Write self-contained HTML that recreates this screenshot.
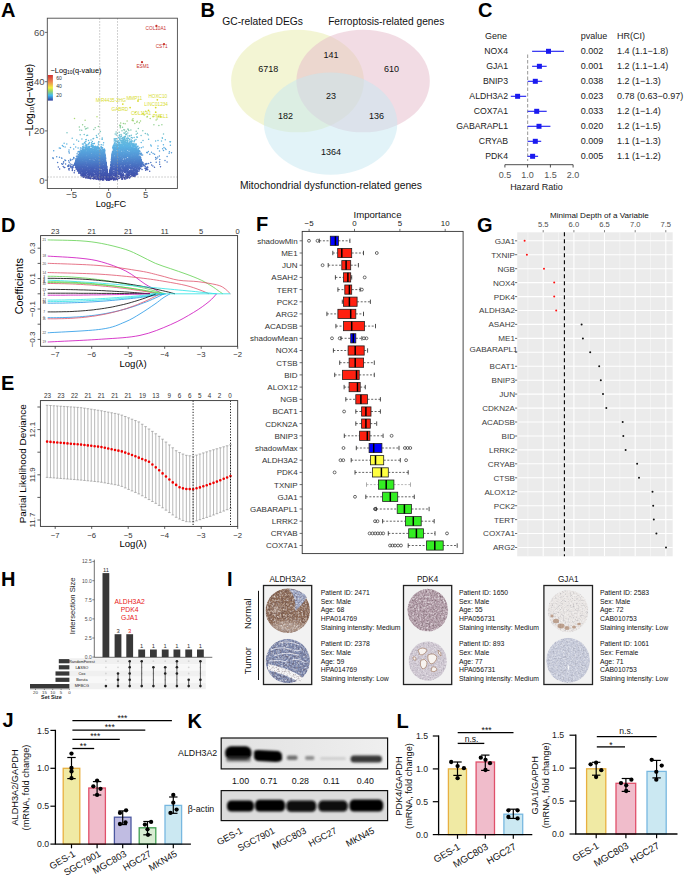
<!DOCTYPE html>
<html><head><meta charset="utf-8"><style>
html,body{margin:0;padding:0;background:#fff;}
body{width:685px;height:876px;overflow:hidden;}
svg{display:block;font-family:"Liberation Sans",sans-serif;}
</style></head><body>
<svg width="685" height="876" viewBox="0 0 685 876">
<rect width="685" height="876" fill="#fff"/>
<text x="1.0" y="17.0" font-size="20" text-anchor="start" fill="#000" font-weight="bold">A</text>
<path d="M108.2 180.2h0M108.3 180.2h0M106.6 180.2h0M109.3 180.1h0M108.3 180.1h0M108.9 180.1h0M109.3 180.0h0M108.9 180.0h0M108.1 180.0h0M113.9 180.0h0M108.8 179.9h0M108.4 179.9h0M108.0 179.9h0M109.3 179.9h0M109.0 179.9h0M102.6 179.9h0M108.3 179.9h0M103.7 179.8h0M108.2 179.8h0" stroke="#3c46a2" stroke-width="1.5" stroke-linecap="round" fill="none"/>
<path d="M100.2 179.8h0M108.9 179.8h0M109.9 179.8h0M113.5 179.7h0M103.7 179.7h0M117.5 179.7h0M102.5 179.7h0M100.8 179.7h0M108.8 179.7h0" stroke="#3c47a2" stroke-width="1.5" stroke-linecap="round" fill="none"/>
<path d="M106.6 179.7h0M115.4 179.7h0M108.3 179.7h0M99.1 179.7h0M108.8 179.7h0M108.0 179.7h0M107.8 179.7h0M108.8 179.6h0M108.9 179.6h0M108.4 179.6h0M106.0 179.6h0M107.9 179.6h0M107.4 179.6h0M103.2 179.6h0M105.9 179.5h0M108.8 179.5h0M109.8 179.5h0M108.8 179.5h0M110.2 179.5h0M117.1 179.5h0M110.2 179.5h0M109.0 179.5h0M108.1 179.5h0M111.7 179.5h0M98.4 179.5h0M114.1 179.4h0M108.9 179.4h0M108.4 179.4h0M108.8 179.4h0M108.3 179.4h0M107.0 179.4h0M108.3 179.4h0M108.8 179.4h0" stroke="#3c47a3" stroke-width="1.5" stroke-linecap="round" fill="none"/>
<path d="M108.8 179.4h0M107.4 179.3h0M108.0 179.3h0M110.6 179.3h0M109.2 179.3h0M107.5 179.3h0M108.2 179.3h0M96.3 179.3h0M122.2 179.3h0M109.6 179.3h0M101.1 179.2h0M111.0 179.2h0M108.4 179.2h0M108.8 179.2h0M107.9 179.2h0M103.4 179.2h0M106.3 179.2h0" stroke="#3c48a3" stroke-width="1.5" stroke-linecap="round" fill="none"/>
<path d="M108.9 179.2h0M108.4 179.2h0M109.7 179.2h0M109.2 179.2h0M107.2 179.2h0M109.1 179.1h0M108.3 179.1h0M116.3 179.1h0M108.3 179.1h0M111.3 179.1h0M108.8 179.1h0M100.6 179.0h0M108.4 179.0h0M108.3 179.0h0M108.0 179.0h0M97.5 179.0h0M108.8 179.0h0" stroke="#3c48a4" stroke-width="1.5" stroke-linecap="round" fill="none"/>
<path d="M124.5 179.0h0M93.6 179.0h0M125.7 178.9h0M122.5 178.9h0M101.4 178.9h0M114.9 178.9h0M108.1 178.9h0M107.7 178.9h0M121.7 178.9h0M108.0 178.9h0M108.4 178.9h0M101.2 178.9h0M109.7 178.8h0M116.0 178.8h0M108.9 178.8h0M111.0 178.8h0M108.8 178.8h0M106.9 178.8h0M95.8 178.8h0M99.6 178.8h0M122.3 178.7h0M108.4 178.7h0M107.6 178.7h0M107.1 178.7h0M108.2 178.7h0M112.5 178.7h0" stroke="#3d49a4" stroke-width="1.5" stroke-linecap="round" fill="none"/>
<path d="M90.9 178.7h0M109.4 178.6h0M109.0 178.6h0M113.6 178.6h0M108.4 178.6h0M102.5 178.6h0M108.4 178.6h0M89.9 178.6h0M94.4 178.6h0M118.2 178.6h0M110.8 178.6h0M111.4 178.6h0M107.9 178.6h0M114.2 178.6h0" stroke="#3d49a5" stroke-width="1.5" stroke-linecap="round" fill="none"/>
<path d="M108.9 178.5h0M113.1 178.5h0M92.7 178.5h0M108.3 178.5h0M94.9 178.5h0M108.8 178.5h0M108.2 178.5h0M109.1 178.5h0M98.1 178.5h0M110.7 178.4h0M105.1 178.4h0M108.3 178.4h0M107.8 178.4h0M90.5 178.4h0M109.2 178.4h0M109.0 178.4h0M98.1 178.4h0M110.4 178.4h0M109.7 178.4h0M108.2 178.3h0M108.3 178.3h0M111.5 178.3h0M114.4 178.3h0M90.2 178.3h0M108.3 178.3h0M108.1 178.3h0M109.1 178.3h0M100.4 178.3h0M108.1 178.3h0M98.6 178.3h0M111.7 178.3h0M108.3 178.3h0M108.9 178.2h0M110.0 178.2h0M108.9 178.2h0M109.1 178.2h0M94.1 178.2h0M119.3 178.2h0M122.2 178.2h0M102.8 178.2h0M124.8 178.2h0M99.8 178.2h0M108.3 178.2h0M107.1 178.2h0" stroke="#3d4aa5" stroke-width="1.5" stroke-linecap="round" fill="none"/>
<path d="M100.7 178.1h0M127.7 178.1h0M108.0 178.1h0M129.6 178.1h0M105.2 178.1h0M97.6 178.1h0M116.5 178.1h0M104.7 178.1h0M108.0 178.0h0M106.1 178.0h0M112.1 178.0h0M108.1 178.0h0M103.2 178.0h0M98.9 178.0h0M88.7 178.0h0M114.9 178.0h0M109.6 178.0h0M109.1 178.0h0M98.2 178.0h0M107.5 178.0h0M117.0 178.0h0M105.3 178.0h0M126.8 178.0h0M107.2 177.9h0M87.6 177.9h0M98.9 177.9h0M87.8 177.9h0M107.9 177.9h0M85.9 177.9h0M97.0 177.9h0M100.0 177.9h0M117.0 177.9h0M104.1 177.9h0M111.3 177.8h0M114.9 177.8h0M95.8 177.8h0M109.8 177.8h0M89.3 177.8h0M90.3 177.8h0M109.4 177.8h0M99.7 177.8h0M126.9 177.8h0M107.3 177.8h0M107.4 177.8h0M113.6 177.8h0M108.1 177.8h0M108.0 177.8h0M107.7 177.8h0M105.2 177.8h0" stroke="#3d4ba6" stroke-width="1.5" stroke-linecap="round" fill="none"/>
<path d="M124.1 177.7h0M110.3 177.7h0M126.4 177.7h0M91.0 177.7h0M113.0 177.7h0M93.4 177.7h0M107.0 177.7h0M88.6 177.7h0M109.0 177.7h0M104.9 177.7h0" stroke="#3e4ca6" stroke-width="1.5" stroke-linecap="round" fill="none"/>
<path d="M123.3 177.6h0M106.9 177.6h0M109.4 177.6h0M100.4 177.6h0M100.4 177.6h0M109.2 177.6h0M86.0 177.6h0M129.6 177.5h0M105.9 177.5h0M112.9 177.5h0M85.8 177.5h0M127.3 177.5h0M87.0 177.5h0M111.1 177.5h0M106.5 177.5h0M121.0 177.5h0M98.8 177.5h0M110.1 177.5h0M102.2 177.5h0M126.2 177.4h0M120.8 177.4h0M107.9 177.4h0M120.1 177.4h0M103.6 177.4h0M101.2 177.4h0M94.7 177.4h0M124.4 177.4h0M110.5 177.4h0M100.7 177.4h0M107.0 177.4h0M89.9 177.4h0M111.0 177.4h0M100.0 177.3h0M109.0 177.3h0M108.1 177.3h0" stroke="#3e4ca7" stroke-width="1.5" stroke-linecap="round" fill="none"/>
<path d="M110.4 177.3h0M107.3 177.3h0M108.1 177.3h0M103.2 177.3h0M127.5 177.3h0M86.9 177.3h0M108.1 177.2h0M128.2 177.2h0M111.5 177.2h0M121.9 177.2h0M107.8 177.2h0M83.4 177.2h0M117.7 177.2h0M109.3 177.2h0M93.9 177.2h0M110.4 177.2h0M107.0 177.2h0M109.2 177.1h0M121.7 177.1h0M125.8 177.1h0" stroke="#3e4da7" stroke-width="1.5" stroke-linecap="round" fill="none"/>
<path d="M106.0 177.1h0M103.3 177.1h0M116.2 177.1h0M122.0 177.1h0M128.5 177.1h0M83.3 177.1h0M101.7 177.1h0M98.0 177.0h0M108.0 177.0h0M86.5 177.0h0M128.5 177.0h0M130.1 177.0h0M116.5 177.0h0M109.6 177.0h0M107.6 177.0h0M97.2 177.0h0M110.1 177.0h0M109.6 177.0h0M101.3 177.0h0M109.8 177.0h0M109.0 176.9h0M120.7 176.9h0M100.1 176.9h0M95.8 176.9h0" stroke="#3e4da8" stroke-width="1.5" stroke-linecap="round" fill="none"/>
<path d="M109.7 176.9h0M108.0 176.9h0M128.6 176.9h0M101.7 176.9h0M98.6 176.9h0M111.0 176.9h0M86.8 176.9h0M93.6 176.8h0M117.8 176.8h0M122.9 176.8h0M125.4 176.8h0M103.5 176.8h0M95.8 176.8h0M89.8 176.8h0M107.2 176.8h0M93.9 176.7h0M95.3 176.7h0M93.2 176.7h0M115.0 176.7h0M118.1 176.7h0M110.3 176.7h0M84.4 176.7h0M107.5 176.7h0M107.8 176.7h0M84.0 176.7h0M122.5 176.7h0M93.5 176.7h0M93.3 176.6h0M109.3 176.6h0M86.6 176.6h0M97.3 176.6h0M126.5 176.6h0M109.3 176.6h0M108.0 176.6h0M118.7 176.6h0" stroke="#3e4ea8" stroke-width="1.5" stroke-linecap="round" fill="none"/>
<path d="M111.9 176.6h0M134.1 176.6h0M97.8 176.6h0M104.9 176.6h0M84.6 176.6h0M88.5 176.6h0M107.2 176.6h0M111.0 176.6h0M96.2 176.6h0M109.1 176.6h0M84.5 176.5h0M91.7 176.5h0M96.1 176.5h0M106.7 176.5h0" stroke="#3e4ea9" stroke-width="1.5" stroke-linecap="round" fill="none"/>
<path d="M110.3 176.5h0M108.1 176.5h0M102.8 176.5h0M90.0 176.5h0M103.0 176.5h0M109.1 176.5h0M115.6 176.5h0M87.3 176.4h0M86.9 176.4h0M112.1 176.4h0M87.2 176.4h0M95.4 176.4h0M111.9 176.4h0M102.6 176.4h0M96.7 176.4h0M109.3 176.4h0M128.1 176.4h0M107.8 176.4h0M106.2 176.4h0M84.4 176.4h0M105.7 176.4h0M109.3 176.3h0M109.5 176.3h0M99.5 176.3h0M127.5 176.3h0M97.3 176.3h0M92.9 176.3h0M116.7 176.3h0M109.6 176.3h0M97.9 176.2h0M100.4 176.2h0M105.4 176.2h0M118.0 176.2h0M101.6 176.2h0M106.2 176.2h0M96.8 176.2h0M123.2 176.2h0M109.9 176.2h0M105.6 176.2h0M112.8 176.2h0M109.4 176.2h0M120.3 176.2h0M110.7 176.2h0M100.2 176.2h0M109.1 176.2h0M107.8 176.2h0M88.3 176.2h0M130.8 176.2h0M111.7 176.2h0M112.5 176.1h0M126.1 176.1h0M120.4 176.1h0M133.8 176.1h0M120.5 176.1h0M110.0 176.1h0M106.7 176.1h0" stroke="#3f4fa9" stroke-width="1.5" stroke-linecap="round" fill="none"/>
<path d="M101.3 176.1h0M92.4 176.1h0M110.2 176.1h0M121.6 176.0h0M95.8 176.0h0M109.1 176.0h0M135.3 176.0h0M125.6 176.0h0M109.2 176.0h0M108.0 176.0h0M108.0 176.0h0M121.9 176.0h0M135.0 176.0h0M115.3 176.0h0M101.0 176.0h0M121.3 176.0h0M134.1 176.0h0M81.8 176.0h0M133.5 175.9h0M100.8 175.9h0M125.2 175.9h0M106.9 175.9h0M131.6 175.9h0M82.6 175.9h0M110.3 175.9h0M101.1 175.9h0M84.8 175.9h0M86.9 175.8h0M82.9 175.8h0M134.4 175.8h0M89.7 175.8h0M102.9 175.8h0M97.7 175.8h0M106.8 175.8h0M107.9 175.8h0M132.5 175.8h0M83.6 175.8h0M91.6 175.8h0M117.6 175.7h0M109.7 175.7h0M94.9 175.7h0M85.6 175.7h0M107.1 175.7h0M85.7 175.7h0" stroke="#3f50aa" stroke-width="1.5" stroke-linecap="round" fill="none"/>
<path d="M129.1 175.6h0M103.1 175.6h0M91.2 175.6h0M105.9 175.6h0M81.0 175.6h0M123.8 175.6h0" stroke="#3f51aa" stroke-width="1.5" stroke-linecap="round" fill="none"/>
<path d="M83.2 175.6h0M104.0 175.6h0M122.3 175.6h0M83.2 175.6h0M101.6 175.5h0M122.0 175.5h0M106.8 175.5h0M107.7 175.5h0M109.7 175.5h0M107.8 175.5h0M115.4 175.5h0M105.3 175.5h0M129.4 175.5h0M107.6 175.5h0M114.6 175.5h0M115.4 175.5h0M116.6 175.5h0M99.0 175.5h0M106.9 175.4h0M83.0 175.4h0M132.3 175.4h0M82.8 175.4h0M104.0 175.4h0M113.7 175.4h0M100.8 175.4h0M109.3 175.4h0M104.0 175.4h0M110.4 175.4h0M109.3 175.4h0M98.5 175.4h0M127.5 175.4h0M134.7 175.3h0M83.5 175.3h0M106.9 175.3h0M128.0 175.3h0M91.7 175.3h0M89.1 175.3h0M121.4 175.3h0M107.9 175.3h0M110.3 175.3h0M108.0 175.3h0M93.3 175.3h0M83.5 175.3h0" stroke="#3f51ab" stroke-width="1.5" stroke-linecap="round" fill="none"/>
<path d="M132.8 175.2h0M111.7 175.2h0M122.4 175.2h0M111.7 175.2h0M93.9 175.2h0M109.4 175.2h0M116.2 175.2h0M120.8 175.2h0M102.9 175.1h0M107.5 175.1h0M82.6 175.1h0M123.2 175.1h0M128.6 175.1h0M107.2 175.1h0M115.8 175.1h0M123.4 175.1h0M101.9 175.1h0M127.4 175.1h0M105.1 175.1h0M93.0 175.1h0M96.7 175.1h0M90.0 175.1h0" stroke="#4052ab" stroke-width="1.5" stroke-linecap="round" fill="none"/>
<path d="M102.8 175.1h0M133.9 175.1h0M121.3 175.0h0M99.0 175.0h0M134.7 175.0h0M111.7 175.0h0M110.5 175.0h0M106.3 175.0h0M101.3 175.0h0M84.8 175.0h0M107.0 174.9h0M97.1 174.9h0M123.2 174.9h0M105.7 174.9h0M135.0 174.9h0M101.5 174.9h0M82.2 174.9h0M88.1 174.9h0M123.9 174.9h0M109.7 174.9h0M85.0 174.9h0" stroke="#4052ac" stroke-width="1.5" stroke-linecap="round" fill="none"/>
<path d="M93.0 174.9h0M92.8 174.8h0M131.7 174.8h0M103.3 174.8h0M88.8 174.8h0M136.7 174.8h0M107.8 174.8h0M98.6 174.8h0M110.2 174.8h0M111.4 174.8h0M120.8 174.8h0M98.0 174.8h0M104.8 174.8h0M110.4 174.8h0M81.4 174.8h0M115.8 174.8h0M85.2 174.8h0M98.6 174.8h0M100.6 174.8h0M97.8 174.8h0M133.4 174.7h0M109.9 174.7h0M83.8 174.7h0M131.8 174.7h0M133.7 174.7h0M91.6 174.7h0M126.1 174.7h0M117.1 174.7h0M92.4 174.7h0M110.6 174.7h0M127.8 174.7h0M109.4 174.7h0M134.8 174.7h0M85.5 174.7h0M126.8 174.7h0M110.6 174.7h0M123.0 174.7h0M119.5 174.7h0M116.3 174.7h0M99.2 174.6h0M128.4 174.6h0M84.8 174.6h0M93.3 174.6h0M107.8 174.6h0M115.6 174.6h0M127.1 174.6h0M107.3 174.6h0M127.0 174.6h0M81.7 174.6h0M122.8 174.6h0M95.7 174.6h0M113.9 174.6h0M92.7 174.6h0" stroke="#4053ac" stroke-width="1.5" stroke-linecap="round" fill="none"/>
<path d="M109.8 174.6h0M89.7 174.6h0M91.9 174.5h0M83.3 174.5h0M82.9 174.5h0M109.5 174.5h0M101.5 174.5h0M83.6 174.5h0M93.7 174.5h0M107.2 174.5h0M88.8 174.5h0M130.5 174.5h0M112.9 174.5h0" stroke="#4053ad" stroke-width="1.5" stroke-linecap="round" fill="none"/>
<path d="M116.6 174.4h0M85.1 174.4h0M88.9 174.4h0M103.8 174.4h0M111.1 174.4h0M84.1 174.4h0M109.9 174.4h0M101.5 174.4h0M87.4 174.4h0M99.4 174.4h0M128.2 174.4h0M127.1 174.4h0M94.5 174.4h0M90.2 174.4h0M129.2 174.3h0M85.5 174.3h0M83.0 174.3h0M126.4 174.3h0M137.1 174.3h0M122.2 174.3h0M127.3 174.3h0M94.6 174.3h0M128.9 174.3h0M96.7 174.3h0M81.2 174.3h0M132.4 174.3h0M85.3 174.3h0M120.2 174.3h0M91.6 174.2h0M109.6 174.2h0M100.5 174.2h0M89.3 174.2h0M135.8 174.2h0M109.4 174.2h0M118.5 174.2h0M133.9 174.2h0M101.9 174.2h0M98.4 174.2h0M88.5 174.2h0M107.7 174.2h0M89.4 174.2h0M83.0 174.2h0M96.6 174.1h0M131.0 174.1h0M111.8 174.1h0M96.4 174.1h0M91.2 174.1h0M104.7 174.1h0M137.7 174.1h0M128.4 174.1h0M107.7 174.1h0M127.2 174.1h0M91.8 174.1h0M114.5 174.1h0M91.7 174.1h0M100.8 174.1h0M123.4 174.1h0M109.7 174.1h0" stroke="#4054ad" stroke-width="1.5" stroke-linecap="round" fill="none"/>
<path d="M82.9 174.0h0M121.8 174.0h0M105.1 174.0h0M81.2 174.0h0M105.7 174.0h0M123.2 174.0h0M133.7 174.0h0M107.2 174.0h0M98.4 174.0h0M96.1 174.0h0M104.6 174.0h0M103.5 174.0h0M121.2 174.0h0M118.1 174.0h0M115.8 174.0h0M89.8 173.9h0M97.8 173.9h0M134.8 173.9h0M109.6 173.9h0M111.3 173.9h0M107.3 173.9h0M109.9 173.9h0M126.9 173.9h0M113.9 173.9h0M112.5 173.9h0M86.2 173.9h0M121.4 173.9h0M81.8 173.9h0M104.8 173.9h0M110.5 173.9h0M88.6 173.8h0M91.6 173.8h0M116.9 173.8h0M128.8 173.8h0M107.4 173.8h0M92.5 173.8h0M107.8 173.8h0M128.9 173.8h0M110.4 173.8h0M106.3 173.8h0M114.9 173.8h0M90.0 173.8h0M96.7 173.8h0M106.0 173.7h0M91.5 173.7h0M121.5 173.7h0M134.9 173.7h0M129.5 173.7h0M105.2 173.7h0M83.7 173.7h0M119.4 173.7h0M100.0 173.7h0M92.9 173.7h0M101.7 173.7h0M99.3 173.7h0M88.4 173.7h0M135.7 173.6h0M107.4 173.6h0M89.3 173.6h0M115.9 173.6h0M133.7 173.6h0" stroke="#4155ae" stroke-width="1.5" stroke-linecap="round" fill="none"/>
<path d="M100.4 173.6h0M92.2 173.6h0M131.3 173.6h0M111.2 173.6h0M107.7 173.6h0M109.5 173.6h0M98.1 173.6h0M111.8 173.6h0M110.2 173.6h0M131.7 173.6h0M134.2 173.6h0M83.1 173.5h0" stroke="#4156ae" stroke-width="1.5" stroke-linecap="round" fill="none"/>
<path d="M92.8 173.5h0M121.2 173.5h0M104.8 173.5h0M92.4 173.5h0M105.5 173.5h0M100.8 173.5h0M118.9 173.5h0M104.6 173.5h0M98.5 173.5h0M119.7 173.5h0M89.6 173.5h0M100.8 173.5h0M107.7 173.5h0M84.1 173.5h0M119.7 173.4h0M119.6 173.4h0M92.4 173.4h0M107.3 173.4h0M131.3 173.4h0M90.6 173.4h0M85.3 173.4h0M113.5 173.4h0M111.4 173.4h0M132.4 173.4h0M82.4 173.4h0M80.5 173.4h0M88.3 173.3h0M112.0 173.3h0M92.0 173.3h0M106.6 173.3h0M120.2 173.3h0M103.1 173.3h0M95.5 173.3h0M101.2 173.3h0M132.9 173.3h0M82.9 173.3h0M133.1 173.2h0M102.9 173.2h0M110.2 173.2h0M136.6 173.2h0M109.6 173.2h0" stroke="#4156af" stroke-width="1.5" stroke-linecap="round" fill="none"/>
<path d="M82.7 173.2h0M110.9 173.2h0M112.0 173.2h0M107.6 173.2h0M107.1 173.2h0M106.9 173.2h0M86.4 173.2h0M110.9 173.2h0M79.1 173.2h0M136.8 173.2h0M107.6 173.2h0M102.6 173.2h0M119.9 173.1h0M110.7 173.1h0M125.9 173.1h0M107.1 173.1h0M96.0 173.1h0M112.6 173.1h0M91.4 173.1h0M104.5 173.1h0M89.8 173.1h0M93.7 173.1h0M104.8 173.1h0M131.5 173.1h0M91.6 173.1h0M109.9 173.0h0M83.7 173.0h0M107.5 173.0h0M85.8 173.0h0M132.8 173.0h0M117.8 173.0h0M127.3 173.0h0M116.2 173.0h0M111.8 173.0h0" stroke="#4157af" stroke-width="1.5" stroke-linecap="round" fill="none"/>
<path d="M85.2 173.0h0M114.4 173.0h0M107.5 173.0h0M106.0 173.0h0M115.5 173.0h0M116.8 173.0h0M110.4 173.0h0M100.5 173.0h0M113.2 172.9h0M110.3 172.9h0M110.1 172.9h0M96.4 172.9h0M107.2 172.9h0M92.8 172.9h0M132.6 172.9h0M104.7 172.9h0M107.0 172.9h0M103.0 172.9h0M78.6 172.9h0M110.1 172.9h0M85.7 172.8h0M86.5 172.8h0M89.8 172.8h0M115.3 172.8h0" stroke="#4157b0" stroke-width="1.5" stroke-linecap="round" fill="none"/>
<path d="M133.3 172.8h0M87.8 172.8h0M87.4 172.8h0M79.9 172.8h0M136.5 172.8h0M80.6 172.8h0M104.1 172.8h0M121.0 172.8h0M135.2 172.7h0M129.3 172.7h0M130.4 172.7h0M94.7 172.7h0M80.1 172.7h0M105.3 172.7h0M97.5 172.7h0M80.6 172.7h0M128.6 172.7h0M74.2 172.7h0M128.0 172.7h0M102.2 172.6h0M111.1 172.6h0M95.2 172.6h0M83.3 172.6h0M111.3 172.6h0M87.6 172.6h0M88.1 172.6h0M92.5 172.6h0M100.5 172.6h0M116.7 172.6h0M102.5 172.5h0M95.5 172.5h0M127.9 172.5h0M119.1 172.5h0M120.9 172.5h0" stroke="#4258b0" stroke-width="1.5" stroke-linecap="round" fill="none"/>
<path d="M97.5 172.5h0M129.5 172.5h0M83.9 172.5h0M90.4 172.5h0M124.5 172.5h0M87.4 172.4h0" stroke="#4258b1" stroke-width="1.5" stroke-linecap="round" fill="none"/>
<path d="M106.5 172.4h0M87.2 172.4h0M122.4 172.4h0M110.1 172.4h0M127.8 172.4h0M128.1 172.4h0M105.8 172.4h0M98.0 172.4h0M131.4 172.3h0M109.8 172.3h0M111.9 172.3h0M111.5 172.3h0M109.8 172.3h0M105.2 172.3h0M88.6 172.3h0M81.9 172.3h0M94.8 172.3h0M125.6 172.3h0M84.4 172.3h0M125.5 172.3h0M86.1 172.3h0M95.8 172.3h0M92.3 172.3h0M125.1 172.2h0M133.7 172.2h0M131.7 172.2h0M131.8 172.2h0M133.4 172.2h0M88.3 172.2h0M116.2 172.2h0M131.1 172.2h0M134.6 172.2h0M88.5 172.2h0M131.7 172.2h0M112.5 172.2h0M119.6 172.2h0M128.2 172.2h0M99.8 172.2h0M132.9 172.2h0M106.9 172.2h0M133.9 172.1h0M114.9 172.1h0M86.0 172.1h0M111.0 172.1h0M118.1 172.1h0M137.1 172.1h0M136.1 172.1h0M101.8 172.1h0M107.2 172.1h0M105.4 172.1h0M112.2 172.1h0M100.0 172.1h0M87.7 172.1h0M98.7 172.0h0M117.4 172.0h0M122.8 172.0h0M103.0 172.0h0M124.8 172.0h0M80.2 172.0h0M128.5 172.0h0M106.6 172.0h0M90.5 172.0h0M131.3 172.0h0M125.8 172.0h0M110.2 172.0h0M111.4 172.0h0M84.6 172.0h0" stroke="#4259b1" stroke-width="1.5" stroke-linecap="round" fill="none"/>
<path d="M117.6 172.0h0M99.8 172.0h0M83.0 172.0h0M133.6 172.0h0M88.5 172.0h0M133.5 172.0h0M133.8 172.0h0M91.8 172.0h0M115.3 172.0h0M126.6 171.9h0M83.6 171.9h0M92.4 171.9h0M133.9 171.9h0M89.5 171.9h0M82.1 171.9h0M82.5 171.9h0M78.6 171.9h0M82.3 171.9h0M99.1 171.9h0M124.5 171.9h0M105.8 171.9h0M99.3 171.9h0M110.5 171.9h0M80.2 171.8h0M114.2 171.8h0M109.9 171.8h0M111.8 171.8h0M107.3 171.8h0M134.0 171.8h0M82.3 171.8h0M79.0 171.8h0M119.4 171.8h0M119.9 171.8h0M137.5 171.8h0M93.2 171.8h0M126.4 171.8h0M95.0 171.8h0M90.8 171.7h0M82.8 171.7h0M81.4 171.7h0M110.7 171.7h0M107.0 171.7h0M130.8 171.7h0M93.9 171.7h0M107.4 171.7h0M118.8 171.7h0M136.4 171.7h0M103.5 171.7h0M110.0 171.7h0M119.9 171.6h0M103.3 171.6h0M124.9 171.6h0M128.9 171.6h0M106.8 171.6h0M107.2 171.6h0M113.9 171.6h0M98.0 171.6h0M128.3 171.6h0M94.0 171.6h0M99.1 171.6h0M111.0 171.6h0" stroke="#425ab2" stroke-width="1.5" stroke-linecap="round" fill="none"/>
<path d="M111.9 171.6h0M121.0 171.6h0M100.5 171.6h0M130.3 171.6h0M85.7 171.5h0M92.6 171.5h0M106.1 171.5h0M110.3 171.5h0M85.3 171.5h0M111.2 171.5h0M95.9 171.5h0M107.4 171.5h0M127.8 171.5h0M99.6 171.5h0M82.9 171.5h0M124.0 171.5h0M113.7 171.5h0M81.9 171.5h0M96.3 171.5h0M79.6 171.5h0M130.9 171.5h0M82.0 171.5h0M118.4 171.5h0" stroke="#435bb2" stroke-width="1.5" stroke-linecap="round" fill="none"/>
<path d="M127.2 171.5h0M95.6 171.4h0M95.1 171.4h0M136.6 171.4h0M110.0 171.4h0M98.8 171.4h0M111.4 171.4h0M110.0 171.4h0M103.2 171.4h0M79.1 171.4h0M87.4 171.4h0M128.9 171.4h0M88.6 171.4h0M98.1 171.3h0M100.4 171.3h0M105.3 171.3h0M91.2 171.3h0M132.5 171.3h0M89.5 171.3h0M137.0 171.3h0M137.5 171.3h0M93.8 171.3h0M93.8 171.3h0M88.9 171.3h0M84.3 171.3h0M98.8 171.3h0M99.5 171.3h0M100.6 171.3h0M85.1 171.3h0M109.9 171.3h0M138.9 171.3h0M109.8 171.3h0M149.7 171.2h0M110.4 171.2h0M83.6 171.2h0M106.7 171.2h0M99.3 171.2h0M97.2 171.2h0M110.0 171.2h0M100.9 171.2h0M135.7 171.2h0" stroke="#435bb3" stroke-width="1.5" stroke-linecap="round" fill="none"/>
<path d="M110.6 171.2h0M132.3 171.2h0M116.9 171.1h0M124.7 171.1h0M125.7 171.1h0M77.4 171.1h0M94.9 171.1h0M83.7 171.1h0M82.3 171.1h0M125.4 171.1h0M110.0 171.1h0M89.5 171.1h0M91.2 171.1h0M110.1 171.1h0M99.0 171.1h0M125.8 171.1h0M94.6 171.1h0M107.4 171.1h0M107.3 171.1h0M135.2 171.1h0M128.0 171.1h0M95.7 171.1h0M122.6 171.0h0M129.6 171.0h0M89.5 171.0h0M105.0 171.0h0M117.7 171.0h0M94.3 171.0h0M83.4 171.0h0M131.5 171.0h0M110.5 171.0h0M133.2 171.0h0M115.7 171.0h0" stroke="#435cb3" stroke-width="1.5" stroke-linecap="round" fill="none"/>
<path d="M91.3 171.0h0M102.4 171.0h0M119.0 171.0h0M92.7 170.9h0M93.4 170.9h0M110.4 170.9h0M129.7 170.9h0M103.7 170.9h0M122.5 170.9h0M123.6 170.9h0M125.1 170.9h0M112.0 170.9h0M100.9 170.9h0M131.9 170.9h0M121.6 170.9h0M99.4 170.9h0M130.5 170.9h0M122.1 170.9h0M116.5 170.9h0M107.0 170.9h0M96.8 170.8h0M120.7 170.8h0M99.1 170.8h0M92.7 170.8h0M124.0 170.8h0M90.2 170.8h0M101.2 170.8h0M137.6 170.8h0M133.1 170.8h0M84.9 170.8h0M106.6 170.8h0M129.6 170.8h0M90.7 170.8h0M103.6 170.8h0M91.7 170.8h0M94.5 170.8h0" stroke="#435cb4" stroke-width="1.5" stroke-linecap="round" fill="none"/>
<path d="M100.7 170.8h0M80.3 170.8h0M119.4 170.7h0M103.3 170.7h0M93.5 170.7h0M98.5 170.7h0M133.1 170.7h0M116.5 170.7h0M84.2 170.7h0M110.5 170.7h0M125.8 170.7h0M87.1 170.7h0M111.4 170.7h0M83.9 170.7h0M124.7 170.7h0M121.0 170.7h0M74.6 170.7h0M134.6 170.7h0M98.6 170.7h0M136.4 170.7h0M79.9 170.7h0M118.2 170.7h0M86.3 170.7h0M110.5 170.7h0M110.2 170.7h0M105.0 170.6h0M105.1 170.6h0M89.4 170.6h0M81.9 170.6h0M118.7 170.6h0M83.7 170.6h0M134.7 170.6h0M121.1 170.6h0M119.1 170.6h0M85.2 170.6h0M103.5 170.6h0M78.8 170.6h0M98.6 170.6h0M115.4 170.6h0M120.3 170.6h0M116.7 170.6h0M92.9 170.5h0M85.2 170.5h0M92.2 170.5h0M134.0 170.5h0M111.3 170.5h0M87.1 170.5h0M121.2 170.5h0M89.1 170.5h0M81.8 170.5h0M111.5 170.5h0M133.4 170.5h0M77.7 170.5h0M111.8 170.5h0M134.7 170.5h0M83.5 170.5h0" stroke="#435db4" stroke-width="1.5" stroke-linecap="round" fill="none"/>
<path d="M131.3 170.4h0M110.0 170.4h0M119.7 170.4h0M106.7 170.4h0M87.9 170.4h0M82.7 170.4h0M127.4 170.4h0M118.0 170.4h0M90.7 170.4h0M91.3 170.4h0M131.0 170.4h0M104.7 170.4h0M92.7 170.4h0M120.3 170.4h0M103.2 170.4h0M72.3 170.4h0M93.4 170.4h0M125.4 170.4h0M104.4 170.4h0M89.5 170.4h0M88.9 170.3h0" stroke="#435db5" stroke-width="1.5" stroke-linecap="round" fill="none"/>
<path d="M145.7 170.3h0M130.7 170.3h0M124.7 170.3h0M103.8 170.3h0M80.9 170.3h0M135.9 170.3h0M110.1 170.3h0M82.3 170.3h0M103.7 170.3h0M126.9 170.3h0M97.3 170.3h0M120.0 170.3h0M126.5 170.3h0M137.2 170.3h0M93.3 170.3h0M87.9 170.3h0M100.3 170.3h0M96.9 170.3h0M104.0 170.2h0M116.5 170.2h0M86.4 170.2h0M95.5 170.2h0M91.0 170.2h0M125.1 170.2h0M117.0 170.2h0M116.4 170.2h0M133.9 170.2h0M111.7 170.2h0M91.0 170.2h0M118.3 170.2h0M84.5 170.2h0M122.3 170.2h0M92.0 170.2h0M81.3 170.1h0M93.1 170.1h0M106.9 170.1h0M93.1 170.1h0M110.5 170.1h0M106.0 170.1h0M93.5 170.1h0M123.6 170.1h0M80.7 170.1h0M106.4 170.1h0M85.9 170.1h0M81.9 170.1h0M96.1 170.1h0M113.0 170.1h0M103.2 170.1h0M134.5 170.1h0M139.0 170.1h0M91.6 170.1h0M120.6 170.1h0M98.7 170.0h0M97.1 170.0h0M122.0 170.0h0M92.5 170.0h0M100.2 170.0h0M124.7 170.0h0M119.7 170.0h0M85.3 170.0h0M84.2 170.0h0M94.9 170.0h0M102.3 170.0h0M96.1 170.0h0M105.3 170.0h0M135.3 170.0h0M85.1 169.9h0M114.4 169.9h0M69.1 169.9h0" stroke="#445eb5" stroke-width="1.5" stroke-linecap="round" fill="none"/>
<path d="M83.5 169.9h0M94.1 169.9h0M118.8 169.9h0M95.9 169.9h0M110.4 169.9h0M83.2 169.9h0M96.3 169.9h0M112.0 169.9h0M96.3 169.9h0M117.4 169.9h0M86.4 169.9h0M127.3 169.9h0M106.7 169.9h0M90.7 169.8h0M91.3 169.8h0M85.8 169.8h0M78.4 169.8h0M91.6 169.8h0M128.4 169.8h0M110.9 169.8h0M111.2 169.8h0M114.4 169.8h0M110.8 169.8h0M107.2 169.8h0M115.6 169.8h0M86.5 169.8h0M116.1 169.7h0M103.8 169.7h0M116.6 169.7h0M123.4 169.7h0M139.5 169.7h0M133.7 169.7h0M78.1 169.7h0M133.8 169.7h0M91.0 169.7h0M102.7 169.7h0M147.6 169.7h0M77.5 169.7h0M117.0 169.6h0M125.5 169.6h0M110.3 169.6h0M135.6 169.6h0M85.1 169.6h0M92.1 169.6h0M91.8 169.6h0M127.6 169.6h0M81.9 169.6h0M118.7 169.6h0M110.3 169.6h0M114.2 169.6h0M107.0 169.6h0M96.3 169.6h0M112.7 169.6h0M98.3 169.5h0M102.6 169.5h0M86.6 169.5h0" stroke="#445fb6" stroke-width="1.5" stroke-linecap="round" fill="none"/>
<path d="M90.6 169.5h0M124.3 169.5h0M111.6 169.5h0M117.7 169.5h0M106.6 169.5h0M115.5 169.5h0M119.0 169.5h0M85.9 169.5h0M105.1 169.5h0M93.2 169.5h0M83.8 169.5h0M126.8 169.5h0M111.1 169.5h0M146.4 169.5h0M91.4 169.5h0M127.7 169.5h0M110.4 169.4h0M119.1 169.4h0M134.1 169.4h0" stroke="#4460b6" stroke-width="1.5" stroke-linecap="round" fill="none"/>
<path d="M90.4 169.4h0M117.5 169.4h0M120.4 169.4h0M123.4 169.4h0M142.0 169.4h0M125.2 169.4h0M77.8 169.4h0M85.2 169.4h0M117.0 169.4h0M112.1 169.4h0M116.1 169.3h0M110.6 169.3h0M127.4 169.3h0M120.2 169.3h0M86.7 169.3h0M93.6 169.3h0M87.4 169.3h0M88.6 169.3h0M135.3 169.3h0M72.4 169.3h0M121.8 169.3h0M126.6 169.3h0M102.8 169.3h0M97.2 169.3h0M84.8 169.3h0M80.5 169.3h0M114.7 169.3h0M114.2 169.3h0M107.1 169.2h0M115.3 169.2h0M134.4 169.2h0M90.8 169.2h0M103.1 169.2h0M97.5 169.2h0M106.5 169.2h0M118.5 169.2h0M78.8 169.2h0M79.6 169.2h0M96.7 169.2h0M116.6 169.2h0M135.6 169.2h0M113.9 169.2h0M147.6 169.2h0M146.2 169.2h0M104.6 169.2h0M76.3 169.2h0M91.1 169.2h0M112.2 169.1h0M120.3 169.1h0M87.7 169.1h0M89.5 169.1h0M147.5 169.1h0M136.6 169.1h0M110.8 169.1h0" stroke="#4460b7" stroke-width="1.5" stroke-linecap="round" fill="none"/>
<path d="M59.6 169.1h0M138.1 169.1h0M98.1 169.1h0M137.3 169.1h0M91.5 169.1h0M103.7 169.1h0M68.6 169.1h0M93.0 169.1h0M99.2 169.1h0M138.5 169.1h0M139.2 169.1h0M136.7 169.1h0M126.2 169.1h0M111.8 169.1h0M124.2 169.0h0M114.1 169.0h0M82.8 169.0h0M90.4 169.0h0M110.6 169.0h0M88.4 169.0h0M132.9 169.0h0M88.1 169.0h0M133.3 169.0h0M102.7 169.0h0M98.8 169.0h0M126.3 169.0h0M86.5 169.0h0M124.5 169.0h0M119.1 169.0h0M85.5 169.0h0M81.5 169.0h0M133.3 168.9h0M85.7 168.9h0M82.8 168.9h0M113.3 168.9h0M110.3 168.9h0M98.2 168.9h0M132.0 168.9h0M125.9 168.9h0" stroke="#4561b7" stroke-width="1.5" stroke-linecap="round" fill="none"/>
<path d="M110.3 168.9h0M114.2 168.9h0M131.7 168.9h0M123.4 168.9h0M118.3 168.9h0M130.4 168.9h0M92.8 168.9h0M116.4 168.8h0M136.5 168.8h0M113.6 168.8h0M96.3 168.8h0M115.8 168.8h0M127.9 168.8h0M119.0 168.8h0M101.8 168.8h0M130.1 168.8h0M102.2 168.8h0M101.8 168.8h0M119.6 168.8h0M146.4 168.8h0M81.5 168.8h0M95.7 168.8h0M83.8 168.8h0M136.5 168.8h0M93.4 168.7h0M86.7 168.7h0M100.2 168.7h0M131.0 168.7h0M101.2 168.7h0M80.0 168.7h0" stroke="#4561b8" stroke-width="1.5" stroke-linecap="round" fill="none"/>
<path d="M87.1 168.7h0M111.7 168.7h0M122.8 168.6h0M134.0 168.6h0M96.3 168.6h0M106.4 168.6h0M125.2 168.6h0M94.1 168.6h0M86.6 168.6h0M91.4 168.6h0M124.4 168.6h0M127.0 168.6h0M112.1 168.6h0M118.9 168.6h0M101.6 168.6h0M125.3 168.6h0M105.1 168.6h0M116.5 168.6h0M139.5 168.6h0M112.6 168.6h0M120.8 168.6h0M138.6 168.6h0M94.2 168.5h0M89.4 168.5h0M83.8 168.5h0M113.4 168.5h0M133.6 168.5h0M96.6 168.5h0M136.9 168.5h0M124.3 168.5h0M115.6 168.5h0M77.2 168.5h0M102.6 168.5h0M136.2 168.5h0M116.3 168.5h0M96.4 168.5h0M79.8 168.4h0M140.0 168.4h0M112.0 168.4h0M106.7 168.4h0M113.5 168.4h0M106.1 168.4h0M106.7 168.4h0M81.3 168.4h0" stroke="#4562b8" stroke-width="1.5" stroke-linecap="round" fill="none"/>
<path d="M100.1 168.4h0M125.7 168.4h0M78.8 168.4h0M99.7 168.4h0M105.5 168.4h0M118.7 168.4h0M69.2 168.4h0M88.8 168.4h0M92.6 168.4h0M83.4 168.4h0M117.4 168.4h0M92.6 168.4h0M127.0 168.3h0M110.8 168.3h0M80.9 168.3h0M85.9 168.3h0M76.5 168.3h0M118.4 168.3h0M119.8 168.3h0M136.7 168.3h0M95.7 168.3h0M97.3 168.3h0M102.0 168.3h0" stroke="#4562b9" stroke-width="1.5" stroke-linecap="round" fill="none"/>
<path d="M90.0 168.3h0M100.7 168.3h0M72.1 168.3h0M130.8 168.3h0M100.0 168.3h0M119.6 168.3h0M123.3 168.2h0M87.6 168.2h0M88.0 168.2h0M100.8 168.2h0M99.3 168.2h0M93.8 168.2h0M95.1 168.2h0M128.1 168.2h0M89.4 168.2h0M104.3 168.2h0M92.0 168.2h0M132.1 168.2h0M84.2 168.2h0M104.4 168.2h0M134.1 168.2h0M110.8 168.2h0M105.7 168.2h0M140.7 168.2h0M144.9 168.2h0M126.7 168.2h0M145.9 168.2h0M94.3 168.1h0M126.4 168.1h0M110.9 168.1h0M89.4 168.1h0M124.8 168.1h0M87.9 168.1h0M138.7 168.1h0M120.6 168.1h0M95.9 168.1h0M105.9 168.1h0M139.3 168.0h0M100.3 168.0h0M98.8 168.0h0M101.4 168.0h0M129.4 168.0h0M126.3 168.0h0M111.7 168.0h0M113.7 168.0h0M114.5 168.0h0M86.1 168.0h0M140.7 168.0h0M125.9 168.0h0M78.0 168.0h0M122.3 168.0h0M90.1 167.9h0M83.9 167.9h0M133.0 167.9h0M123.6 167.9h0M110.8 167.9h0M105.1 167.9h0M98.8 167.9h0" stroke="#4563b9" stroke-width="1.5" stroke-linecap="round" fill="none"/>
<path d="M114.7 167.9h0M117.5 167.9h0M85.4 167.9h0M81.7 167.9h0M106.3 167.9h0M113.2 167.9h0M85.2 167.9h0M111.3 167.9h0M89.9 167.9h0M121.0 167.8h0M81.4 167.8h0M92.0 167.8h0M119.2 167.8h0M98.2 167.8h0M82.6 167.8h0M80.5 167.8h0M123.9 167.8h0M111.0 167.8h0M78.1 167.8h0M102.2 167.8h0M80.1 167.8h0M77.3 167.8h0M130.6 167.8h0M130.2 167.8h0M87.4 167.8h0M102.6 167.8h0M78.3 167.8h0M125.2 167.8h0M106.7 167.8h0M115.3 167.8h0M100.0 167.8h0M134.6 167.7h0M100.3 167.7h0M85.8 167.7h0M86.0 167.7h0M106.5 167.7h0M78.7 167.7h0M79.5 167.7h0M115.2 167.7h0M90.6 167.7h0M117.7 167.7h0M146.7 167.7h0M122.5 167.7h0M84.9 167.7h0M77.1 167.7h0M85.7 167.7h0M72.7 167.7h0" stroke="#4664ba" stroke-width="1.5" stroke-linecap="round" fill="none"/>
<path d="M91.3 167.6h0M106.1 167.6h0M85.0 167.6h0M93.6 167.6h0M92.7 167.6h0M90.5 167.6h0M137.7 167.6h0M64.1 167.6h0M111.4 167.6h0M120.1 167.6h0M128.5 167.6h0M101.8 167.6h0M112.3 167.5h0M111.9 167.5h0M94.5 167.5h0M106.8 167.5h0M129.4 167.5h0M106.5 167.5h0M105.2 167.5h0M117.0 167.5h0M120.0 167.5h0M118.2 167.5h0M83.6 167.5h0M90.2 167.5h0M89.0 167.5h0M100.1 167.5h0M76.5 167.5h0M84.9 167.5h0M131.8 167.5h0M127.7 167.5h0M116.2 167.5h0M103.2 167.5h0M70.9 167.5h0M127.2 167.5h0M80.5 167.5h0M75.4 167.5h0M124.7 167.5h0M125.5 167.4h0M111.1 167.4h0" stroke="#4665ba" stroke-width="1.5" stroke-linecap="round" fill="none"/>
<path d="M102.5 167.4h0M139.3 167.4h0M78.7 167.4h0M82.3 167.4h0M128.0 167.4h0M111.5 167.4h0M99.0 167.4h0" stroke="#4665bb" stroke-width="1.5" stroke-linecap="round" fill="none"/>
<path d="M64.8 167.4h0M132.1 167.4h0M96.9 167.4h0M126.2 167.4h0M100.4 167.4h0M135.2 167.4h0M78.1 167.4h0M84.2 167.4h0M110.5 167.4h0M127.0 167.4h0M110.4 167.3h0M133.0 167.3h0M139.4 167.3h0M102.9 167.3h0M111.5 167.3h0M88.2 167.3h0M102.3 167.3h0M85.3 167.3h0M127.4 167.3h0M84.2 167.3h0M83.3 167.3h0M97.2 167.3h0M136.4 167.3h0M103.7 167.2h0M122.6 167.2h0M154.5 167.2h0M86.9 167.2h0M105.9 167.2h0M89.3 167.2h0M78.8 167.2h0M91.3 167.2h0M94.6 167.2h0M147.8 167.2h0M105.3 167.2h0M115.4 167.2h0M98.4 167.1h0" stroke="#4666bb" stroke-width="1.5" stroke-linecap="round" fill="none"/>
<path d="M92.3 167.1h0M104.9 167.1h0M103.7 167.1h0M128.4 167.1h0M101.1 167.1h0M97.1 167.1h0M105.8 167.1h0M77.8 167.1h0M94.1 167.1h0M89.6 167.1h0M123.5 167.1h0M73.3 167.1h0M84.8 167.1h0M118.4 167.1h0M89.2 167.1h0M82.1 167.1h0M101.9 167.1h0M82.4 167.1h0M100.9 167.1h0M104.4 167.1h0M126.1 167.1h0M79.5 167.0h0M104.0 167.0h0M83.9 167.0h0M128.0 167.0h0M99.8 167.0h0" stroke="#4667bb" stroke-width="1.5" stroke-linecap="round" fill="none"/>
<path d="M147.4 167.0h0M132.6 167.0h0M119.6 167.0h0M135.9 167.0h0M118.8 167.0h0M81.2 167.0h0M77.0 167.0h0M100.6 167.0h0M82.9 167.0h0M103.0 167.0h0M102.8 167.0h0M95.6 167.0h0M135.1 167.0h0M118.0 167.0h0M119.5 167.0h0M131.8 166.9h0M94.0 166.9h0M116.6 166.9h0M104.0 166.9h0M88.7 166.9h0M84.0 166.9h0" stroke="#4767bc" stroke-width="1.5" stroke-linecap="round" fill="none"/>
<path d="M127.0 166.9h0M121.1 166.9h0M79.7 166.9h0M138.7 166.9h0M96.5 166.9h0M99.8 166.9h0M58.3 166.9h0M100.2 166.9h0M71.9 166.9h0M119.9 166.9h0M100.6 166.9h0M101.1 166.8h0M88.4 166.8h0M121.4 166.8h0M129.6 166.8h0M102.4 166.8h0M93.8 166.8h0M99.4 166.8h0M104.2 166.8h0M118.7 166.8h0M94.9 166.8h0M86.1 166.8h0M98.8 166.8h0M82.7 166.8h0M106.7 166.8h0M137.4 166.8h0M131.3 166.8h0M100.2 166.8h0M79.1 166.8h0M83.3 166.8h0M83.4 166.8h0M104.4 166.8h0M123.2 166.8h0M82.7 166.7h0M85.5 166.7h0M81.7 166.7h0M96.5 166.7h0M93.3 166.7h0M91.1 166.7h0M98.6 166.7h0M94.6 166.7h0M101.0 166.7h0M94.5 166.7h0M100.9 166.7h0M145.5 166.7h0M121.2 166.7h0" stroke="#4768bc" stroke-width="1.5" stroke-linecap="round" fill="none"/>
<path d="M160.5 166.7h0M121.4 166.6h0M86.7 166.6h0M84.3 166.6h0M133.1 166.6h0M79.1 166.6h0M126.6 166.6h0M78.7 166.6h0M106.8 166.6h0M116.1 166.6h0M121.6 166.6h0M106.0 166.6h0M121.4 166.6h0M112.4 166.6h0M83.8 166.6h0M77.2 166.6h0M92.8 166.6h0M135.0 166.6h0M94.6 166.6h0" stroke="#4769bc" stroke-width="1.5" stroke-linecap="round" fill="none"/>
<path d="M124.0 166.6h0M134.9 166.6h0M86.2 166.6h0M105.2 166.5h0M68.0 166.5h0M141.1 166.5h0M111.6 166.5h0M92.5 166.5h0M122.6 166.5h0M136.1 166.5h0M81.4 166.5h0M95.6 166.5h0M97.8 166.5h0M113.4 166.5h0M114.7 166.5h0M89.7 166.5h0M129.5 166.5h0M100.0 166.5h0M99.0 166.5h0M122.4 166.5h0M89.3 166.5h0M84.7 166.5h0M80.7 166.5h0M63.2 166.5h0M116.8 166.4h0M117.6 166.4h0M101.8 166.4h0M92.1 166.4h0M135.2 166.4h0M125.6 166.4h0" stroke="#4769bd" stroke-width="1.5" stroke-linecap="round" fill="none"/>
<path d="M92.1 166.4h0M94.3 166.4h0M77.7 166.4h0M76.0 166.4h0M123.0 166.4h0M141.6 166.4h0M88.7 166.4h0M116.9 166.3h0M68.4 166.3h0M104.4 166.3h0M125.3 166.3h0M70.6 166.3h0M70.8 166.3h0M106.4 166.3h0M127.4 166.3h0M112.4 166.3h0M129.4 166.3h0M128.0 166.3h0M132.6 166.3h0M123.0 166.3h0M140.5 166.2h0M95.6 166.2h0M81.3 166.2h0M137.6 166.2h0M93.6 166.2h0M89.7 166.2h0M133.7 166.2h0M77.1 166.2h0M104.7 166.2h0M90.1 166.2h0M99.0 166.2h0M79.0 166.2h0M101.5 166.2h0M134.4 166.2h0M72.3 166.2h0M121.7 166.2h0M81.5 166.2h0M133.7 166.2h0M90.5 166.2h0M132.0 166.2h0M83.4 166.2h0M128.0 166.2h0M98.4 166.2h0" stroke="#476abd" stroke-width="1.5" stroke-linecap="round" fill="none"/>
<path d="M103.0 166.2h0M114.3 166.2h0M134.1 166.1h0M88.9 166.1h0M76.8 166.1h0M115.8 166.1h0M126.9 166.1h0M86.2 166.1h0" stroke="#476bbd" stroke-width="1.5" stroke-linecap="round" fill="none"/>
<path d="M70.2 166.1h0M93.8 166.1h0M125.3 166.1h0M144.8 166.1h0M138.3 166.1h0M122.1 166.1h0M141.2 166.1h0M77.5 166.1h0M92.6 166.1h0M136.9 166.1h0M92.5 166.1h0M136.8 166.1h0M112.1 166.1h0M126.6 166.0h0M122.8 166.0h0M139.6 166.0h0M75.6 166.0h0M142.3 166.0h0M100.7 166.0h0M114.5 166.0h0M111.5 166.0h0M133.8 166.0h0M134.6 166.0h0M94.7 166.0h0M116.4 166.0h0M86.9 166.0h0M112.0 166.0h0M141.1 166.0h0M96.0 166.0h0M130.5 166.0h0M104.1 166.0h0M152.9 166.0h0M106.2 166.0h0M101.9 166.0h0M100.3 166.0h0M119.4 165.9h0M135.0 165.9h0M121.0 165.9h0M103.5 165.9h0M111.4 165.9h0M114.4 165.9h0" stroke="#486bbe" stroke-width="1.5" stroke-linecap="round" fill="none"/>
<path d="M123.6 165.9h0M138.1 165.9h0M78.6 165.9h0M98.2 165.9h0M98.3 165.9h0M105.7 165.9h0M86.8 165.9h0M131.0 165.9h0M117.0 165.9h0M91.0 165.9h0M128.3 165.9h0M88.6 165.9h0M93.5 165.9h0M76.9 165.8h0M91.6 165.8h0M110.8 165.8h0M128.4 165.8h0M131.3 165.8h0M77.7 165.8h0M88.9 165.8h0M81.7 165.8h0M79.7 165.8h0M117.7 165.8h0M76.2 165.8h0M101.9 165.8h0M106.1 165.8h0M68.8 165.8h0M97.1 165.8h0M135.5 165.8h0M86.5 165.8h0M112.3 165.8h0M140.7 165.8h0M84.0 165.7h0M86.0 165.7h0M139.0 165.7h0M126.2 165.7h0M92.2 165.7h0M96.2 165.7h0M106.5 165.7h0M123.4 165.7h0M103.8 165.7h0M117.5 165.7h0M102.1 165.7h0M134.6 165.7h0M143.4 165.7h0M89.8 165.7h0M68.0 165.7h0" stroke="#486cbe" stroke-width="1.5" stroke-linecap="round" fill="none"/>
<path d="M103.2 165.7h0M95.8 165.7h0M134.8 165.7h0M112.7 165.7h0" stroke="#486cbf" stroke-width="1.5" stroke-linecap="round" fill="none"/>
<path d="M84.2 165.7h0M92.0 165.7h0M99.9 165.7h0M138.7 165.7h0M127.5 165.6h0M78.5 165.6h0M103.2 165.6h0M95.4 165.6h0M92.5 165.6h0M105.2 165.6h0M125.9 165.6h0M118.8 165.6h0M112.3 165.6h0M98.4 165.6h0M96.4 165.6h0M136.8 165.6h0M113.0 165.6h0M104.6 165.6h0M136.3 165.6h0M127.8 165.6h0M138.3 165.6h0M119.3 165.6h0M90.1 165.6h0M131.4 165.5h0M98.4 165.5h0M106.1 165.5h0M91.2 165.5h0M122.9 165.5h0M82.1 165.5h0M100.0 165.5h0M73.5 165.5h0M97.8 165.5h0M105.9 165.5h0M110.8 165.5h0M136.3 165.5h0M95.0 165.5h0M111.1 165.5h0M140.6 165.4h0M77.4 165.4h0M95.4 165.4h0M136.8 165.4h0" stroke="#486dbf" stroke-width="1.5" stroke-linecap="round" fill="none"/>
<path d="M92.7 165.4h0M87.7 165.4h0M89.7 165.4h0M115.9 165.4h0M127.3 165.4h0M127.4 165.4h0M81.3 165.4h0M84.8 165.3h0M118.9 165.3h0M125.6 165.3h0M110.6 165.3h0M80.5 165.3h0M93.9 165.3h0M111.1 165.3h0M99.8 165.3h0M136.0 165.3h0M119.4 165.3h0M132.9 165.3h0M119.3 165.3h0M100.8 165.3h0M132.0 165.3h0M88.8 165.3h0M110.8 165.2h0" stroke="#486ebf" stroke-width="1.5" stroke-linecap="round" fill="none"/>
<path d="M75.2 165.2h0M105.2 165.2h0M89.0 165.2h0M78.6 165.2h0M119.5 165.2h0M98.3 165.2h0M75.3 165.2h0M144.7 165.2h0M129.2 165.2h0M122.5 165.2h0M106.1 165.2h0M97.1 165.2h0" stroke="#496ec0" stroke-width="1.5" stroke-linecap="round" fill="none"/>
<path d="M133.5 165.2h0M100.3 165.2h0M138.7 165.2h0M130.3 165.2h0M132.5 165.2h0M125.1 165.2h0M94.2 165.1h0M97.1 165.1h0M89.9 165.1h0M86.5 165.1h0M85.5 165.1h0M111.1 165.1h0M105.0 165.1h0M136.0 165.1h0M118.1 165.1h0M83.2 165.1h0M88.9 165.1h0M81.3 165.1h0M101.4 165.1h0M82.8 165.1h0M127.6 165.1h0M93.1 165.1h0M130.8 165.1h0M92.8 165.1h0M95.2 165.0h0M111.2 165.0h0M97.1 165.0h0M68.7 165.0h0M115.8 165.0h0M120.3 165.0h0M93.4 165.0h0M102.1 165.0h0M78.8 165.0h0M103.5 165.0h0M93.8 165.0h0M82.4 165.0h0M92.1 165.0h0M90.5 165.0h0M81.6 165.0h0M141.2 165.0h0M100.3 165.0h0M91.3 165.0h0M119.8 165.0h0M136.2 165.0h0M135.1 165.0h0M78.3 165.0h0M75.5 164.9h0M131.3 164.9h0M132.4 164.9h0M115.4 164.9h0M141.4 164.9h0M112.1 164.9h0" stroke="#496fc0" stroke-width="1.5" stroke-linecap="round" fill="none"/>
<path d="M151.6 164.9h0M86.9 164.9h0M82.3 164.9h0M78.5 164.9h0M88.6 164.9h0M74.7 164.9h0M83.7 164.9h0M91.2 164.9h0M95.6 164.9h0M135.0 164.9h0M99.2 164.9h0M127.1 164.9h0M79.5 164.9h0M98.4 164.9h0M90.0 164.9h0M81.4 164.8h0M92.3 164.8h0M89.5 164.8h0M102.6 164.8h0M78.4 164.8h0M116.3 164.8h0M88.2 164.8h0M77.7 164.8h0" stroke="#4970c0" stroke-width="1.5" stroke-linecap="round" fill="none"/>
<path d="M88.6 164.8h0M90.3 164.8h0M119.0 164.8h0M122.6 164.8h0M76.8 164.8h0M125.6 164.7h0M125.9 164.7h0M128.1 164.7h0M111.0 164.7h0M143.2 164.7h0M143.3 164.7h0M105.1 164.7h0M136.3 164.7h0M104.8 164.7h0M76.0 164.7h0M114.9 164.7h0M136.6 164.7h0M138.8 164.7h0" stroke="#4970c1" stroke-width="1.5" stroke-linecap="round" fill="none"/>
<path d="M133.8 164.7h0M120.7 164.7h0M138.7 164.7h0M81.1 164.7h0M128.8 164.7h0M140.5 164.6h0M124.4 164.6h0M97.5 164.6h0M113.1 164.6h0M81.9 164.6h0M88.8 164.6h0M129.1 164.6h0M74.2 164.6h0M117.7 164.6h0M95.5 164.6h0M78.3 164.6h0M87.7 164.6h0M131.3 164.6h0M94.7 164.5h0M76.6 164.5h0M132.4 164.5h0M104.6 164.5h0M88.4 164.5h0M122.1 164.5h0M74.6 164.5h0M80.2 164.5h0M137.6 164.5h0M87.7 164.5h0M123.6 164.5h0M87.2 164.5h0M121.8 164.5h0M141.8 164.5h0M122.5 164.5h0M120.8 164.4h0M121.3 164.4h0M118.9 164.4h0M115.8 164.4h0" stroke="#4971c1" stroke-width="1.5" stroke-linecap="round" fill="none"/>
<path d="M78.5 164.4h0M81.5 164.4h0M74.9 164.4h0M78.8 164.4h0M105.4 164.4h0M115.5 164.4h0M71.9 164.4h0M138.0 164.4h0M111.0 164.4h0M112.2 164.4h0M87.4 164.4h0M134.8 164.4h0M75.8 164.4h0M77.6 164.4h0M95.3 164.4h0M86.1 164.4h0" stroke="#4972c1" stroke-width="1.5" stroke-linecap="round" fill="none"/>
<path d="M112.2 164.4h0M141.8 164.4h0M104.6 164.4h0M75.4 164.3h0M88.1 164.3h0M139.4 164.3h0M112.9 164.3h0M100.2 164.3h0M121.4 164.3h0M76.8 164.3h0M76.0 164.3h0M145.7 164.3h0M85.5 164.3h0M76.0 164.3h0M106.3 164.3h0M100.4 164.3h0M97.5 164.3h0M84.7 164.3h0M141.9 164.3h0M100.9 164.3h0M89.9 164.3h0M79.1 164.3h0M92.8 164.3h0M123.3 164.3h0M124.0 164.2h0M159.7 164.2h0M114.2 164.2h0M83.3 164.2h0M118.7 164.2h0M112.7 164.2h0M93.2 164.2h0M120.5 164.2h0M86.6 164.2h0M116.6 164.2h0M141.0 164.2h0M101.9 164.2h0" stroke="#4a72c2" stroke-width="1.5" stroke-linecap="round" fill="none"/>
<path d="M62.6 164.2h0M96.2 164.2h0M92.1 164.2h0M76.8 164.2h0M141.8 164.2h0M125.7 164.2h0M121.4 164.2h0M96.7 164.2h0M145.1 164.1h0M90.4 164.1h0M124.9 164.1h0M102.5 164.1h0M75.8 164.1h0M84.5 164.1h0M65.6 164.1h0M131.7 164.1h0M76.0 164.1h0M101.0 164.1h0M135.0 164.1h0M82.5 164.1h0M116.5 164.1h0M133.7 164.1h0M99.0 164.1h0M111.2 164.1h0M78.7 164.1h0M98.7 164.1h0M101.3 164.1h0M120.2 164.0h0M88.9 164.0h0M98.7 164.0h0M106.3 164.0h0M76.4 164.0h0M93.4 164.0h0M121.3 164.0h0M114.3 164.0h0M84.9 164.0h0M94.0 164.0h0M139.5 164.0h0M127.9 164.0h0M128.5 164.0h0M128.5 164.0h0M137.4 164.0h0M86.0 164.0h0M111.8 164.0h0M96.3 164.0h0M76.6 164.0h0M85.0 164.0h0M123.1 164.0h0M96.7 164.0h0M82.5 164.0h0M127.4 163.9h0" stroke="#4a73c2" stroke-width="1.5" stroke-linecap="round" fill="none"/>
<path d="M99.1 163.9h0M134.5 163.9h0M90.5 163.9h0M119.5 163.9h0M99.1 163.9h0M77.1 163.9h0" stroke="#4a74c2" stroke-width="1.5" stroke-linecap="round" fill="none"/>
<path d="M141.8 163.9h0M93.8 163.9h0M120.9 163.9h0M113.3 163.9h0M70.2 163.9h0M131.8 163.9h0M135.8 163.9h0M146.5 163.9h0M102.8 163.9h0M75.4 163.9h0M87.9 163.9h0M112.3 163.9h0M100.3 163.9h0M121.6 163.9h0M123.5 163.9h0M129.8 163.9h0M102.2 163.9h0M83.9 163.8h0M141.5 163.8h0M78.2 163.8h0M76.0 163.8h0M80.0 163.8h0M84.4 163.8h0M104.7 163.8h0M75.4 163.8h0M83.8 163.8h0M87.3 163.8h0M93.3 163.8h0M133.6 163.8h0M61.7 163.8h0M141.8 163.8h0M116.8 163.8h0M141.6 163.8h0M94.0 163.8h0M116.5 163.8h0M77.8 163.8h0M99.5 163.8h0M91.2 163.8h0M139.8 163.8h0M126.8 163.8h0M84.2 163.8h0M79.9 163.8h0M138.4 163.8h0M96.4 163.8h0M93.2 163.7h0M141.5 163.7h0M103.0 163.7h0M147.0 163.7h0M78.5 163.7h0M105.4 163.7h0M106.2 163.7h0M135.8 163.7h0M143.0 163.7h0M82.6 163.7h0" stroke="#4a74c3" stroke-width="1.5" stroke-linecap="round" fill="none"/>
<path d="M93.4 163.7h0M134.9 163.7h0M138.5 163.7h0M95.4 163.7h0M136.1 163.7h0M99.9 163.7h0M106.2 163.7h0M99.8 163.7h0M126.4 163.7h0M78.1 163.7h0M119.2 163.7h0M100.4 163.7h0M140.3 163.7h0M83.0 163.6h0M126.8 163.6h0M75.1 163.6h0M93.3 163.6h0M77.4 163.6h0M99.2 163.6h0M141.4 163.6h0M111.6 163.6h0M106.1 163.6h0M132.5 163.6h0M113.3 163.6h0M117.9 163.6h0M101.4 163.6h0M119.7 163.6h0M97.1 163.6h0M146.2 163.6h0M125.2 163.6h0M74.9 163.5h0M79.4 163.5h0M123.4 163.5h0M140.0 163.5h0M76.0 163.5h0M120.2 163.5h0M87.3 163.5h0M92.7 163.5h0M88.8 163.5h0M104.8 163.5h0M94.2 163.5h0M89.3 163.5h0M80.1 163.5h0M85.6 163.5h0" stroke="#4a75c3" stroke-width="1.5" stroke-linecap="round" fill="none"/>
<path d="M128.4 163.5h0M99.1 163.5h0M99.2 163.5h0M133.6 163.5h0M133.8 163.5h0M83.8 163.5h0M74.9 163.5h0M87.7 163.5h0M84.9 163.5h0" stroke="#4b75c4" stroke-width="1.5" stroke-linecap="round" fill="none"/>
<path d="M105.3 163.5h0M148.6 163.4h0M111.8 163.4h0M130.8 163.4h0M104.7 163.4h0M75.1 163.4h0M131.1 163.4h0M78.5 163.4h0M120.0 163.4h0M101.3 163.4h0M80.4 163.4h0M118.2 163.4h0M121.6 163.4h0M99.5 163.4h0M139.7 163.4h0M139.7 163.4h0M98.2 163.4h0M91.8 163.4h0M123.2 163.4h0M97.0 163.4h0M106.0 163.4h0M101.9 163.4h0M132.9 163.3h0M89.4 163.3h0M137.4 163.3h0M74.8 163.3h0M92.9 163.3h0M97.3 163.3h0M142.1 163.3h0M103.5 163.3h0M77.7 163.3h0M103.0 163.3h0M99.6 163.3h0M95.7 163.3h0M129.4 163.3h0M126.6 163.3h0M113.7 163.3h0M130.4 163.3h0M118.1 163.3h0M80.8 163.3h0M125.2 163.3h0M88.1 163.3h0M115.6 163.3h0M111.3 163.3h0M126.9 163.2h0M80.9 163.2h0M82.0 163.2h0M99.4 163.2h0M75.5 163.2h0M140.6 163.2h0M97.2 163.2h0M78.9 163.2h0" stroke="#4b76c4" stroke-width="1.5" stroke-linecap="round" fill="none"/>
<path d="M112.0 163.2h0M139.6 163.2h0M115.2 163.2h0M91.5 163.2h0M87.5 163.2h0M83.1 163.2h0M138.6 163.2h0M97.1 163.1h0M103.0 163.1h0M87.5 163.1h0M106.1 163.1h0M95.7 163.1h0M120.1 163.1h0M76.7 163.1h0M124.9 163.1h0M123.6 163.1h0M95.2 163.1h0M127.3 163.1h0M90.7 163.1h0M99.7 163.1h0M111.4 163.1h0M118.0 163.1h0M126.0 163.1h0M104.4 163.0h0" stroke="#4b77c4" stroke-width="1.5" stroke-linecap="round" fill="none"/>
<path d="M111.6 163.0h0M80.2 163.0h0M85.7 163.0h0M81.8 163.0h0M119.7 163.0h0M84.8 163.0h0M128.3 163.0h0M125.0 163.0h0M82.8 163.0h0M141.4 163.0h0M141.8 163.0h0M92.3 163.0h0M114.5 163.0h0M134.2 163.0h0M75.5 163.0h0M112.5 163.0h0M138.9 163.0h0M122.8 163.0h0M63.5 163.0h0" stroke="#4b77c5" stroke-width="1.5" stroke-linecap="round" fill="none"/>
<path d="M126.5 163.0h0M76.4 162.9h0M122.2 162.9h0M78.0 162.9h0M84.5 162.9h0M95.5 162.9h0M78.5 162.9h0M122.7 162.9h0M90.3 162.9h0M112.5 162.9h0M84.0 162.9h0M80.2 162.9h0M79.9 162.9h0M91.5 162.9h0M96.0 162.9h0M134.6 162.9h0M79.4 162.9h0M98.5 162.9h0M139.4 162.8h0M82.2 162.8h0M140.6 162.8h0M142.5 162.8h0M78.8 162.8h0M92.1 162.8h0M113.7 162.8h0M131.3 162.8h0M137.1 162.8h0M93.0 162.8h0M117.0 162.8h0M132.4 162.8h0M79.2 162.8h0M87.7 162.8h0M136.6 162.7h0M138.2 162.7h0M77.3 162.7h0M104.9 162.7h0M139.0 162.7h0M105.8 162.7h0M103.0 162.7h0M132.2 162.7h0M84.2 162.7h0" stroke="#4b78c5" stroke-width="1.5" stroke-linecap="round" fill="none"/>
<path d="M131.2 162.7h0M89.7 162.7h0M139.5 162.7h0M91.8 162.7h0M103.1 162.7h0M89.1 162.7h0M96.7 162.7h0M90.3 162.7h0M93.7 162.7h0M81.7 162.7h0M80.0 162.7h0M135.1 162.7h0M122.4 162.7h0M136.2 162.7h0M91.1 162.7h0M124.9 162.7h0M96.1 162.7h0M90.5 162.6h0M95.0 162.6h0M117.6 162.6h0M90.8 162.6h0M76.4 162.6h0M150.8 162.6h0M98.5 162.6h0M141.2 162.6h0" stroke="#4b79c5" stroke-width="1.5" stroke-linecap="round" fill="none"/>
<path d="M106.2 162.6h0M76.8 162.6h0M137.7 162.6h0M99.2 162.6h0M96.4 162.6h0M100.5 162.6h0M128.1 162.6h0M90.8 162.6h0M90.2 162.6h0M98.5 162.6h0M92.1 162.5h0M140.4 162.5h0M85.6 162.5h0M142.9 162.5h0M57.6 162.5h0M120.1 162.5h0M100.0 162.5h0M129.5 162.5h0M90.8 162.5h0M85.2 162.5h0M138.1 162.5h0M85.6 162.5h0M137.0 162.5h0M130.6 162.5h0M140.8 162.5h0M116.2 162.5h0M115.6 162.5h0M84.3 162.5h0M132.7 162.5h0M92.5 162.5h0M82.6 162.5h0M77.2 162.5h0M88.4 162.5h0M105.8 162.5h0M112.0 162.5h0" stroke="#4c79c6" stroke-width="1.5" stroke-linecap="round" fill="none"/>
<path d="M142.2 162.5h0M75.6 162.5h0M117.0 162.4h0M136.5 162.4h0M83.8 162.4h0M96.9 162.4h0M101.8 162.4h0M81.6 162.4h0M124.2 162.4h0M124.2 162.4h0M97.8 162.4h0M82.5 162.4h0M102.6 162.4h0M94.7 162.4h0M118.0 162.4h0M105.7 162.4h0M140.6 162.4h0M132.9 162.4h0M76.2 162.4h0M82.7 162.4h0M78.4 162.4h0M103.3 162.4h0M129.5 162.4h0M140.6 162.4h0M115.8 162.3h0M132.2 162.3h0M126.6 162.3h0M127.9 162.3h0M106.3 162.3h0M125.4 162.3h0M126.1 162.3h0M82.4 162.3h0M130.9 162.3h0M135.3 162.3h0M140.8 162.3h0M91.4 162.3h0M131.1 162.3h0M129.8 162.3h0M119.0 162.3h0M156.2 162.3h0M81.9 162.3h0M123.1 162.3h0M69.2 162.3h0M79.8 162.3h0M83.4 162.3h0M111.3 162.3h0M138.8 162.3h0M84.2 162.2h0M140.9 162.2h0M121.6 162.2h0M86.3 162.2h0M87.7 162.2h0M106.3 162.2h0M132.9 162.2h0M86.4 162.2h0M91.8 162.2h0" stroke="#4c7ac6" stroke-width="1.5" stroke-linecap="round" fill="none"/>
<path d="M136.6 162.2h0M79.2 162.2h0M94.6 162.2h0M111.3 162.2h0M76.1 162.2h0M115.3 162.2h0M116.7 162.2h0" stroke="#4c7bc6" stroke-width="1.5" stroke-linecap="round" fill="none"/>
<path d="M131.5 162.2h0M96.4 162.1h0M119.0 162.1h0M137.8 162.1h0M94.7 162.1h0M120.7 162.1h0M93.0 162.1h0M126.3 162.1h0M93.7 162.1h0M136.2 162.1h0M98.5 162.1h0M76.6 162.1h0M167.1 162.1h0M119.5 162.1h0M114.6 162.1h0M104.4 162.1h0M129.2 162.1h0M141.4 162.1h0M126.9 162.1h0M132.9 162.1h0M112.3 162.1h0M102.7 162.1h0M137.8 162.1h0M103.3 162.1h0M75.9 162.1h0M82.7 162.1h0M86.1 162.1h0M112.1 162.1h0M79.9 162.0h0M139.3 162.0h0M126.2 162.0h0M137.5 162.0h0M121.3 162.0h0M116.3 162.0h0M98.8 162.0h0M97.4 162.0h0M76.5 162.0h0M105.3 162.0h0M116.3 162.0h0M129.2 162.0h0M76.5 162.0h0M126.2 162.0h0M89.9 162.0h0M134.1 162.0h0M78.1 162.0h0M139.8 162.0h0M87.4 162.0h0M101.7 162.0h0M82.9 162.0h0M105.1 162.0h0M104.0 162.0h0" stroke="#4c7bc7" stroke-width="1.5" stroke-linecap="round" fill="none"/>
<path d="M114.9 162.0h0M102.1 162.0h0M140.4 162.0h0M82.9 162.0h0M119.7 161.9h0M113.3 161.9h0M138.0 161.9h0M135.3 161.9h0M96.7 161.9h0M79.7 161.9h0M126.9 161.9h0M92.9 161.9h0M91.7 161.9h0M77.6 161.9h0M93.8 161.9h0M77.7 161.9h0M88.6 161.9h0M97.1 161.9h0M98.4 161.9h0M134.9 161.9h0M104.2 161.9h0M119.7 161.9h0M159.6 161.9h0M112.7 161.9h0M97.8 161.9h0M83.3 161.9h0M89.0 161.9h0M121.4 161.8h0M136.5 161.8h0M97.9 161.8h0M77.0 161.8h0M94.9 161.8h0M112.7 161.8h0M118.5 161.8h0M104.6 161.8h0M96.8 161.8h0M133.1 161.8h0M91.4 161.8h0M139.1 161.8h0M93.9 161.8h0M125.0 161.8h0M80.4 161.8h0M83.9 161.8h0M63.6 161.8h0M90.1 161.8h0M130.0 161.8h0M97.4 161.8h0M111.2 161.8h0M130.5 161.8h0M123.7 161.8h0M117.9 161.8h0M140.2 161.7h0M123.6 161.7h0M124.4 161.7h0M104.0 161.7h0M82.0 161.7h0M113.8 161.7h0M115.7 161.7h0M77.2 161.7h0" stroke="#4c7cc7" stroke-width="1.5" stroke-linecap="round" fill="none"/>
<path d="M81.6 161.7h0M95.5 161.7h0M117.8 161.7h0M77.4 161.7h0M130.2 161.7h0M84.5 161.7h0M100.4 161.7h0M96.5 161.7h0M88.8 161.7h0M104.9 161.7h0M80.7 161.7h0M87.7 161.7h0M105.3 161.7h0M77.1 161.7h0M99.9 161.6h0M126.0 161.6h0M115.9 161.6h0M135.4 161.6h0M88.5 161.6h0M115.9 161.6h0M141.8 161.6h0M76.4 161.6h0M113.1 161.6h0M139.1 161.6h0M94.4 161.6h0M90.0 161.6h0M131.5 161.6h0M138.6 161.6h0M95.0 161.6h0M91.2 161.6h0M99.0 161.6h0M79.5 161.6h0M77.2 161.6h0M103.4 161.6h0M120.5 161.5h0M138.6 161.5h0M128.8 161.5h0M88.7 161.5h0M93.1 161.5h0M91.3 161.5h0M139.8 161.5h0M99.2 161.5h0M115.9 161.5h0M131.0 161.5h0M90.3 161.5h0M77.5 161.5h0M85.0 161.5h0M87.7 161.5h0M101.5 161.5h0M82.9 161.5h0M141.8 161.5h0" stroke="#4d7dc8" stroke-width="1.5" stroke-linecap="round" fill="none"/>
<path d="M140.2 161.5h0M99.3 161.5h0M133.2 161.5h0M115.0 161.5h0M111.4 161.4h0M113.2 161.4h0M95.6 161.4h0M135.0 161.4h0M113.4 161.4h0M100.0 161.4h0M75.5 161.4h0M78.4 161.4h0M88.4 161.4h0M91.7 161.4h0M98.8 161.4h0M77.9 161.4h0M131.7 161.4h0M131.3 161.4h0M115.7 161.4h0M79.3 161.4h0M139.8 161.4h0M126.4 161.3h0M102.5 161.3h0M89.3 161.3h0M101.5 161.3h0M112.0 161.3h0M84.9 161.3h0M78.7 161.3h0M80.0 161.3h0M99.8 161.3h0M77.0 161.3h0" stroke="#4d7ec8" stroke-width="1.5" stroke-linecap="round" fill="none"/>
<path d="M124.4 161.3h0M81.6 161.3h0M101.9 161.3h0M100.9 161.3h0M119.9 161.3h0M126.1 161.3h0M138.7 161.3h0M118.2 161.3h0M140.3 161.3h0M78.4 161.2h0M92.3 161.2h0M128.1 161.2h0M81.6 161.2h0M134.8 161.2h0" stroke="#4d7ec9" stroke-width="1.5" stroke-linecap="round" fill="none"/>
<path d="M131.7 161.2h0M137.7 161.2h0M83.5 161.2h0M139.9 161.2h0M83.0 161.2h0M99.5 161.2h0M125.9 161.2h0M92.4 161.2h0M79.8 161.2h0M84.2 161.2h0M126.2 161.2h0M131.8 161.2h0M121.8 161.2h0M113.2 161.2h0M84.2 161.1h0M89.2 161.1h0M99.9 161.1h0M104.9 161.1h0M114.2 161.1h0M88.4 161.1h0M87.3 161.1h0M133.1 161.1h0M136.5 161.1h0M75.6 161.1h0M119.4 161.1h0M84.8 161.1h0M83.4 161.1h0M139.5 161.1h0M77.9 161.1h0M79.0 161.1h0M133.1 161.1h0M114.8 161.1h0M90.8 161.1h0M115.1 161.0h0M82.2 161.0h0M112.6 161.0h0M90.5 161.0h0M124.7 161.0h0M119.6 161.0h0M124.2 161.0h0M137.5 161.0h0M140.9 161.0h0M137.3 161.0h0M131.5 161.0h0M79.8 161.0h0" stroke="#4d7fc9" stroke-width="1.5" stroke-linecap="round" fill="none"/>
<path d="M103.9 161.0h0M137.2 161.0h0M124.7 161.0h0M126.6 161.0h0M129.9 161.0h0M75.6 160.9h0M87.2 160.9h0M105.6 160.9h0M125.3 160.9h0M87.2 160.9h0M128.4 160.9h0M112.8 160.9h0M105.0 160.9h0M122.3 160.9h0M76.1 160.9h0M116.4 160.9h0M113.5 160.9h0M76.5 160.9h0M79.4 160.9h0M99.5 160.9h0M91.5 160.9h0M83.4 160.9h0" stroke="#4d80c9" stroke-width="1.5" stroke-linecap="round" fill="none"/>
<path d="M89.5 160.8h0M91.2 160.8h0M138.7 160.8h0M129.3 160.8h0M89.2 160.8h0M87.0 160.8h0M95.4 160.8h0M101.6 160.8h0M133.3 160.8h0M97.1 160.8h0M114.0 160.8h0M105.4 160.8h0M138.9 160.8h0M90.6 160.8h0M121.3 160.8h0M127.1 160.8h0M112.7 160.8h0M76.4 160.8h0M140.7 160.8h0M135.9 160.8h0" stroke="#4e80ca" stroke-width="1.5" stroke-linecap="round" fill="none"/>
<path d="M88.4 160.7h0M75.9 160.7h0M117.6 160.7h0M132.5 160.7h0M84.7 160.7h0M117.8 160.7h0M81.2 160.7h0M133.2 160.7h0M112.6 160.7h0M68.7 160.7h0M96.0 160.7h0M127.1 160.7h0M86.0 160.7h0M115.2 160.7h0M114.8 160.7h0M90.6 160.7h0M115.4 160.7h0M140.6 160.7h0M87.2 160.7h0M135.2 160.7h0M141.1 160.7h0M135.3 160.7h0M100.7 160.7h0M96.4 160.6h0M113.2 160.6h0M137.9 160.6h0M120.0 160.6h0M140.6 160.6h0M127.3 160.6h0M79.0 160.6h0M70.7 160.6h0M125.4 160.6h0M129.0 160.6h0M123.3 160.6h0M87.4 160.6h0M125.1 160.6h0M79.6 160.6h0M118.8 160.6h0M99.3 160.5h0M77.6 160.5h0M130.5 160.5h0M90.4 160.5h0M90.5 160.5h0M112.3 160.5h0M139.9 160.5h0M165.0 160.5h0M119.4 160.5h0M87.3 160.5h0M104.9 160.5h0M77.1 160.5h0M87.6 160.5h0M96.4 160.5h0" stroke="#4e81ca" stroke-width="1.5" stroke-linecap="round" fill="none"/>
<path d="M65.6 160.5h0M93.0 160.5h0M139.8 160.5h0M96.8 160.5h0M81.6 160.5h0M81.9 160.5h0M140.2 160.4h0M91.9 160.4h0M139.9 160.4h0M97.8 160.4h0M136.5 160.4h0" stroke="#4e82ca" stroke-width="1.5" stroke-linecap="round" fill="none"/>
<path d="M131.8 160.4h0M141.3 160.4h0M85.9 160.4h0M136.6 160.4h0M111.8 160.4h0M92.5 160.4h0M80.3 160.4h0M122.2 160.4h0M103.3 160.4h0M89.9 160.4h0M116.9 160.3h0M115.8 160.3h0M123.9 160.3h0M95.7 160.3h0M135.3 160.3h0M118.0 160.3h0M80.1 160.3h0M78.3 160.3h0M120.0 160.3h0M89.3 160.3h0M103.1 160.3h0M88.1 160.3h0M99.3 160.3h0M99.2 160.3h0M140.1 160.3h0M140.4 160.3h0M78.8 160.3h0M112.9 160.3h0" stroke="#4e82cb" stroke-width="1.5" stroke-linecap="round" fill="none"/>
<path d="M85.9 160.2h0M87.7 160.2h0M116.1 160.2h0M86.9 160.2h0M100.2 160.2h0M125.7 160.2h0M90.3 160.2h0M126.4 160.2h0M118.6 160.2h0M132.7 160.2h0M103.9 160.2h0M126.9 160.2h0M140.3 160.1h0M100.0 160.1h0M84.8 160.1h0M133.4 160.1h0M136.3 160.1h0M120.4 160.1h0M122.4 160.1h0M81.4 160.1h0M128.4 160.1h0M80.5 160.1h0M105.7 160.1h0M134.5 160.1h0M83.2 160.1h0M104.3 160.1h0M99.5 160.1h0M122.0 160.1h0M120.2 160.1h0M120.6 160.0h0M118.8 160.0h0M111.8 160.0h0M138.0 160.0h0M132.5 160.0h0M117.5 160.0h0M114.5 160.0h0M94.1 160.0h0" stroke="#4e83cb" stroke-width="1.5" stroke-linecap="round" fill="none"/>
<path d="M137.6 160.0h0M79.1 160.0h0M140.5 160.0h0M77.2 160.0h0M101.2 160.0h0M133.4 160.0h0" stroke="#4e84cb" stroke-width="1.5" stroke-linecap="round" fill="none"/>
<path d="M101.9 160.0h0M122.1 159.9h0M64.8 159.9h0M135.6 159.9h0M95.9 159.9h0M98.8 159.9h0M139.8 159.9h0M86.7 159.9h0M83.8 159.9h0M116.0 159.9h0M132.3 159.9h0M133.3 159.9h0M99.5 159.9h0M82.9 159.9h0M80.7 159.9h0M141.3 159.9h0M137.4 159.9h0M80.4 159.9h0M112.3 159.9h0M135.0 159.8h0M102.3 159.8h0M127.5 159.8h0M88.3 159.8h0M141.0 159.8h0M118.8 159.8h0M135.7 159.8h0M83.6 159.8h0M105.0 159.8h0M141.2 159.8h0M125.1 159.8h0M95.3 159.8h0M102.6 159.8h0M129.4 159.8h0M136.8 159.8h0M113.0 159.8h0M94.6 159.8h0" stroke="#4f84cc" stroke-width="1.5" stroke-linecap="round" fill="none"/>
<path d="M121.0 159.8h0M76.3 159.8h0M137.0 159.7h0M93.2 159.7h0M78.1 159.7h0M99.7 159.7h0M111.3 159.7h0M132.0 159.7h0M118.0 159.7h0M87.8 159.7h0M114.9 159.7h0M102.8 159.7h0M104.7 159.7h0M115.0 159.7h0M88.3 159.7h0M121.2 159.7h0M97.3 159.7h0M101.5 159.7h0M130.2 159.7h0M104.7 159.7h0M113.9 159.7h0M134.5 159.6h0M113.0 159.6h0M137.5 159.6h0M137.4 159.6h0M102.9 159.6h0M140.3 159.6h0M102.0 159.6h0M86.4 159.6h0M94.7 159.6h0M79.8 159.6h0M131.4 159.6h0M84.3 159.6h0M141.1 159.6h0M77.3 159.6h0M113.1 159.6h0M95.1 159.5h0M79.1 159.5h0M136.9 159.5h0M82.0 159.5h0M83.7 159.5h0M81.4 159.5h0" stroke="#4f85cc" stroke-width="1.5" stroke-linecap="round" fill="none"/>
<path d="M81.4 159.5h0M84.3 159.5h0M86.9 159.5h0M101.7 159.5h0M139.0 159.5h0" stroke="#4f85cd" stroke-width="1.5" stroke-linecap="round" fill="none"/>
<path d="M159.8 159.5h0M121.1 159.5h0M101.0 159.5h0M104.9 159.5h0M112.3 159.5h0M103.0 159.5h0M80.7 159.5h0M117.9 159.5h0M81.5 159.5h0M103.8 159.5h0M99.9 159.5h0M117.7 159.5h0M81.1 159.5h0M127.2 159.4h0M136.0 159.4h0M132.7 159.4h0M112.5 159.4h0M83.7 159.4h0M113.4 159.4h0M136.5 159.4h0M133.0 159.4h0M100.3 159.4h0M99.6 159.4h0M72.2 159.4h0M78.2 159.4h0M124.3 159.4h0M118.1 159.4h0M80.6 159.4h0M138.0 159.4h0M88.7 159.4h0M96.0 159.4h0M126.6 159.4h0M138.6 159.4h0M82.9 159.4h0M103.8 159.3h0M79.8 159.3h0M86.1 159.3h0M101.2 159.3h0M81.8 159.3h0M85.4 159.3h0M115.1 159.3h0M118.4 159.3h0M155.8 159.3h0M112.9 159.3h0M130.1 159.3h0M99.3 159.3h0" stroke="#4f86cd" stroke-width="1.5" stroke-linecap="round" fill="none"/>
<path d="M92.1 159.3h0M99.3 159.3h0M91.7 159.2h0M92.2 159.2h0M70.4 159.2h0M88.2 159.2h0M139.2 159.2h0M84.4 159.2h0M81.0 159.2h0M84.0 159.2h0M82.2 159.2h0M134.6 159.2h0M121.2 159.2h0M136.1 159.2h0M103.8 159.2h0M128.4 159.2h0M116.5 159.2h0M97.4 159.2h0M83.1 159.2h0M79.6 159.2h0M87.5 159.1h0M87.1 159.1h0M115.9 159.1h0M140.1 159.1h0M77.6 159.1h0M114.9 159.1h0M130.2 159.1h0M126.2 159.1h0M75.6 159.1h0M117.1 159.1h0" stroke="#4f87cd" stroke-width="1.5" stroke-linecap="round" fill="none"/>
<path d="M127.7 159.1h0M83.3 159.1h0M86.5 159.1h0M129.2 159.1h0M90.7 159.1h0M97.5 159.1h0M78.4 159.1h0M140.0 159.1h0M84.3 159.0h0M80.8 159.0h0M139.2 159.0h0M83.1 159.0h0M131.9 159.0h0" stroke="#5087ce" stroke-width="1.5" stroke-linecap="round" fill="none"/>
<path d="M130.3 159.0h0M136.6 159.0h0M91.4 159.0h0M135.5 159.0h0M130.5 159.0h0M140.4 159.0h0M116.9 159.0h0M132.6 159.0h0M84.2 159.0h0M88.7 159.0h0M78.9 158.9h0M91.2 158.9h0M78.2 158.9h0M86.9 158.9h0M97.9 158.9h0M82.5 158.9h0M99.8 158.9h0M114.3 158.9h0M97.5 158.9h0M112.1 158.9h0M120.1 158.9h0M85.0 158.9h0M120.1 158.9h0M80.3 158.8h0M88.7 158.8h0M101.7 158.8h0M138.3 158.8h0M81.5 158.8h0M118.4 158.8h0M138.1 158.8h0M133.2 158.8h0M92.3 158.8h0M129.9 158.8h0M120.8 158.8h0M73.8 158.8h0M102.2 158.8h0M133.8 158.8h0M128.2 158.8h0M120.3 158.8h0" stroke="#5088ce" stroke-width="1.5" stroke-linecap="round" fill="none"/>
<path d="M119.2 158.8h0M99.1 158.8h0M120.8 158.8h0M112.2 158.8h0M94.5 158.8h0M137.2 158.7h0M96.9 158.7h0M102.1 158.7h0M101.7 158.7h0M96.1 158.7h0M100.2 158.7h0M113.6 158.7h0M131.9 158.7h0M119.8 158.7h0M117.6 158.7h0M98.6 158.7h0M111.9 158.7h0M132.4 158.7h0M121.0 158.7h0M128.0 158.7h0M104.5 158.7h0M77.1 158.7h0M101.2 158.7h0M93.3 158.7h0M124.6 158.7h0M96.9 158.7h0M137.4 158.7h0" stroke="#5089ce" stroke-width="1.5" stroke-linecap="round" fill="none"/>
<path d="M119.3 158.6h0M136.0 158.6h0M105.7 158.6h0M100.0 158.6h0M82.5 158.6h0M101.9 158.6h0M116.7 158.6h0M129.8 158.6h0M117.2 158.6h0M137.2 158.6h0M135.4 158.6h0M133.2 158.6h0M88.7 158.6h0M83.6 158.6h0M97.8 158.6h0M89.6 158.6h0M78.1 158.6h0M113.7 158.5h0M105.4 158.5h0M136.6 158.5h0M117.6 158.5h0" stroke="#5089cf" stroke-width="1.5" stroke-linecap="round" fill="none"/>
<path d="M80.1 158.5h0M76.9 158.5h0M116.7 158.5h0M100.2 158.5h0M115.7 158.5h0M119.2 158.5h0M91.0 158.5h0M53.2 158.5h0M97.3 158.5h0M122.5 158.5h0M117.8 158.5h0M93.2 158.4h0M83.5 158.4h0M112.9 158.4h0M132.4 158.4h0M79.3 158.4h0M103.2 158.4h0M89.9 158.4h0M120.1 158.4h0M99.2 158.4h0M82.8 158.4h0M87.4 158.4h0M99.7 158.4h0M93.2 158.4h0M127.1 158.4h0M118.0 158.4h0M101.7 158.4h0M100.8 158.4h0M140.1 158.4h0M122.9 158.4h0M85.2 158.4h0M133.9 158.4h0M140.4 158.4h0M140.0 158.3h0M139.0 158.3h0M132.7 158.3h0M99.8 158.3h0M97.6 158.3h0M98.3 158.3h0M87.1 158.3h0M117.3 158.3h0M133.3 158.3h0M156.9 158.3h0M134.9 158.3h0" stroke="#508acf" stroke-width="1.5" stroke-linecap="round" fill="none"/>
<path d="M111.9 158.3h0M78.5 158.3h0M104.2 158.3h0M78.4 158.3h0M138.7 158.2h0M130.4 158.2h0M113.2 158.2h0M114.7 158.2h0M78.0 158.2h0M93.7 158.2h0M96.8 158.2h0M132.8 158.2h0" stroke="#508bcf" stroke-width="1.5" stroke-linecap="round" fill="none"/>
<path d="M111.5 158.2h0M94.6 158.2h0M116.7 158.2h0M96.3 158.2h0M118.6 158.2h0M134.8 158.2h0M105.0 158.2h0M82.6 158.2h0M61.9 158.2h0M90.1 158.1h0M116.9 158.1h0M85.4 158.1h0M112.3 158.1h0M99.3 158.1h0M104.8 158.1h0M131.8 158.1h0M104.5 158.1h0M96.5 158.1h0M61.6 158.1h0M90.4 158.1h0M130.7 158.1h0M112.8 158.1h0M131.4 158.1h0M80.8 158.1h0M84.6 158.1h0M95.0 158.1h0M133.6 158.1h0M120.1 158.1h0M112.1 158.1h0M114.1 158.1h0M91.2 158.1h0M99.6 158.0h0M138.8 158.0h0M130.0 158.0h0M92.4 158.0h0M82.2 158.0h0M112.1 158.0h0M114.0 158.0h0M92.8 158.0h0M120.8 158.0h0" stroke="#518bd0" stroke-width="1.5" stroke-linecap="round" fill="none"/>
<path d="M97.4 158.0h0M138.6 158.0h0M104.8 158.0h0M139.3 158.0h0M133.7 158.0h0M91.1 158.0h0M94.5 158.0h0M119.6 158.0h0M91.1 158.0h0M117.1 158.0h0M92.9 158.0h0M118.8 158.0h0M135.0 158.0h0M104.3 158.0h0M115.4 157.9h0M91.6 157.9h0M115.4 157.9h0M112.1 157.9h0M84.2 157.9h0M126.5 157.9h0M87.6 157.9h0M104.1 157.9h0M86.1 157.9h0M101.6 157.9h0M91.8 157.9h0M140.8 157.9h0M114.1 157.9h0M86.3 157.9h0M93.2 157.9h0M122.7 157.9h0M97.2 157.8h0M87.4 157.8h0M97.2 157.8h0M93.3 157.8h0M52.9 157.8h0M104.2 157.8h0M112.6 157.8h0M112.6 157.8h0M90.4 157.8h0M125.0 157.8h0M111.6 157.8h0M80.5 157.8h0M135.8 157.8h0" stroke="#518cd0" stroke-width="1.5" stroke-linecap="round" fill="none"/>
<path d="M98.4 157.8h0" stroke="#518dd0" stroke-width="1.5" stroke-linecap="round" fill="none"/>
<path d="M93.7 157.8h0M138.2 157.8h0M121.7 157.8h0M121.0 157.7h0M82.6 157.7h0M135.9 157.7h0M113.3 157.7h0M73.8 157.7h0M78.6 157.7h0M135.8 157.7h0M90.1 157.7h0M86.1 157.7h0M117.3 157.7h0M112.7 157.7h0M98.4 157.7h0M137.5 157.6h0M113.6 157.6h0M104.4 157.6h0M116.7 157.6h0M89.9 157.6h0M82.1 157.6h0M102.0 157.6h0M81.8 157.6h0M84.2 157.6h0M125.5 157.6h0M92.7 157.6h0M82.1 157.6h0M102.4 157.6h0M126.2 157.6h0M125.6 157.5h0M90.9 157.5h0" stroke="#518dd1" stroke-width="1.5" stroke-linecap="round" fill="none"/>
<path d="M83.4 157.5h0M128.9 157.5h0M90.4 157.5h0M135.9 157.5h0M96.4 157.5h0M87.3 157.5h0M94.3 157.5h0M99.1 157.5h0M126.5 157.5h0M96.3 157.5h0M98.9 157.5h0M131.2 157.5h0M101.0 157.5h0M136.1 157.5h0M77.1 157.5h0M135.9 157.5h0M116.1 157.5h0M130.2 157.5h0M86.5 157.5h0M92.6 157.5h0M117.4 157.5h0M119.6 157.5h0M125.3 157.5h0M113.9 157.4h0M140.5 157.4h0M85.6 157.4h0M73.7 157.4h0M123.1 157.4h0M155.6 157.4h0M91.2 157.4h0M84.3 157.4h0M82.5 157.4h0M117.2 157.4h0M82.7 157.4h0M84.6 157.4h0M133.6 157.4h0M113.5 157.4h0M124.2 157.4h0M137.3 157.4h0M84.6 157.4h0M132.3 157.4h0M136.9 157.4h0M132.8 157.4h0M101.1 157.3h0" stroke="#518ed1" stroke-width="1.5" stroke-linecap="round" fill="none"/>
<path d="M120.6 157.3h0M80.5 157.3h0M88.7 157.3h0M95.3 157.3h0M121.1 157.3h0M139.4 157.3h0M112.7 157.3h0M79.5 157.3h0" stroke="#528ed2" stroke-width="1.5" stroke-linecap="round" fill="none"/>
<path d="M139.4 157.3h0M91.4 157.3h0M120.9 157.3h0M138.3 157.3h0M99.5 157.3h0M79.4 157.3h0M83.4 157.2h0M135.5 157.2h0M134.1 157.2h0M59.5 157.2h0M98.5 157.2h0M94.3 157.2h0M112.7 157.2h0M100.2 157.2h0M91.9 157.2h0M103.9 157.2h0M132.2 157.2h0M99.2 157.2h0M96.3 157.2h0M83.5 157.2h0M134.8 157.2h0M117.1 157.2h0M101.0 157.2h0M134.7 157.2h0M124.5 157.2h0M102.7 157.2h0M79.9 157.2h0M105.6 157.2h0M121.2 157.2h0M82.7 157.2h0M87.5 157.2h0M137.7 157.2h0M103.6 157.2h0M138.1 157.2h0M93.2 157.2h0M95.2 157.1h0M112.2 157.1h0M115.5 157.1h0M136.7 157.1h0M131.1 157.1h0M102.7 157.1h0M123.5 157.1h0M78.9 157.1h0M140.4 157.1h0M129.7 157.1h0M119.2 157.1h0" stroke="#528fd2" stroke-width="1.5" stroke-linecap="round" fill="none"/>
<path d="M138.9 157.0h0M117.9 157.0h0M103.2 157.0h0M103.9 157.0h0M135.5 157.0h0M103.3 157.0h0M81.1 157.0h0M114.1 157.0h0M121.6 157.0h0M129.6 157.0h0M157.8 157.0h0M94.9 157.0h0M97.4 157.0h0M90.2 157.0h0M100.5 157.0h0M85.1 157.0h0M133.3 157.0h0M128.7 157.0h0M131.2 156.9h0M87.7 156.9h0M112.9 156.9h0M135.9 156.9h0M92.0 156.9h0M88.5 156.9h0M120.4 156.9h0M125.3 156.9h0M96.2 156.9h0M104.8 156.9h0M87.8 156.9h0M103.0 156.9h0M116.0 156.9h0" stroke="#5290d2" stroke-width="1.5" stroke-linecap="round" fill="none"/>
<path d="M138.1 156.9h0M87.6 156.9h0M79.1 156.9h0M96.1 156.9h0M79.3 156.9h0M99.1 156.8h0M101.8 156.8h0M79.8 156.8h0M91.4 156.8h0M87.7 156.8h0M92.3 156.8h0M97.5 156.8h0M115.9 156.8h0M137.8 156.8h0M85.4 156.8h0" stroke="#5290d3" stroke-width="1.5" stroke-linecap="round" fill="none"/>
<path d="M56.7 156.8h0M90.1 156.8h0M126.6 156.8h0M80.7 156.8h0M83.7 156.8h0M126.7 156.8h0M111.9 156.8h0M130.9 156.8h0M124.2 156.7h0M139.2 156.7h0M86.8 156.7h0M90.7 156.7h0M88.7 156.7h0M96.3 156.7h0M83.2 156.7h0M95.7 156.7h0M113.9 156.7h0M139.3 156.7h0M116.2 156.7h0M135.4 156.7h0M91.8 156.7h0M132.7 156.7h0M128.7 156.7h0M82.6 156.6h0M111.8 156.6h0M83.6 156.6h0M95.9 156.6h0M137.4 156.6h0M78.6 156.6h0M136.6 156.6h0M125.3 156.6h0M133.5 156.6h0M104.2 156.6h0M84.2 156.6h0M82.8 156.6h0M103.9 156.6h0M89.7 156.6h0M130.1 156.6h0M132.9 156.6h0M134.9 156.6h0M123.1 156.6h0M116.7 156.6h0" stroke="#5291d3" stroke-width="1.5" stroke-linecap="round" fill="none"/>
<path d="M102.0 156.6h0M86.8 156.6h0M104.9 156.5h0M77.9 156.5h0M135.5 156.5h0M125.3 156.5h0M91.6 156.5h0M90.6 156.5h0M116.9 156.5h0M79.3 156.5h0M127.3 156.5h0M167.1 156.5h0M104.9 156.5h0M97.4 156.5h0M117.8 156.5h0M136.3 156.5h0" stroke="#5292d3" stroke-width="1.5" stroke-linecap="round" fill="none"/>
<path d="M115.0 156.4h0M95.4 156.4h0M119.2 156.4h0M78.5 156.4h0M133.5 156.4h0M93.7 156.4h0M124.4 156.4h0M133.1 156.4h0M118.6 156.4h0M90.6 156.4h0M104.2 156.4h0M99.7 156.4h0M80.2 156.4h0M130.3 156.4h0M124.8 156.3h0M127.0 156.3h0M139.9 156.3h0M84.8 156.3h0M93.6 156.3h0M80.5 156.3h0M119.0 156.3h0" stroke="#5392d4" stroke-width="1.5" stroke-linecap="round" fill="none"/>
<path d="M101.3 156.3h0M104.4 156.3h0M95.2 156.3h0M89.2 156.3h0M83.8 156.3h0M81.9 156.3h0M76.4 156.3h0M123.0 156.3h0M101.7 156.3h0M88.9 156.3h0M91.3 156.3h0M137.9 156.3h0M122.0 156.2h0M113.6 156.2h0M119.2 156.2h0M102.4 156.2h0M125.2 156.2h0M96.8 156.2h0M100.6 156.2h0M133.4 156.2h0M90.7 156.2h0M127.0 156.2h0M102.5 156.2h0M129.1 156.2h0M117.0 156.2h0M94.7 156.2h0M97.0 156.1h0M102.1 156.1h0M77.5 156.1h0M134.5 156.1h0M123.5 156.1h0M102.4 156.1h0M133.6 156.1h0M93.7 156.1h0M105.2 156.1h0M117.9 156.1h0M84.9 156.1h0M136.3 156.1h0M91.4 156.1h0M128.2 156.1h0M159.4 156.1h0" stroke="#5393d4" stroke-width="1.5" stroke-linecap="round" fill="none"/>
<path d="M90.8 156.0h0M121.4 156.0h0M94.1 156.0h0M99.1 156.0h0M79.4 156.0h0M138.0 156.0h0M81.0 156.0h0M133.4 156.0h0" stroke="#5394d4" stroke-width="1.5" stroke-linecap="round" fill="none"/>
<path d="M95.1 156.0h0M130.5 156.0h0M80.5 156.0h0M120.9 156.0h0M84.5 156.0h0M137.7 156.0h0M80.8 156.0h0M102.7 156.0h0M134.5 156.0h0M87.0 155.9h0M118.7 155.9h0M101.4 155.9h0M131.8 155.9h0M81.1 155.9h0M121.9 155.9h0M94.8 155.9h0M113.4 155.9h0M118.2 155.9h0M99.6 155.9h0M84.4 155.9h0M81.2 155.9h0M131.5 155.9h0M95.9 155.8h0M123.2 155.8h0M88.0 155.8h0M128.7 155.8h0" stroke="#5394d5" stroke-width="1.5" stroke-linecap="round" fill="none"/>
<path d="M129.3 155.8h0M126.2 155.8h0M98.2 155.8h0M92.7 155.8h0M95.9 155.8h0M79.1 155.8h0M103.0 155.8h0M113.2 155.8h0M127.8 155.8h0M134.1 155.7h0M84.9 155.7h0M124.7 155.7h0M98.3 155.7h0M116.4 155.7h0M128.8 155.7h0M80.3 155.7h0M126.8 155.7h0M111.8 155.7h0M88.7 155.7h0M84.7 155.7h0M79.9 155.7h0M85.4 155.7h0M100.6 155.7h0M93.1 155.7h0M98.8 155.6h0M125.4 155.6h0M137.0 155.6h0M90.6 155.6h0M101.3 155.6h0M126.3 155.6h0M103.4 155.6h0M94.8 155.6h0M126.9 155.6h0M118.7 155.6h0M90.1 155.6h0M83.4 155.6h0M80.4 155.6h0M81.2 155.6h0" stroke="#5395d5" stroke-width="1.5" stroke-linecap="round" fill="none"/>
<path d="M82.6 155.6h0M90.1 155.6h0M79.4 155.5h0M105.3 155.5h0M122.8 155.5h0M113.9 155.5h0M81.8 155.5h0M103.4 155.5h0M136.2 155.5h0M88.8 155.5h0M98.2 155.5h0M127.0 155.5h0M100.9 155.5h0M105.2 155.5h0M118.1 155.5h0M125.4 155.5h0M119.1 155.5h0M79.2 155.4h0M135.3 155.4h0M82.0 155.4h0M87.8 155.4h0M91.1 155.4h0M113.5 155.4h0M94.5 155.4h0M99.2 155.4h0M89.4 155.4h0M80.2 155.4h0M130.4 155.4h0M103.7 155.4h0M128.1 155.4h0M115.5 155.4h0M103.9 155.4h0M137.3 155.4h0M85.7 155.4h0M119.1 155.4h0M96.7 155.4h0M83.3 155.4h0M101.3 155.4h0M100.7 155.4h0M93.8 155.4h0M132.6 155.4h0M113.7 155.4h0M135.8 155.4h0M92.7 155.4h0M126.4 155.4h0M102.7 155.4h0M123.5 155.3h0M137.7 155.3h0M132.7 155.3h0M88.0 155.3h0M98.2 155.3h0M136.5 155.3h0M120.3 155.3h0M89.4 155.3h0M125.0 155.3h0M129.3 155.3h0M120.1 155.3h0M82.1 155.3h0M85.6 155.3h0M81.7 155.3h0M112.3 155.3h0M137.0 155.3h0M137.8 155.3h0M81.4 155.3h0M80.8 155.3h0M116.0 155.3h0" stroke="#5496d6" stroke-width="1.5" stroke-linecap="round" fill="none"/>
<path d="M82.9 155.2h0M122.1 155.2h0M130.3 155.2h0M83.7 155.2h0M103.5 155.2h0M99.7 155.2h0M124.2 155.2h0M136.7 155.2h0M90.7 155.2h0M130.6 155.2h0M127.5 155.2h0M123.2 155.2h0M94.9 155.2h0M132.7 155.2h0M82.3 155.2h0M85.0 155.1h0M96.4 155.1h0M99.2 155.1h0M86.5 155.1h0M131.9 155.1h0M132.3 155.1h0M130.5 155.1h0M91.2 155.1h0M132.0 155.1h0M132.2 155.1h0M131.7 155.1h0M125.3 155.1h0M93.6 155.1h0M141.3 155.1h0M97.6 155.1h0M120.9 155.1h0M82.9 155.1h0M88.0 155.1h0M101.8 155.1h0M89.5 155.0h0M123.8 155.0h0M133.5 155.0h0M125.0 155.0h0M103.4 155.0h0M133.2 155.0h0M112.4 155.0h0M96.1 155.0h0M136.5 155.0h0M135.1 155.0h0M136.3 155.0h0M86.0 155.0h0M91.2 155.0h0M139.1 155.0h0M98.0 155.0h0M98.5 155.0h0M137.3 154.9h0M95.3 154.9h0M118.4 154.9h0M90.7 154.9h0M101.4 154.9h0M116.7 154.9h0M120.3 154.9h0M122.7 154.9h0M142.6 154.9h0M134.6 154.9h0" stroke="#5497d6" stroke-width="1.5" stroke-linecap="round" fill="none"/>
<path d="M88.2 154.9h0M84.6 154.9h0" stroke="#5498d6" stroke-width="1.5" stroke-linecap="round" fill="none"/>
<path d="M132.9 154.9h0M81.2 154.8h0M118.0 154.8h0M101.9 154.8h0M104.8 154.8h0M102.2 154.8h0M129.2 154.8h0M101.8 154.8h0M112.0 154.8h0M94.6 154.8h0M121.3 154.8h0M138.7 154.8h0M132.1 154.8h0M128.1 154.8h0M80.6 154.8h0M129.6 154.8h0M99.1 154.7h0M97.8 154.7h0M134.9 154.7h0M126.7 154.7h0M137.4 154.7h0M130.6 154.7h0M81.3 154.7h0M91.1 154.7h0M130.4 154.7h0M91.5 154.7h0M83.6 154.7h0M116.3 154.7h0M137.9 154.7h0M120.6 154.7h0M114.9 154.7h0M104.0 154.6h0M102.4 154.6h0M130.7 154.6h0M94.0 154.6h0M116.9 154.6h0M81.9 154.6h0M92.7 154.6h0M124.7 154.6h0M125.2 154.6h0M81.7 154.6h0M136.3 154.6h0M127.2 154.6h0M79.8 154.6h0" stroke="#5498d7" stroke-width="1.5" stroke-linecap="round" fill="none"/>
<path d="M114.2 154.6h0M117.3 154.6h0M122.5 154.6h0M90.0 154.6h0M89.4 154.6h0M140.9 154.6h0M124.8 154.6h0M137.7 154.6h0M93.6 154.6h0M86.6 154.5h0M122.4 154.5h0M120.4 154.5h0M134.3 154.5h0M93.4 154.5h0M96.6 154.5h0M80.5 154.5h0M87.5 154.5h0M114.3 154.5h0M84.7 154.5h0M132.1 154.5h0M119.6 154.5h0M126.0 154.5h0M93.4 154.5h0M86.1 154.5h0M92.5 154.5h0M130.3 154.5h0M121.2 154.5h0M90.3 154.5h0M90.3 154.4h0M84.7 154.4h0M81.7 154.4h0M99.5 154.4h0M96.3 154.4h0M96.9 154.4h0M128.9 154.4h0M126.6 154.4h0M81.4 154.4h0M134.5 154.4h0M130.9 154.4h0M84.3 154.4h0M123.1 154.4h0M101.6 154.4h0M87.7 154.4h0M89.3 154.4h0M78.4 154.4h0M103.9 154.3h0M136.7 154.3h0M93.6 154.3h0M92.1 154.3h0" stroke="#5499d7" stroke-width="1.5" stroke-linecap="round" fill="none"/>
<path d="M154.6 154.3h0M85.5 154.3h0M97.6 154.3h0M94.3 154.3h0M113.9 154.3h0M87.3 154.3h0M115.6 154.3h0M149.8 154.3h0M131.3 154.3h0M105.0 154.3h0" stroke="#5599d7" stroke-width="1.5" stroke-linecap="round" fill="none"/>
<path d="M117.2 154.3h0M118.2 154.2h0M90.1 154.2h0M86.3 154.2h0M83.7 154.2h0M121.8 154.2h0M97.9 154.2h0M125.9 154.2h0M102.7 154.2h0M81.8 154.2h0M129.6 154.2h0M113.3 154.2h0M113.8 154.2h0M121.1 154.2h0" stroke="#559ad7" stroke-width="1.5" stroke-linecap="round" fill="none"/>
<path d="M100.8 154.2h0M92.4 154.1h0M87.2 154.1h0M102.1 154.1h0M121.2 154.1h0M93.5 154.1h0M98.5 154.1h0M89.5 154.1h0M93.1 154.1h0M132.8 154.1h0M102.8 154.1h0M117.0 154.1h0M82.3 154.1h0M112.1 154.1h0M119.3 154.1h0M90.0 154.1h0M82.4 154.1h0M119.0 154.1h0M95.7 154.1h0M99.5 154.1h0M118.7 154.1h0M114.6 154.1h0M121.5 154.0h0M112.7 154.0h0M82.9 154.0h0M138.2 154.0h0M104.6 154.0h0M114.5 154.0h0M95.8 154.0h0M100.4 154.0h0M126.3 153.9h0M86.7 153.9h0" stroke="#559ad8" stroke-width="1.5" stroke-linecap="round" fill="none"/>
<path d="M114.1 153.9h0M112.0 153.9h0M96.1 153.9h0M129.2 153.9h0M95.4 153.9h0M102.9 153.9h0M116.9 153.9h0M103.4 153.8h0M127.8 153.8h0M90.1 153.8h0M128.8 153.8h0M89.9 153.8h0M83.6 153.8h0M123.3 153.8h0M95.8 153.8h0M85.3 153.8h0M95.7 153.8h0M133.2 153.8h0M80.2 153.8h0M98.0 153.8h0M89.9 153.8h0M139.1 153.8h0M131.8 153.8h0M102.4 153.8h0M126.3 153.8h0M129.1 153.8h0M95.3 153.8h0M126.1 153.8h0M101.8 153.8h0M88.6 153.8h0M118.6 153.7h0M135.5 153.7h0M138.7 153.7h0M140.8 153.7h0M133.0 153.7h0M98.9 153.7h0M138.8 153.7h0M115.7 153.7h0M121.8 153.7h0M80.3 153.7h0M85.5 153.7h0M93.4 153.7h0M77.1 153.7h0M103.2 153.6h0M116.3 153.6h0M94.5 153.6h0M133.2 153.6h0M98.9 153.6h0M119.3 153.6h0M85.3 153.6h0M120.1 153.6h0" stroke="#559bd8" stroke-width="1.5" stroke-linecap="round" fill="none"/>
<path d="M103.4 153.6h0M87.8 153.6h0M140.3 153.6h0M83.4 153.6h0M79.5 153.6h0M134.3 153.5h0M131.5 153.5h0M125.6 153.5h0M81.5 153.5h0M136.4 153.5h0M100.9 153.5h0M96.9 153.5h0M90.1 153.5h0M102.3 153.5h0M119.0 153.5h0M138.6 153.5h0M127.1 153.5h0M125.2 153.5h0M135.6 153.5h0M130.5 153.5h0" stroke="#559cd8" stroke-width="1.5" stroke-linecap="round" fill="none"/>
<path d="M116.6 153.5h0M134.0 153.4h0M136.9 153.4h0M137.2 153.4h0M82.3 153.4h0M87.5 153.4h0M120.1 153.4h0M86.0 153.4h0M88.2 153.4h0M83.4 153.4h0M125.3 153.4h0M80.1 153.4h0M117.1 153.4h0M114.3 153.4h0M153.1 153.4h0M85.1 153.3h0M101.4 153.3h0M117.7 153.3h0M140.1 153.3h0M94.4 153.3h0M113.9 153.3h0M134.5 153.3h0M124.8 153.3h0M126.0 153.3h0M122.6 153.3h0M126.9 153.3h0M79.8 153.3h0M124.4 153.3h0M90.5 153.3h0M83.6 153.3h0M127.4 153.3h0M135.0 153.3h0M115.5 153.3h0" stroke="#559cd9" stroke-width="1.5" stroke-linecap="round" fill="none"/>
<path d="M169.1 153.3h0M85.2 153.3h0M129.2 153.3h0M94.2 153.2h0M117.9 153.2h0M81.5 153.2h0M124.7 153.2h0M141.5 153.2h0M90.4 153.2h0M101.7 153.2h0M88.4 153.2h0M95.3 153.2h0M93.2 153.2h0M132.0 153.2h0M112.9 153.2h0M85.8 153.2h0M137.3 153.2h0M84.9 153.2h0M121.3 153.2h0M115.8 153.2h0M102.0 153.1h0M92.7 153.1h0M83.8 153.1h0M134.1 153.1h0M122.6 153.1h0M88.6 153.1h0" stroke="#559dd9" stroke-width="1.5" stroke-linecap="round" fill="none"/>
<path d="M69.3 153.1h0M97.2 153.1h0M120.4 153.1h0M117.3 153.1h0M95.3 153.1h0M122.8 153.1h0M132.0 153.1h0M103.5 153.1h0M104.8 153.1h0M92.1 153.1h0M82.1 153.0h0M95.7 153.0h0M114.8 153.0h0M98.6 153.0h0M79.4 153.0h0M115.7 153.0h0M102.9 153.0h0M94.1 153.0h0M94.6 153.0h0M104.6 153.0h0M90.4 153.0h0M84.6 153.0h0M89.5 153.0h0M79.4 153.0h0" stroke="#569dd9" stroke-width="1.5" stroke-linecap="round" fill="none"/>
<path d="M115.0 152.9h0M94.5 152.9h0M102.4 152.9h0M87.1 152.9h0M124.8 152.9h0M138.1 152.9h0M92.5 152.9h0M90.7 152.9h0M139.0 152.9h0M95.1 152.9h0M133.6 152.9h0M98.8 152.9h0M96.1 152.9h0M96.6 152.9h0M101.3 152.9h0M136.9 152.9h0M112.4 152.8h0M97.7 152.8h0M137.7 152.8h0M86.7 152.8h0M134.6 152.8h0M104.0 152.8h0M92.6 152.8h0M91.1 152.8h0M99.6 152.8h0M130.0 152.8h0M100.3 152.8h0M83.8 152.8h0M122.3 152.8h0M103.6 152.8h0M81.4 152.8h0M90.1 152.8h0M138.1 152.8h0M113.7 152.8h0" stroke="#569ed9" stroke-width="1.5" stroke-linecap="round" fill="none"/>
<path d="M136.6 152.7h0M138.1 152.7h0M171.5 152.7h0M94.8 152.7h0M87.8 152.7h0M82.5 152.7h0M130.6 152.7h0M81.4 152.7h0M134.8 152.7h0M135.9 152.7h0M87.5 152.7h0M89.4 152.7h0M147.4 152.7h0M89.9 152.7h0M113.6 152.7h0M80.7 152.7h0M136.6 152.7h0M131.1 152.7h0M116.8 152.7h0M90.4 152.7h0M92.2 152.7h0M118.7 152.7h0M93.4 152.7h0M84.7 152.6h0M116.6 152.6h0M130.4 152.6h0M90.1 152.6h0" stroke="#569eda" stroke-width="1.5" stroke-linecap="round" fill="none"/>
<path d="M138.1 152.6h0M133.7 152.6h0M119.6 152.6h0M130.5 152.6h0M124.4 152.6h0M128.2 152.6h0M82.5 152.6h0M146.7 152.6h0M123.5 152.5h0M87.8 152.5h0M116.9 152.5h0M96.2 152.5h0M99.1 152.5h0M89.9 152.5h0M83.1 152.5h0M131.8 152.5h0M99.0 152.5h0M117.0 152.5h0M91.2 152.5h0M133.9 152.5h0M82.3 152.5h0M97.7 152.5h0M92.7 152.5h0M136.3 152.4h0M87.6 152.4h0M132.9 152.4h0M120.5 152.4h0M86.4 152.4h0M81.5 152.4h0M138.1 152.4h0M102.1 152.4h0M121.6 152.4h0M83.6 152.4h0M86.7 152.4h0M124.8 152.4h0M91.9 152.4h0M82.7 152.4h0M117.2 152.4h0M128.7 152.3h0M119.0 152.3h0M129.7 152.3h0M97.4 152.3h0M88.6 152.3h0M98.5 152.3h0M97.0 152.3h0M103.7 152.3h0M121.4 152.3h0M151.5 152.3h0" stroke="#569fda" stroke-width="1.5" stroke-linecap="round" fill="none"/>
<path d="M100.5 152.3h0M118.5 152.3h0M81.3 152.3h0M136.2 152.3h0M135.0 152.3h0M113.3 152.3h0M112.7 152.3h0M82.5 152.2h0M93.6 152.2h0M89.0 152.2h0M115.7 152.2h0M81.3 152.2h0M93.2 152.2h0M95.8 152.2h0M103.4 152.2h0M114.8 152.2h0M88.2 152.2h0M120.5 152.2h0M85.3 152.2h0M103.5 152.2h0M102.6 152.1h0M137.3 152.1h0M136.9 152.1h0M116.9 152.1h0M125.6 152.1h0M125.9 152.1h0M81.8 152.1h0M114.5 152.1h0M99.4 152.1h0" stroke="#56a0da" stroke-width="1.5" stroke-linecap="round" fill="none"/>
<path d="M84.4 152.0h0M96.2 152.0h0M120.0 152.0h0M98.0 152.0h0M125.8 152.0h0M87.0 152.0h0M116.5 152.0h0M135.9 152.0h0M112.4 152.0h0M102.2 152.0h0M131.7 152.0h0M127.2 152.0h0M92.9 152.0h0M91.5 152.0h0M117.7 152.0h0M120.6 152.0h0M81.5 152.0h0" stroke="#56a0db" stroke-width="1.5" stroke-linecap="round" fill="none"/>
<path d="M127.5 152.0h0M133.4 151.9h0M83.4 151.9h0M122.7 151.9h0M138.1 151.9h0M77.9 151.9h0M132.9 151.9h0M83.3 151.9h0M125.9 151.9h0M91.2 151.9h0M104.5 151.9h0M134.7 151.9h0M118.4 151.9h0M94.9 151.9h0M89.4 151.9h0M126.1 151.9h0" stroke="#56a1db" stroke-width="1.5" stroke-linecap="round" fill="none"/>
<path d="M128.1 151.9h0M84.0 151.9h0M97.2 151.9h0M83.4 151.9h0M112.7 151.8h0M91.9 151.8h0M92.2 151.8h0M127.2 151.8h0M82.7 151.8h0M116.1 151.8h0M85.0 151.8h0M95.1 151.8h0M132.9 151.8h0M120.6 151.8h0M126.8 151.8h0M136.2 151.8h0M84.6 151.8h0M104.4 151.8h0M79.4 151.7h0M89.4 151.7h0M104.2 151.7h0M113.5 151.7h0M128.0 151.7h0M88.2 151.7h0M101.7 151.7h0M126.2 151.7h0M68.9 151.7h0M98.4 151.7h0M139.1 151.7h0M140.0 151.7h0M95.9 151.7h0M96.7 151.7h0M169.4 151.7h0M120.4 151.7h0M130.8 151.7h0M90.5 151.6h0M132.3 151.6h0M83.0 151.6h0" stroke="#57a1db" stroke-width="1.5" stroke-linecap="round" fill="none"/>
<path d="M130.8 151.6h0M93.9 151.6h0M97.6 151.6h0M88.2 151.6h0M100.1 151.6h0M118.4 151.5h0M136.3 151.5h0M99.1 151.5h0M138.8 151.5h0M116.6 151.5h0M90.1 151.5h0M79.8 151.5h0M86.9 151.5h0M113.5 151.5h0M95.6 151.5h0M97.5 151.5h0M104.2 151.5h0M100.0 151.5h0M81.6 151.5h0M137.4 151.5h0M148.3 151.5h0M116.3 151.5h0M83.4 151.5h0M89.4 151.5h0M86.9 151.4h0M88.7 151.4h0M93.3 151.4h0M116.6 151.4h0M135.1 151.4h0M103.4 151.4h0M93.2 151.4h0M104.4 151.4h0M119.0 151.4h0M95.1 151.4h0M85.1 151.4h0M124.2 151.4h0M100.1 151.4h0M83.4 151.4h0M126.4 151.4h0M78.7 151.4h0M95.7 151.4h0M124.0 151.4h0" stroke="#57a2db" stroke-width="1.5" stroke-linecap="round" fill="none"/>
<path d="M113.3 151.3h0M137.8 151.3h0M126.6 151.3h0M97.8 151.3h0M136.1 151.3h0M83.0 151.3h0M83.0 151.3h0" stroke="#57a2dc" stroke-width="1.5" stroke-linecap="round" fill="none"/>
<path d="M83.6 151.3h0M120.2 151.3h0M101.0 151.3h0M88.7 151.3h0M132.0 151.3h0M115.4 151.3h0M91.6 151.3h0M96.9 151.2h0M120.6 151.2h0M120.0 151.2h0M81.0 151.2h0M115.5 151.2h0M87.7 151.2h0M82.7 151.2h0M133.4 151.2h0M131.7 151.2h0M91.8 151.2h0M84.2 151.2h0M81.4 151.1h0M104.8 151.1h0M99.1 151.1h0M100.5 151.1h0M116.3 151.1h0M120.0 151.1h0M137.0 151.1h0M122.6 151.1h0M99.8 151.1h0M126.0 151.1h0M91.2 151.1h0M91.6 151.1h0M103.3 151.1h0M117.7 151.1h0M85.6 151.1h0M99.4 151.0h0M98.4 151.0h0M118.7 151.0h0M134.4 151.0h0M94.7 151.0h0M123.4 151.0h0M89.9 151.0h0M138.2 151.0h0M136.3 151.0h0" stroke="#57a3dc" stroke-width="1.5" stroke-linecap="round" fill="none"/>
<path d="M159.5 151.0h0M95.3 151.0h0M115.2 151.0h0M96.5 150.9h0M134.0 150.9h0M130.7 150.9h0M114.4 150.9h0M137.2 150.9h0M80.9 150.9h0M98.0 150.9h0M130.7 150.9h0M122.9 150.9h0M137.0 150.9h0M133.3 150.9h0M100.2 150.9h0M89.6 150.9h0M86.0 150.9h0M83.4 150.9h0M98.3 150.9h0M83.9 150.9h0M135.2 150.9h0M114.3 150.9h0M113.7 150.9h0M88.8 150.9h0M129.1 150.9h0M97.8 150.9h0M120.2 150.9h0M95.3 150.9h0M95.7 150.9h0M92.0 150.8h0M98.1 150.8h0M84.6 150.8h0M101.5 150.8h0M100.8 150.8h0M134.2 150.8h0M53.7 150.8h0M95.8 150.8h0M114.7 150.8h0M92.9 150.8h0M130.2 150.8h0M103.1 150.8h0M90.8 150.8h0M87.4 150.8h0M94.6 150.7h0M124.6 150.7h0M139.6 150.7h0M100.4 150.7h0M125.2 150.7h0M122.2 150.7h0M133.9 150.7h0M113.2 150.7h0M89.7 150.7h0" stroke="#57a4dc" stroke-width="1.5" stroke-linecap="round" fill="none"/>
<path d="M163.5 150.6h0M114.8 150.6h0M125.7 150.6h0M104.6 150.6h0M115.2 150.6h0M137.4 150.6h0M124.3 150.6h0M138.5 150.6h0M134.7 150.5h0M89.2 150.5h0M136.2 150.5h0M85.4 150.5h0M125.4 150.5h0M126.6 150.5h0M135.6 150.5h0M104.0 150.5h0M83.5 150.5h0M97.7 150.5h0M115.1 150.5h0M132.5 150.4h0M94.8 150.4h0M85.0 150.4h0M97.8 150.4h0M135.2 150.4h0M120.8 150.4h0M120.2 150.4h0M92.1 150.4h0M88.9 150.4h0M99.7 150.4h0M131.8 150.4h0M95.2 150.4h0M133.9 150.4h0M85.3 150.4h0M122.3 150.4h0M130.1 150.4h0M104.2 150.4h0M87.9 150.4h0M95.7 150.4h0M88.7 150.3h0M128.6 150.3h0M125.6 150.3h0" stroke="#58a5dd" stroke-width="1.5" stroke-linecap="round" fill="none"/>
<path d="M126.3 150.3h0M82.1 150.3h0M94.8 150.3h0M120.3 150.3h0M133.5 150.3h0M122.4 150.3h0M98.2 150.2h0M87.7 150.2h0M93.2 150.2h0M104.5 150.2h0M81.1 150.2h0M83.5 150.2h0M134.3 150.2h0M118.2 150.2h0M102.7 150.2h0M122.5 150.2h0M100.4 150.2h0M98.8 150.2h0M93.5 150.1h0M93.6 150.1h0M95.5 150.1h0M93.3 150.1h0M102.5 150.1h0M88.1 150.1h0M133.4 150.1h0M98.8 150.1h0M69.0 150.1h0M83.4 150.1h0M96.2 150.1h0M133.7 150.1h0M85.9 150.1h0M119.7 150.1h0M93.4 150.1h0M93.5 150.1h0M113.8 150.0h0M101.8 150.0h0M82.4 150.0h0M123.1 150.0h0M132.2 150.0h0M80.3 150.0h0M88.9 150.0h0M98.5 150.0h0M119.4 150.0h0" stroke="#58a6dd" stroke-width="1.5" stroke-linecap="round" fill="none"/>
<path d="M83.0 150.0h0M88.7 150.0h0M130.6 149.9h0" stroke="#58a7dd" stroke-width="1.5" stroke-linecap="round" fill="none"/>
<path d="M99.9 149.9h0M131.1 149.9h0M126.7 149.9h0M138.5 149.9h0M90.1 149.9h0M84.5 149.9h0M91.9 149.9h0M100.4 149.8h0M102.6 149.8h0M96.2 149.8h0M124.7 149.8h0M130.3 149.8h0M131.5 149.8h0M84.5 149.8h0M91.5 149.8h0M135.3 149.8h0M97.0 149.8h0M83.4 149.8h0M95.4 149.7h0M123.1 149.7h0M132.7 149.7h0M85.9 149.7h0M115.0 149.7h0M85.4 149.7h0M86.5 149.7h0M132.1 149.7h0" stroke="#58a7de" stroke-width="1.5" stroke-linecap="round" fill="none"/>
<path d="M86.4 149.6h0M130.4 149.6h0M95.3 149.6h0M92.4 149.6h0M88.0 149.6h0M117.7 149.6h0M117.0 149.6h0M128.0 149.6h0M82.6 149.6h0M94.2 149.6h0M122.0 149.6h0M134.0 149.6h0M89.2 149.5h0M89.0 149.5h0M87.9 149.5h0M86.6 149.5h0M124.5 149.5h0M96.1 149.5h0M127.1 149.5h0M104.6 149.5h0M132.8 149.5h0M133.4 149.5h0M127.9 149.5h0M113.5 149.5h0M85.6 149.5h0M130.1 149.5h0M93.9 149.4h0M127.4 149.4h0M100.0 149.4h0M115.9 149.4h0M122.6 149.4h0M134.1 149.4h0M136.2 149.4h0M103.5 149.4h0M129.0 149.4h0" stroke="#58a8de" stroke-width="1.5" stroke-linecap="round" fill="none"/>
<path d="M129.9 149.4h0M135.8 149.4h0M87.6 149.4h0M120.9 149.4h0M124.6 149.4h0M114.3 149.4h0M132.0 149.4h0M166.0 149.4h0M90.0 149.3h0" stroke="#59a8de" stroke-width="1.5" stroke-linecap="round" fill="none"/>
<path d="M127.2 149.3h0M126.9 149.3h0M136.5 149.3h0M92.3 149.3h0M137.9 149.3h0M121.1 149.3h0M95.3 149.3h0M134.7 149.3h0M90.3 149.3h0" stroke="#59a9de" stroke-width="1.5" stroke-linecap="round" fill="none"/>
<path d="M114.0 149.2h0M125.6 149.2h0M125.0 149.2h0M118.6 149.2h0M135.7 149.2h0M126.4 149.2h0M89.4 149.2h0M121.2 149.1h0M116.9 149.1h0M137.1 149.1h0M91.7 149.1h0M127.2 149.1h0M126.9 149.1h0M128.1 149.1h0M117.8 149.1h0M119.0 149.1h0M127.8 149.1h0M132.2 149.1h0M124.1 149.0h0M104.2 149.0h0M117.3 149.0h0M96.5 149.0h0M123.9 149.0h0M134.6 149.0h0M84.1 149.0h0M118.1 149.0h0M121.9 149.0h0M122.5 149.0h0M94.5 149.0h0M134.8 149.0h0" stroke="#59a9df" stroke-width="1.5" stroke-linecap="round" fill="none"/>
<path d="M122.8 149.0h0M124.1 149.0h0M133.6 149.0h0M126.4 149.0h0M120.8 149.0h0M123.4 149.0h0M73.7 149.0h0M98.0 148.9h0M132.8 148.9h0M136.3 148.9h0M114.1 148.9h0M88.1 148.9h0M113.3 148.9h0M87.1 148.9h0M95.7 148.9h0M114.2 148.9h0M113.3 148.9h0M116.1 148.9h0M118.4 148.8h0M124.0 148.8h0M123.4 148.8h0M134.2 148.8h0M113.7 148.8h0M115.6 148.8h0M87.5 148.8h0M162.6 148.8h0M101.1 148.8h0M135.0 148.8h0M95.7 148.8h0M116.1 148.8h0M93.9 148.8h0M119.8 148.8h0M119.6 148.8h0M131.4 148.8h0M125.0 148.8h0M116.5 148.7h0M85.6 148.7h0M131.2 148.7h0M138.6 148.7h0M120.6 148.7h0M115.1 148.7h0M129.7 148.7h0M97.4 148.7h0M86.9 148.7h0M89.2 148.7h0M91.5 148.7h0M118.0 148.7h0M138.4 148.7h0M133.1 148.7h0M91.3 148.7h0M82.1 148.7h0" stroke="#59aadf" stroke-width="1.5" stroke-linecap="round" fill="none"/>
<path d="M133.8 148.7h0M116.3 148.7h0M124.7 148.7h0M117.8 148.6h0M90.2 148.6h0M98.7 148.6h0M91.8 148.6h0M113.2 148.6h0M165.3 148.6h0M123.4 148.6h0M157.8 148.6h0M113.7 148.6h0M121.1 148.6h0M126.4 148.6h0M135.9 148.6h0M118.2 148.6h0M120.6 148.5h0M102.1 148.5h0M134.7 148.5h0" stroke="#59abdf" stroke-width="1.5" stroke-linecap="round" fill="none"/>
<path d="M127.4 148.5h0M123.3 148.5h0M131.2 148.5h0M87.2 148.5h0M113.4 148.5h0M94.4 148.5h0M96.7 148.5h0M123.4 148.5h0M131.9 148.4h0M135.7 148.4h0M132.4 148.4h0M128.4 148.4h0M118.7 148.4h0M126.9 148.4h0M133.8 148.4h0M90.8 148.4h0" stroke="#59abe0" stroke-width="1.5" stroke-linecap="round" fill="none"/>
<path d="M123.1 148.3h0M122.8 148.3h0M99.6 148.3h0M85.2 148.3h0M120.5 148.3h0M132.6 148.3h0M129.5 148.3h0M114.8 148.3h0M115.9 148.3h0M131.0 148.3h0M85.9 148.2h0M99.4 148.2h0M121.8 148.2h0M125.8 148.2h0" stroke="#59ace0" stroke-width="1.5" stroke-linecap="round" fill="none"/>
<path d="M60.4 148.2h0M83.1 148.2h0M124.0 148.1h0M128.7 148.1h0M80.9 148.1h0M120.9 148.1h0M88.3 148.1h0M95.3 148.1h0M127.7 148.1h0M126.8 148.1h0M134.3 148.1h0M114.6 148.1h0M125.1 148.1h0M82.5 148.0h0M127.3 148.0h0M80.5 148.0h0" stroke="#5aace0" stroke-width="1.5" stroke-linecap="round" fill="none"/>
<path d="M78.1 148.0h0M88.8 148.0h0M133.6 148.0h0M113.8 148.0h0M122.7 148.0h0M92.5 148.0h0M116.0 148.0h0M122.2 147.9h0M113.7 147.9h0M124.6 147.9h0M59.3 147.9h0M98.6 147.9h0M89.2 147.9h0M125.6 147.9h0M116.4 147.9h0M136.0 147.9h0M116.3 147.9h0M128.8 147.9h0M118.8 147.8h0M98.1 147.8h0M93.1 147.8h0" stroke="#5aade0" stroke-width="1.5" stroke-linecap="round" fill="none"/>
<path d="M136.9 147.8h0M118.8 147.8h0M136.6 147.8h0M122.4 147.8h0M122.3 147.7h0M88.9 147.7h0M135.9 147.7h0M132.9 147.7h0M85.8 147.7h0M83.7 147.7h0M139.2 147.7h0" stroke="#5aade1" stroke-width="1.5" stroke-linecap="round" fill="none"/>
<path d="M114.9 147.7h0M119.7 147.7h0M102.6 147.7h0M141.3 147.7h0M101.2 147.6h0M125.7 147.6h0M97.1 147.6h0M70.5 147.6h0M130.3 147.6h0M114.5 147.6h0M130.6 147.6h0M128.0 147.6h0M129.5 147.6h0M130.5 147.6h0M88.2 147.6h0M85.2 147.5h0M101.7 147.5h0M121.5 147.5h0M128.1 147.5h0M96.1 147.5h0M97.9 147.5h0M130.8 147.5h0M123.5 147.5h0M130.7 147.5h0M94.2 147.5h0M122.1 147.5h0M86.7 147.4h0M164.0 147.4h0M126.3 147.4h0M129.0 147.4h0M120.5 147.4h0M131.3 147.4h0M123.0 147.4h0M114.9 147.4h0M89.5 147.4h0M128.8 147.4h0M115.2 147.4h0M112.9 147.4h0" stroke="#5aaee1" stroke-width="1.5" stroke-linecap="round" fill="none"/>
<path d="M83.1 147.3h0M84.1 147.3h0M112.9 147.3h0M124.1 147.3h0M132.7 147.3h0M121.0 147.2h0M119.9 147.2h0M130.3 147.2h0M95.4 147.2h0M92.5 147.2h0M98.4 147.2h0M126.1 147.2h0M120.4 147.2h0M88.1 147.2h0M116.0 147.2h0M123.4 147.2h0M116.7 147.2h0M128.6 147.2h0M101.6 147.2h0M127.0 147.1h0M124.6 147.1h0M126.0 147.1h0M128.3 147.1h0" stroke="#5aafe1" stroke-width="1.5" stroke-linecap="round" fill="none"/>
<path d="M119.5 147.1h0M94.2 147.1h0M129.4 147.1h0M116.8 147.1h0M122.1 147.1h0M131.4 147.0h0M75.7 147.0h0" stroke="#5aafe2" stroke-width="1.5" stroke-linecap="round" fill="none"/>
<path d="M117.2 147.0h0M65.1 147.0h0M113.3 147.0h0M95.3 147.0h0M93.7 147.0h0M122.4 147.0h0M113.6 147.0h0" stroke="#5ab0e2" stroke-width="1.5" stroke-linecap="round" fill="none"/>
<path d="M96.1 146.9h0M118.1 146.9h0M143.1 146.9h0M135.5 146.9h0M85.9 146.9h0M116.6 146.9h0M132.3 146.8h0M123.2 146.8h0M137.0 146.8h0M91.8 146.8h0M126.4 146.8h0M129.8 146.8h0M117.0 146.8h0M101.0 146.8h0M132.3 146.7h0M134.4 146.7h0" stroke="#5bb0e2" stroke-width="1.5" stroke-linecap="round" fill="none"/>
<path d="M115.8 146.7h0M120.3 146.7h0M129.3 146.6h0M86.8 146.6h0M116.8 146.6h0M117.1 146.6h0M124.1 146.6h0M137.3 146.6h0M93.0 146.6h0M120.0 146.6h0M63.3 146.6h0M133.7 146.6h0M89.6 146.6h0M133.4 146.5h0M123.7 146.5h0M97.2 146.5h0M94.8 146.5h0M125.4 146.5h0M133.7 146.5h0M116.7 146.5h0M122.1 146.5h0M82.8 146.5h0M128.0 146.4h0" stroke="#5bb1e2" stroke-width="1.5" stroke-linecap="round" fill="none"/>
<path d="M121.5 146.4h0" stroke="#5bb1e3" stroke-width="1.5" stroke-linecap="round" fill="none"/>
<path d="M125.8 146.4h0M129.2 146.4h0M120.7 146.3h0M123.5 146.3h0M120.1 146.3h0M97.9 146.3h0M129.3 146.3h0M120.1 146.3h0M88.7 146.3h0M114.3 146.3h0M90.9 146.3h0M125.3 146.3h0M127.2 146.2h0M121.0 146.2h0M114.2 146.2h0M127.4 146.2h0M130.0 146.2h0M92.0 146.2h0M121.3 146.2h0M95.7 146.2h0M138.0 146.2h0M135.7 146.2h0M128.2 146.2h0M119.5 146.1h0M129.5 146.1h0M130.6 146.1h0M135.0 146.1h0M130.5 146.1h0" stroke="#5bb2e3" stroke-width="1.5" stroke-linecap="round" fill="none"/>
<path d="M87.2 146.0h0M126.4 146.0h0M129.2 146.0h0M128.3 146.0h0M126.8 146.0h0M93.3 146.0h0M121.2 145.9h0M118.9 145.9h0M124.9 145.9h0M158.0 145.9h0M133.9 145.9h0M126.0 145.9h0M85.8 145.9h0M151.3 145.9h0M83.9 145.9h0M116.9 145.9h0M113.1 145.9h0M119.0 145.8h0M130.4 145.8h0M121.6 145.8h0M118.6 145.8h0M114.8 145.8h0M120.2 145.8h0" stroke="#5bb3e3" stroke-width="1.5" stroke-linecap="round" fill="none"/>
<path d="M128.3 145.7h0M134.5 145.7h0M113.7 145.6h0M133.2 145.6h0M62.4 145.6h0M117.5 145.6h0M117.4 145.5h0M132.4 145.5h0M132.7 145.5h0M116.8 145.5h0M91.8 145.5h0M122.6 145.5h0M115.8 145.5h0M127.9 145.4h0M116.5 145.4h0M92.8 145.4h0M127.0 145.4h0M134.0 145.4h0M125.8 145.4h0M124.5 145.4h0M86.4 145.4h0M170.4 145.3h0M119.5 145.3h0M131.9 145.3h0M127.8 145.3h0M132.1 145.3h0M120.7 145.2h0M135.9 145.2h0M119.5 145.2h0M150.7 145.1h0M122.9 145.1h0M113.6 145.1h0M114.9 145.1h0" stroke="#5cb4e3" stroke-width="1.5" stroke-linecap="round" fill="none"/>
<path d="M129.3 145.1h0M127.7 145.1h0M130.7 145.1h0M85.6 145.0h0M124.9 145.0h0M128.7 145.0h0M91.3 145.0h0M129.5 145.0h0M122.6 145.0h0M121.9 145.0h0M133.6 145.0h0M114.4 145.0h0M120.2 145.0h0M117.8 144.9h0M119.6 144.9h0" stroke="#5db4e3" stroke-width="1.5" stroke-linecap="round" fill="none"/>
<path d="M103.1 144.9h0M118.8 144.9h0M124.0 144.9h0M136.3 144.8h0M101.3 144.8h0M125.0 144.8h0M133.5 144.8h0M119.2 144.8h0M126.4 144.8h0M119.4 144.8h0M129.3 144.8h0M115.8 144.7h0M128.7 144.7h0M125.0 144.7h0M132.3 144.7h0M129.5 144.7h0M163.4 144.7h0M119.8 144.7h0M129.6 144.7h0M126.5 144.7h0M119.8 144.7h0M98.5 144.7h0M135.8 144.6h0M86.8 144.6h0M123.0 144.6h0M126.2 144.6h0M124.9 144.6h0M128.5 144.6h0M124.2 144.5h0M134.0 144.5h0M128.7 144.5h0M123.9 144.5h0" stroke="#5db5e2" stroke-width="1.5" stroke-linecap="round" fill="none"/>
<path d="M134.1 144.5h0M131.2 144.4h0M121.3 144.4h0M120.6 144.4h0M128.1 144.4h0M123.3 144.4h0M120.1 144.4h0M131.0 144.4h0M120.4 144.3h0M125.9 144.3h0M91.5 144.3h0M73.8 144.2h0M88.2 144.2h0M118.0 144.2h0M117.0 144.2h0M133.5 144.1h0" stroke="#5eb5e2" stroke-width="1.5" stroke-linecap="round" fill="none"/>
<path d="M127.8 144.1h0M121.1 144.0h0M127.1 144.0h0M129.4 144.0h0M128.0 144.0h0M129.3 144.0h0M129.8 144.0h0M116.4 144.0h0M82.4 144.0h0M66.8 144.0h0M132.9 144.0h0M83.5 143.9h0M116.1 143.9h0M127.4 143.9h0M118.3 143.9h0M124.7 143.9h0" stroke="#5eb6e1" stroke-width="1.5" stroke-linecap="round" fill="none"/>
<path d="M128.8 143.8h0M136.0 143.8h0M128.1 143.8h0M119.3 143.8h0M122.8 143.8h0M114.4 143.7h0M124.2 143.7h0M92.4 143.7h0M125.0 143.7h0M93.4 143.7h0M89.0 143.7h0M123.9 143.6h0M88.8 143.6h0M130.8 143.6h0M132.2 143.5h0M127.5 143.5h0M123.2 143.5h0M85.1 143.4h0M94.3 143.4h0M127.3 143.4h0M129.1 143.4h0M94.4 143.4h0M128.0 143.3h0M127.0 143.3h0" stroke="#5fb6e1" stroke-width="1.5" stroke-linecap="round" fill="none"/>
<path d="M64.1 143.3h0" stroke="#60b7e1" stroke-width="1.5" stroke-linecap="round" fill="none"/>
<path d="M126.9 143.2h0M134.0 143.2h0M128.9 143.2h0M98.3 143.1h0M122.5 143.1h0M123.4 143.1h0M124.2 143.1h0M118.9 143.0h0M125.2 143.0h0M115.9 143.0h0M129.9 143.0h0M124.6 143.0h0M115.3 143.0h0M114.4 142.9h0M124.4 142.9h0M125.7 142.9h0M131.6 142.8h0M121.7 142.8h0M114.8 142.8h0M124.7 142.8h0M126.6 142.8h0M123.3 142.8h0M121.3 142.8h0M91.5 142.7h0M103.6 142.7h0M125.6 142.7h0M118.6 142.7h0M122.8 142.7h0M125.7 142.7h0" stroke="#60b7e0" stroke-width="1.5" stroke-linecap="round" fill="none"/>
<path d="M84.5 142.6h0M122.7 142.6h0M141.2 142.5h0M125.4 142.5h0M129.8 142.5h0M119.4 142.5h0M127.8 142.5h0M117.5 142.5h0" stroke="#61b7e0" stroke-width="1.5" stroke-linecap="round" fill="none"/>
<path d="M127.0 142.4h0M126.6 142.4h0M89.5 142.4h0M121.6 142.4h0M121.1 142.3h0M125.3 142.3h0M119.1 142.2h0M126.7 142.2h0M122.9 142.2h0M118.6 142.2h0M123.7 142.1h0M130.2 142.1h0M121.0 142.1h0M130.1 142.1h0M124.5 142.1h0" stroke="#61b8df" stroke-width="1.5" stroke-linecap="round" fill="none"/>
<path d="M170.2 142.0h0M124.4 141.9h0M170.5 141.8h0M117.7 141.8h0M85.5 141.8h0M169.9 141.8h0M123.1 141.8h0M125.2 141.8h0M124.3 141.7h0M98.7 141.7h0M85.9 141.6h0" stroke="#62b8df" stroke-width="1.5" stroke-linecap="round" fill="none"/>
<path d="M134.1 141.6h0M92.4 141.6h0M127.5 141.6h0M122.0 141.5h0M131.5 141.4h0" stroke="#62b9de" stroke-width="1.5" stroke-linecap="round" fill="none"/>
<path d="M116.5 141.3h0M115.7 141.3h0M116.5 141.3h0M131.1 141.3h0M124.5 141.3h0M78.6 141.3h0M124.7 141.3h0M130.4 141.3h0M130.4 141.2h0M123.4 141.2h0M116.4 141.1h0M155.6 141.1h0M114.2 141.1h0M161.5 141.1h0M122.6 141.0h0M129.1 141.0h0M123.0 140.9h0M125.3 140.9h0M121.1 140.9h0M121.7 140.9h0M117.6 140.9h0M132.5 140.9h0" stroke="#63b9de" stroke-width="1.5" stroke-linecap="round" fill="none"/>
<path d="M118.8 140.8h0M126.5 140.8h0M123.6 140.7h0M134.5 140.7h0M127.6 140.6h0M88.5 140.6h0M127.8 140.6h0M158.0 140.5h0M143.0 140.4h0M120.7 140.4h0M115.0 140.4h0M125.6 140.4h0M88.5 140.4h0M122.8 140.4h0M121.6 140.2h0" stroke="#64badd" stroke-width="1.5" stroke-linecap="round" fill="none"/>
<path d="M134.6 140.2h0M91.0 140.1h0M131.4 140.1h0" stroke="#65badd" stroke-width="1.5" stroke-linecap="round" fill="none"/>
<path d="M115.1 139.9h0M76.7 139.9h0M125.0 139.9h0M165.3 139.7h0M119.6 139.7h0M85.9 139.7h0M129.5 139.6h0M123.6 139.6h0" stroke="#65bbdc" stroke-width="1.5" stroke-linecap="round" fill="none"/>
<path d="M124.9 139.5h0M86.2 139.5h0M136.0 139.4h0M124.1 139.4h0M102.3 139.3h0M127.1 139.3h0M102.0 139.3h0M148.6 139.3h0M124.3 139.3h0" stroke="#66bbdc" stroke-width="1.5" stroke-linecap="round" fill="none"/>
<path d="M81.9 139.1h0M122.6 139.1h0M114.1 139.1h0" stroke="#66bcdb" stroke-width="1.5" stroke-linecap="round" fill="none"/>
<path d="M114.6 138.9h0M120.3 138.9h0M129.9 138.9h0M93.0 138.8h0M115.4 138.8h0M116.4 138.8h0M93.3 138.7h0M126.7 138.7h0M116.3 138.7h0M122.5 138.7h0M124.7 138.6h0M121.8 138.5h0M122.1 138.5h0M119.8 138.4h0M128.4 138.4h0M93.6 138.4h0" stroke="#67bcdb" stroke-width="1.5" stroke-linecap="round" fill="none"/>
<path d="M72.2 138.3h0" stroke="#68bddb" stroke-width="1.5" stroke-linecap="round" fill="none"/>
<path d="M124.6 138.3h0M123.9 138.3h0M162.4 138.2h0M128.0 138.1h0M124.9 138.1h0M132.4 138.1h0M102.2 138.0h0M127.1 137.9h0M124.7 137.8h0M122.7 137.8h0M162.3 137.8h0M118.3 137.7h0" stroke="#68bdda" stroke-width="1.5" stroke-linecap="round" fill="none"/>
<path d="M134.1 137.5h0" stroke="#69bdda" stroke-width="1.5" stroke-linecap="round" fill="none"/>
<path d="M131.4 137.5h0M97.2 137.4h0M118.9 137.4h0M96.6 137.3h0M123.6 137.2h0M137.4 137.2h0" stroke="#69bed9" stroke-width="1.5" stroke-linecap="round" fill="none"/>
<path d="M136.7 137.1h0M124.6 136.9h0M120.5 136.9h0" stroke="#6abed9" stroke-width="1.5" stroke-linecap="round" fill="none"/>
<path d="M121.2 136.6h0M125.4 136.6h0" stroke="#6abfd8" stroke-width="1.5" stroke-linecap="round" fill="none"/>
<path d="M124.9 136.4h0M119.4 136.1h0M129.8 136.1h0M121.6 136.1h0M127.9 136.0h0" stroke="#6bbfd8" stroke-width="1.5" stroke-linecap="round" fill="none"/>
<path d="M129.5 135.8h0" stroke="#6cc0d7" stroke-width="1.5" stroke-linecap="round" fill="none"/>
<path d="M86.8 135.5h0M96.4 135.5h0M141.1 135.5h0" stroke="#6dc0d5" stroke-width="1.5" stroke-linecap="round" fill="none"/>
<path d="M119.3 135.3h0" stroke="#6ec0d4" stroke-width="1.5" stroke-linecap="round" fill="none"/>
<path d="M131.3 135.2h0M87.6 135.2h0M148.2 135.1h0M119.8 135.1h0" stroke="#6ec1d3" stroke-width="1.5" stroke-linecap="round" fill="none"/>
<path d="M116.4 135.0h0" stroke="#6fc1d2" stroke-width="1.5" stroke-linecap="round" fill="none"/>
<path d="M125.8 134.8h0" stroke="#6fc1d0" stroke-width="1.5" stroke-linecap="round" fill="none"/>
<path d="M80.2 134.7h0" stroke="#70c1d0" stroke-width="1.5" stroke-linecap="round" fill="none"/>
<path d="M126.0 134.6h0" stroke="#70c2cf" stroke-width="1.5" stroke-linecap="round" fill="none"/>
<path d="M121.1 134.4h0M84.2 134.4h0M136.2 134.3h0" stroke="#71c2ce" stroke-width="1.5" stroke-linecap="round" fill="none"/>
<path d="M126.7 134.3h0" stroke="#71c2cd" stroke-width="1.5" stroke-linecap="round" fill="none"/>
<path d="M126.3 134.0h0M147.4 134.0h0M115.2 134.0h0" stroke="#72c2cc" stroke-width="1.5" stroke-linecap="round" fill="none"/>
<path d="M98.5 134.0h0" stroke="#72c3cb" stroke-width="1.5" stroke-linecap="round" fill="none"/>
<path d="M163.5 133.9h0" stroke="#73c3cb" stroke-width="1.5" stroke-linecap="round" fill="none"/>
<path d="M145.3 133.6h0" stroke="#74c3c9" stroke-width="1.5" stroke-linecap="round" fill="none"/>
<path d="M117.2 133.4h0" stroke="#74c3c8" stroke-width="1.5" stroke-linecap="round" fill="none"/>
<path d="M137.4 133.2h0M124.7 133.2h0" stroke="#75c4c6" stroke-width="1.5" stroke-linecap="round" fill="none"/>
<path d="M127.8 133.1h0M123.9 133.0h0" stroke="#76c4c5" stroke-width="1.5" stroke-linecap="round" fill="none"/>
<path d="M67.0 132.7h0" stroke="#77c5c3" stroke-width="1.5" stroke-linecap="round" fill="none"/>
<path d="M119.2 132.2h0" stroke="#79c5c0" stroke-width="1.5" stroke-linecap="round" fill="none"/>
<path d="M116.1 131.9h0M125.4 131.9h0" stroke="#7ac6be" stroke-width="1.5" stroke-linecap="round" fill="none"/>
<path d="M100.4 131.4h0M126.5 131.3h0" stroke="#7cc7ba" stroke-width="1.5" stroke-linecap="round" fill="none"/>
<path d="M136.2 131.2h0" stroke="#7dc7b9" stroke-width="1.5" stroke-linecap="round" fill="none"/>
<path d="M122.0 130.8h0M142.8 130.8h0" stroke="#7ec8b7" stroke-width="1.5" stroke-linecap="round" fill="none"/>
<path d="M128.8 130.4h0" stroke="#80c8b4" stroke-width="1.5" stroke-linecap="round" fill="none"/>
<path d="M81.7 130.2h0" stroke="#80c9b3" stroke-width="1.5" stroke-linecap="round" fill="none"/>
<path d="M130.9 130.1h0" stroke="#80c9b2" stroke-width="1.5" stroke-linecap="round" fill="none"/>
<path d="M79.8 130.0h0M124.6 130.0h0" stroke="#81c9b1" stroke-width="1.5" stroke-linecap="round" fill="none"/>
<path d="M123.8 129.7h0" stroke="#82c9b0" stroke-width="1.5" stroke-linecap="round" fill="none"/>
<path d="M93.8 129.6h0" stroke="#83caaf" stroke-width="1.5" stroke-linecap="round" fill="none"/>
<path d="M128.2 129.5h0" stroke="#83caae" stroke-width="1.5" stroke-linecap="round" fill="none"/>
<path d="M127.9 129.1h0M85.5 129.1h0" stroke="#84caac" stroke-width="1.5" stroke-linecap="round" fill="none"/>
<path d="M86.3 128.5h0" stroke="#87cca8" stroke-width="1.5" stroke-linecap="round" fill="none"/>
<path d="M138.3 128.5h0" stroke="#87cca7" stroke-width="1.5" stroke-linecap="round" fill="none"/>
<path d="M87.8 128.0h0" stroke="#88cca4" stroke-width="1.5" stroke-linecap="round" fill="none"/>
<path d="M95.2 127.7h0M120.3 127.7h0" stroke="#89cda3" stroke-width="1.5" stroke-linecap="round" fill="none"/>
<path d="M122.5 127.2h0" stroke="#8bcda0" stroke-width="1.5" stroke-linecap="round" fill="none"/>
<path d="M79.3 127.1h0" stroke="#8cce9e" stroke-width="1.5" stroke-linecap="round" fill="none"/>
<path d="M84.8 126.7h0" stroke="#8dce9c" stroke-width="1.5" stroke-linecap="round" fill="none"/>
<path d="M98.4 126.6h0" stroke="#8dcf9b" stroke-width="1.5" stroke-linecap="round" fill="none"/>
<path d="M120.3 126.5h0" stroke="#8ecf9b" stroke-width="1.5" stroke-linecap="round" fill="none"/>
<path d="M158.9 125.6h0" stroke="#91d096" stroke-width="1.5" stroke-linecap="round" fill="none"/>
<path d="M120.5 125.5h0" stroke="#91d095" stroke-width="1.5" stroke-linecap="round" fill="none"/>
<path d="M119.7 125.2h0" stroke="#93d093" stroke-width="1.5" stroke-linecap="round" fill="none"/>
<path d="M82.6 124.8h0M153.9 124.8h0" stroke="#94d192" stroke-width="1.5" stroke-linecap="round" fill="none"/>
<path d="M161.9 124.7h0" stroke="#95d191" stroke-width="1.5" stroke-linecap="round" fill="none"/>
<path d="M125.1 123.8h0" stroke="#98d28d" stroke-width="1.5" stroke-linecap="round" fill="none"/>
<path d="M134.8 123.6h0M123.4 123.6h0" stroke="#99d28c" stroke-width="1.5" stroke-linecap="round" fill="none"/>
<path d="M120.7 123.0h0" stroke="#9bd389" stroke-width="1.5" stroke-linecap="round" fill="none"/>
<path d="M139.4 122.8h0" stroke="#9cd388" stroke-width="1.5" stroke-linecap="round" fill="none"/>
<path d="M136.8 122.3h0" stroke="#9ed486" stroke-width="1.5" stroke-linecap="round" fill="none"/>
<path d="M137.2 121.2h0M127.1 121.1h0M140.5 121.1h0" stroke="#a2d580" stroke-width="1.5" stroke-linecap="round" fill="none"/>
<path d="M133.3 120.8h0" stroke="#a3d57e" stroke-width="1.5" stroke-linecap="round" fill="none"/>
<path d="M132.4 120.6h0" stroke="#a4d57d" stroke-width="1.5" stroke-linecap="round" fill="none"/>
<path d="M85.1 120.3h0" stroke="#a5d67c" stroke-width="1.5" stroke-linecap="round" fill="none"/>
<path d="M132.3 119.9h0M156.1 119.9h0" stroke="#a7d67a" stroke-width="1.5" stroke-linecap="round" fill="none"/>
<path d="M157.1 118.9h0" stroke="#abd775" stroke-width="1.5" stroke-linecap="round" fill="none"/>
<path d="M133.0 118.8h0" stroke="#abd774" stroke-width="1.5" stroke-linecap="round" fill="none"/>
<path d="M74.5 118.6h0M150.2 118.6h0" stroke="#acd874" stroke-width="1.5" stroke-linecap="round" fill="none"/>
<path d="M147.0 117.0h0" stroke="#b2d96c" stroke-width="1.5" stroke-linecap="round" fill="none"/>
<path d="M97.0 116.7h0M153.0 116.6h0" stroke="#b3da6a" stroke-width="1.5" stroke-linecap="round" fill="none"/>
<path d="M158.5 116.4h0M147.4 116.4h0" stroke="#b4da69" stroke-width="1.5" stroke-linecap="round" fill="none"/>
<path d="M144.2 114.9h0" stroke="#badc62" stroke-width="1.5" stroke-linecap="round" fill="none"/>
<path d="M135.3 112.5h0" stroke="#c3de56" stroke-width="1.5" stroke-linecap="round" fill="none"/>
<path d="M145.7 111.2h0" stroke="#c8e050" stroke-width="1.5" stroke-linecap="round" fill="none"/>
<line x1="99.7" y1="18.2" x2="99.7" y2="188.5" stroke="#9a9a9a" stroke-width="0.6" stroke-dasharray="1.5,1.5"/>
<line x1="117.5" y1="18.2" x2="117.5" y2="188.5" stroke="#9a9a9a" stroke-width="0.6" stroke-dasharray="1.5,1.5"/>
<line x1="47.3" y1="177.0" x2="177.4" y2="177.0" stroke="#9a9a9a" stroke-width="0.6" stroke-dasharray="1.5,1.5"/>
<circle cx="156.4" cy="25.9" r="1.1" fill="#c8302a" stroke="none" stroke-width="1"/>
<text x="155.9" y="29.8" font-size="4.7" text-anchor="middle" fill="#c8302a">COL10A1</text>
<circle cx="164.0" cy="44.1" r="1.1" fill="#c8302a" stroke="none" stroke-width="1"/>
<text x="161.7" y="47.8" font-size="4.7" text-anchor="middle" fill="#c8302a">CST1</text>
<circle cx="142.0" cy="62.2" r="1.1" fill="#c8302a" stroke="none" stroke-width="1"/>
<text x="142.8" y="68.0" font-size="4.7" text-anchor="middle" fill="#c8302a">ESM1</text>
<circle cx="138.0" cy="101.0" r="0.9" fill="#d8dc30" stroke="none" stroke-width="1"/>
<circle cx="122.8" cy="104.1" r="0.9" fill="#d8dc30" stroke="none" stroke-width="1"/>
<circle cx="157.3" cy="99.8" r="0.9" fill="#d8dc30" stroke="none" stroke-width="1"/>
<circle cx="155.7" cy="107.6" r="0.9" fill="#d8dc30" stroke="none" stroke-width="1"/>
<circle cx="130.1" cy="107.6" r="0.9" fill="#d8dc30" stroke="none" stroke-width="1"/>
<circle cx="155.7" cy="112.2" r="0.9" fill="#d8dc30" stroke="none" stroke-width="1"/>
<circle cx="148.5" cy="110.3" r="0.9" fill="#d8dc30" stroke="none" stroke-width="1"/>
<circle cx="143.0" cy="113.5" r="0.9" fill="#d8dc30" stroke="none" stroke-width="1"/>
<circle cx="160.5" cy="116.5" r="0.9" fill="#d8dc30" stroke="none" stroke-width="1"/>
<text x="110.8" y="101.8" font-size="4.7" text-anchor="middle" fill="#d8dc30">MIR4435-2HG</text>
<text x="134.3" y="99.5" font-size="4.7" text-anchor="middle" fill="#d8dc30">MMP11</text>
<text x="157.8" y="97.8" font-size="4.7" text-anchor="middle" fill="#d8dc30">HOXC10</text>
<text x="156.1" y="106.2" font-size="4.7" text-anchor="middle" fill="#d8dc30">LINC01234</text>
<text x="119.9" y="111.3" font-size="4.7" text-anchor="middle" fill="#d8dc30">GABRD</text>
<text x="141.0" y="115.0" font-size="4.7" text-anchor="middle" fill="#d8dc30">COL11A1</text>
<text x="160.5" y="118.0" font-size="4.7" text-anchor="middle" fill="#d8dc30">PMEL1</text>
<rect x="47.3" y="18.2" width="130.1" height="170.3" fill="none" stroke="#4a4a4a" stroke-width="0.9"/>
<line x1="44.8" y1="180.2" x2="47.3" y2="180.2" stroke="#4a4a4a" stroke-width="0.8"/>
<text x="44.6" y="183.6" font-size="9.5" text-anchor="end" fill="#4d4d4d">0</text>
<line x1="44.8" y1="130.9" x2="47.3" y2="130.9" stroke="#4a4a4a" stroke-width="0.8"/>
<text x="44.6" y="134.3" font-size="9.5" text-anchor="end" fill="#4d4d4d">20</text>
<line x1="44.8" y1="81.7" x2="47.3" y2="81.7" stroke="#4a4a4a" stroke-width="0.8"/>
<text x="44.6" y="85.1" font-size="9.5" text-anchor="end" fill="#4d4d4d">40</text>
<line x1="44.8" y1="32.4" x2="47.3" y2="32.4" stroke="#4a4a4a" stroke-width="0.8"/>
<text x="44.6" y="35.8" font-size="9.5" text-anchor="end" fill="#4d4d4d">60</text>
<line x1="71.5" y1="188.5" x2="71.5" y2="191.0" stroke="#4a4a4a" stroke-width="0.8"/>
<text x="71.5" y="198.0" font-size="9.5" text-anchor="middle" fill="#4d4d4d">−5</text>
<line x1="108.6" y1="188.5" x2="108.6" y2="191.0" stroke="#4a4a4a" stroke-width="0.8"/>
<text x="108.6" y="198.0" font-size="9.5" text-anchor="middle" fill="#4d4d4d">0</text>
<line x1="145.7" y1="188.5" x2="145.7" y2="191.0" stroke="#4a4a4a" stroke-width="0.8"/>
<text x="145.7" y="198.0" font-size="9.5" text-anchor="middle" fill="#4d4d4d">5</text>
<text x="111.0" y="207.3" font-size="9.2" text-anchor="middle" fill="#000">Log<tspan font-size="5.2" dy="1">2</tspan><tspan dy="-1">FC</tspan></text>
<text x="33.0" y="100.0" font-size="10.2" text-anchor="middle" fill="#000" transform="rotate(-90 33.0 100.0)">−Log<tspan font-size="6" dy="1">10</tspan><tspan dy="-1">(q−value)</tspan></text>
<defs><linearGradient id="lg" x1="0" y1="0" x2="0" y2="1"><stop offset="0" stop-color="#d03030"/><stop offset="0.25" stop-color="#ec8050"/><stop offset="0.5" stop-color="#f0f040"/><stop offset="0.62" stop-color="#a0d860"/><stop offset="0.8" stop-color="#40b8f0"/><stop offset="1" stop-color="#3040a0"/></linearGradient></defs>
<rect x="47.9" y="75.0" width="5.0" height="25.6" fill="url(#lg)" stroke="none" stroke-width="1"/>
<text x="50.6" y="73.3" font-size="7.3" text-anchor="start" fill="#000">−Log<tspan font-size="5" dy="1">10</tspan><tspan dy="-1">(q-value)</tspan></text>
<text x="56.3" y="79.6" font-size="5" text-anchor="start" fill="#333">60</text>
<text x="56.3" y="88.4" font-size="5" text-anchor="start" fill="#333">40</text>
<text x="56.3" y="97.0" font-size="5" text-anchor="start" fill="#333">20</text>
<text x="200.5" y="16.5" font-size="20" text-anchor="start" fill="#000" font-weight="bold">B</text>
<g opacity="1">
<ellipse cx="297.5" cy="81" rx="66.4" ry="51.3" fill="#e7eba9" fill-opacity="0.5"/>
<ellipse cx="363.1" cy="81" rx="66.7" ry="51.3" fill="#e5b9c9" fill-opacity="0.5"/>
<ellipse cx="330.6" cy="123.6" rx="66.7" ry="51.1" fill="#c5e7f1" fill-opacity="0.5"/>
</g>
<text x="268.3" y="72.2" font-size="9" text-anchor="middle" fill="#111">6718</text>
<text x="331.0" y="58.2" font-size="9" text-anchor="middle" fill="#111">141</text>
<text x="391.6" y="72.2" font-size="9" text-anchor="middle" fill="#111">610</text>
<text x="331.0" y="99.2" font-size="9" text-anchor="middle" fill="#111">23</text>
<text x="285.4" y="118.9" font-size="9" text-anchor="middle" fill="#111">182</text>
<text x="376.5" y="118.9" font-size="9" text-anchor="middle" fill="#111">136</text>
<text x="331.0" y="155.0" font-size="9" text-anchor="middle" fill="#111">1364</text>
<text x="262.6" y="25.2" font-size="10.3" text-anchor="middle" fill="#111">GC-related DEGs</text>
<text x="386.2" y="25.2" font-size="10.2" text-anchor="middle" fill="#111">Ferroptosis-related genes</text>
<text x="331.0" y="188.6" font-size="10.3" text-anchor="middle" fill="#111">Mitochondrial dysfunction-related genes</text>
<text x="478.0" y="16.5" font-size="20" text-anchor="start" fill="#000" font-weight="bold">C</text>
<text x="496.0" y="38.9" font-size="9" text-anchor="middle" fill="#222">Gene</text>
<text x="580.8" y="38.9" font-size="9" text-anchor="start" fill="#222">pvalue</text>
<text x="617.0" y="38.9" font-size="9" text-anchor="start" fill="#222">HR(CI)</text>
<line x1="527.6" y1="54.5" x2="527.6" y2="161.0" stroke="#a8a8a8" stroke-width="1.2" stroke-dasharray="3.5,2"/>
<text x="508.0" y="53.7" font-size="8.7" text-anchor="end" fill="#222">NOX4</text>
<text x="580.8" y="53.8" font-size="9" text-anchor="start" fill="#222">0.002</text>
<text x="617.0" y="53.8" font-size="9" text-anchor="start" fill="#222">1.4 (1.1−1.8)</text>
<line x1="532.1" y1="51.3" x2="564.0" y2="51.3" stroke="#1a1af0" stroke-width="1.1"/>
<rect x="546.0" y="48.8" width="5.0" height="5.0" fill="#1a1af0" stroke="none" stroke-width="1"/>
<text x="508.0" y="68.7" font-size="8.7" text-anchor="end" fill="#222">GJA1</text>
<text x="580.8" y="68.8" font-size="9" text-anchor="start" fill="#222">0.001</text>
<text x="617.0" y="68.8" font-size="9" text-anchor="start" fill="#222">1.2 (1.1−1.4)</text>
<line x1="532.1" y1="66.3" x2="546.7" y2="66.3" stroke="#1a1af0" stroke-width="1.1"/>
<rect x="536.9" y="63.8" width="5.0" height="5.0" fill="#1a1af0" stroke="none" stroke-width="1"/>
<text x="508.0" y="83.7" font-size="8.7" text-anchor="end" fill="#222">BNIP3</text>
<text x="580.8" y="83.8" font-size="9" text-anchor="start" fill="#222">0.038</text>
<text x="617.0" y="83.8" font-size="9" text-anchor="start" fill="#222">1.2 (1−1.3)</text>
<line x1="527.6" y1="81.3" x2="542.2" y2="81.3" stroke="#1a1af0" stroke-width="1.1"/>
<rect x="532.8" y="78.8" width="5.0" height="5.0" fill="#1a1af0" stroke="none" stroke-width="1"/>
<text x="508.0" y="98.7" font-size="8.7" text-anchor="end" fill="#222">ALDH3A2</text>
<text x="580.8" y="98.8" font-size="9" text-anchor="start" fill="#222">0.023</text>
<text x="617.0" y="98.8" font-size="9" text-anchor="start" fill="#222">0.78 (0.63−0.97)</text>
<line x1="510.8" y1="96.3" x2="526.2" y2="96.3" stroke="#1a1af0" stroke-width="1.1"/>
<rect x="515.1" y="93.8" width="5.0" height="5.0" fill="#1a1af0" stroke="none" stroke-width="1"/>
<text x="508.0" y="113.7" font-size="8.7" text-anchor="end" fill="#222">COX7A1</text>
<text x="580.8" y="113.8" font-size="9" text-anchor="start" fill="#222">0.033</text>
<text x="617.0" y="113.8" font-size="9" text-anchor="start" fill="#222">1.2 (1−1.4)</text>
<line x1="527.6" y1="111.3" x2="546.7" y2="111.3" stroke="#1a1af0" stroke-width="1.1"/>
<rect x="534.2" y="108.8" width="5.0" height="5.0" fill="#1a1af0" stroke="none" stroke-width="1"/>
<text x="508.0" y="128.7" font-size="8.7" text-anchor="end" fill="#222">GABARAPL1</text>
<text x="580.8" y="128.8" font-size="9" text-anchor="start" fill="#222">0.020</text>
<text x="617.0" y="128.8" font-size="9" text-anchor="start" fill="#222">1.2 (1−1.5)</text>
<line x1="527.6" y1="126.3" x2="550.4" y2="126.3" stroke="#1a1af0" stroke-width="1.1"/>
<rect x="536.5" y="123.8" width="5.0" height="5.0" fill="#1a1af0" stroke="none" stroke-width="1"/>
<text x="508.0" y="143.7" font-size="8.7" text-anchor="end" fill="#222">CRYAB</text>
<text x="580.8" y="143.8" font-size="9" text-anchor="start" fill="#222">0.009</text>
<text x="617.0" y="143.8" font-size="9" text-anchor="start" fill="#222">1.1 (1−1.3)</text>
<line x1="527.6" y1="141.3" x2="541.2" y2="141.3" stroke="#1a1af0" stroke-width="1.1"/>
<rect x="532.8" y="138.8" width="5.0" height="5.0" fill="#1a1af0" stroke="none" stroke-width="1"/>
<text x="508.0" y="158.7" font-size="8.7" text-anchor="end" fill="#222">PDK4</text>
<text x="580.8" y="158.8" font-size="9" text-anchor="start" fill="#222">0.005</text>
<text x="617.0" y="158.8" font-size="9" text-anchor="start" fill="#222">1.1 (1−1.2)</text>
<line x1="527.6" y1="156.3" x2="538.1" y2="156.3" stroke="#1a1af0" stroke-width="1.1"/>
<rect x="530.1" y="153.8" width="5.0" height="5.0" fill="#1a1af0" stroke="none" stroke-width="1"/>
<line x1="504.9" y1="164.7" x2="573.1" y2="164.7" stroke="#222" stroke-width="0.8"/>
<line x1="504.9" y1="164.7" x2="504.9" y2="167.5" stroke="#222" stroke-width="0.8"/>
<text x="504.9" y="178.4" font-size="9" text-anchor="middle" fill="#555">0.5</text>
<line x1="527.6" y1="164.7" x2="527.6" y2="167.5" stroke="#222" stroke-width="0.8"/>
<text x="527.6" y="178.4" font-size="9" text-anchor="middle" fill="#555">1.0</text>
<line x1="550.4" y1="164.7" x2="550.4" y2="167.5" stroke="#222" stroke-width="0.8"/>
<text x="550.4" y="178.4" font-size="9" text-anchor="middle" fill="#555">1.5</text>
<line x1="573.1" y1="164.7" x2="573.1" y2="167.5" stroke="#222" stroke-width="0.8"/>
<text x="573.1" y="178.4" font-size="9" text-anchor="middle" fill="#555">2.0</text>
<text x="536.4" y="189.8" font-size="9" text-anchor="middle" fill="#222">Hazard Ratio</text>
<text x="1.0" y="231.6" font-size="20" text-anchor="start" fill="#000" font-weight="bold">D</text>
<path d="M47.7 239.9C53.1 240.1 71.1 240.2 80.0 240.8C88.9 241.4 93.7 242.0 101.3 243.4C108.9 244.8 119.3 247.4 125.8 249.5C132.2 251.6 135.1 253.4 140.0 255.7C144.9 258.0 150.2 261.1 155.3 263.3C160.4 265.5 165.6 266.9 170.7 268.7C175.8 270.5 180.9 272.1 186.0 274.0C191.1 275.9 197.0 278.1 201.3 280.2C205.6 282.2 209.2 284.6 212.0 286.3C214.8 288.0 216.2 289.2 218.0 290.5C219.8 291.8 222.0 293.2 222.8 293.8" fill="none" stroke="#61D04F" stroke-width="0.8"/>
<text x="44.2" y="241.1" font-size="3.2" text-anchor="middle" fill="#444">21</text>
<path d="M47.7 256.1C53.1 256.5 71.1 257.2 80.0 258.2C88.9 259.1 93.7 259.7 101.3 261.8C108.9 263.9 118.5 267.3 125.8 271.0C133.1 274.7 140.1 280.9 145.0 284.0C149.9 287.1 152.2 287.8 155.0 289.4C157.8 291.0 160.8 293.1 162.0 293.8" fill="none" stroke="#CD0BBC" stroke-width="0.8"/>
<text x="44.2" y="257.3" font-size="3.2" text-anchor="middle" fill="#444">18</text>
<path d="M47.7 263.3C56.4 263.7 84.6 264.3 100.0 265.6C115.4 266.9 130.0 269.4 140.0 271.0C150.0 272.6 153.6 274.0 160.0 275.5C166.4 277.0 171.9 279.2 178.3 280.2C184.7 281.2 191.8 280.9 198.2 281.7C204.6 282.5 212.3 283.8 216.6 284.8C220.9 285.9 221.7 286.5 224.0 288.0C226.3 289.5 229.3 292.8 230.4 293.8" fill="none" stroke="#DF536B" stroke-width="0.8"/>
<text x="44.2" y="264.5" font-size="3.2" text-anchor="middle" fill="#444">20</text>
<path d="M47.7 272.5C56.4 272.8 84.6 273.3 100.0 274.2C115.4 275.1 129.2 276.7 140.0 277.9C150.8 279.1 157.3 280.2 165.0 281.5C172.7 282.8 180.2 284.1 186.0 285.5C191.8 286.9 196.2 288.6 200.0 290.0C203.8 291.4 207.5 293.2 209.0 293.8" fill="none" stroke="#DF536B" stroke-width="0.8"/>
<text x="44.2" y="273.7" font-size="3.2" text-anchor="middle" fill="#444">14</text>
<polyline points="47.7,276.3 50.6,276.3 53.6,276.3 56.5,276.4 59.4,276.5 62.4,276.6 65.3,276.7 68.2,276.8 71.2,277.0 74.1,277.2 77.0,277.4 80.0,277.6 82.9,277.9 85.8,278.1 88.8,278.4 91.7,278.8 94.6,279.1 97.6,279.5 100.5,279.8 103.4,280.2 106.3,280.7 109.3,281.1 112.2,281.6 115.1,282.1 118.1,282.6 121.0,283.1 123.9,283.7 126.9,284.3 129.8,284.9 132.7,285.5 135.7,286.1 138.6,286.8 141.5,287.5 144.5,288.2 147.4,288.9 150.3,289.7 153.3,290.5 156.2,291.3 159.1,292.1 162.1,292.9 165.0,293.8" fill="none" stroke="#61D04F" stroke-width="0.8" stroke-linejoin="round"/>
<text x="44.2" y="277.5" font-size="3.2" text-anchor="middle" fill="#444">3</text>
<polyline points="47.7,278.3 50.9,278.3 54.1,278.3 57.2,278.4 60.4,278.4 63.6,278.5 66.8,278.5 70.0,278.6 73.2,278.7 76.3,278.9 79.5,279.0 82.7,279.2 85.9,279.4 89.1,279.6 92.3,279.8 95.4,280.1 98.6,280.4 101.8,280.7 105.0,281.0 108.2,281.3 111.3,281.7 114.5,282.1 117.7,282.5 120.9,282.9 124.1,283.3 127.3,283.8 130.4,284.3 133.6,284.8 136.8,285.4 140.0,285.9 143.2,286.5 146.4,287.1 149.5,287.8 152.7,288.5 155.9,289.1 159.1,289.9 162.3,290.6 165.5,291.4 168.6,292.1 171.8,293.0 175.0,293.8" fill="none" stroke="#000000" stroke-width="0.8" stroke-linejoin="round"/>
<text x="44.2" y="279.5" font-size="3.2" text-anchor="middle" fill="#444">6</text>
<polyline points="47.7,280.2 51.9,280.3 56.1,280.5 60.4,280.7 64.6,280.9 68.8,281.1 73.0,281.4 77.3,281.6 81.5,281.9 85.7,282.2 89.9,282.4 94.1,282.7 98.4,283.0 102.6,283.4 106.8,283.7 111.0,284.0 115.3,284.3 119.5,284.7 123.7,285.0 127.9,285.4 132.1,285.7 136.4,286.1 140.6,286.5 144.8,286.8 149.0,287.2 153.3,287.6 157.5,288.0 161.7,288.4 165.9,288.8 170.2,289.2 174.4,289.6 178.6,290.0 182.8,290.4 187.0,290.8 191.3,291.2 195.5,291.6 199.7,292.1 203.9,292.5 208.2,292.9 212.4,293.4 216.6,293.8" fill="none" stroke="#28E2E5" stroke-width="0.8" stroke-linejoin="round"/>
<text x="44.2" y="281.4" font-size="3.2" text-anchor="middle" fill="#444">2</text>
<polyline points="47.7,281.7 50.5,281.7 53.3,281.7 56.1,281.8 58.9,281.8 61.7,281.9 64.5,282.0 67.4,282.1 70.2,282.2 73.0,282.3 75.8,282.5 78.6,282.6 81.4,282.8 84.2,283.0 87.0,283.2 89.8,283.4 92.6,283.6 95.4,283.9 98.2,284.2 101.0,284.4 103.8,284.7 106.7,285.0 109.5,285.4 112.3,285.7 115.1,286.1 117.9,286.4 120.7,286.8 123.5,287.2 126.3,287.6 129.1,288.1 131.9,288.5 134.7,289.0 137.5,289.4 140.3,289.9 143.2,290.4 146.0,291.0 148.8,291.5 151.6,292.1 154.4,292.6 157.2,293.2 160.0,293.8" fill="none" stroke="#61D04F" stroke-width="0.8" stroke-linejoin="round"/>
<text x="44.2" y="282.9" font-size="3.2" text-anchor="middle" fill="#444">8</text>
<polyline points="47.7,283.5 50.5,283.5 53.2,283.5 56.0,283.6 58.7,283.6 61.5,283.7 64.2,283.7 67.0,283.8 69.8,283.9 72.5,284.0 75.3,284.1 78.0,284.3 80.8,284.4 83.5,284.6 86.3,284.8 89.1,284.9 91.8,285.1 94.6,285.4 97.3,285.6 100.1,285.8 102.8,286.1 105.6,286.3 108.4,286.6 111.1,286.9 113.9,287.2 116.6,287.5 119.4,287.9 122.2,288.2 124.9,288.5 127.7,288.9 130.4,289.3 133.2,289.7 135.9,290.1 138.7,290.5 141.5,290.9 144.2,291.4 147.0,291.8 149.7,292.3 152.5,292.8 155.2,293.3 158.0,293.8" fill="none" stroke="#DF536B" stroke-width="0.8" stroke-linejoin="round"/>
<text x="44.2" y="284.7" font-size="3.2" text-anchor="middle" fill="#444">12</text>
<polyline points="47.7,282.5 50.6,282.5 53.5,282.5 56.4,282.6 59.3,282.6 62.2,282.7 65.1,282.8 68.1,282.8 71.0,283.0 73.9,283.1 76.8,283.2 79.7,283.4 82.6,283.5 85.5,283.7 88.4,283.9 91.3,284.1 94.2,284.3 97.1,284.5 100.0,284.8 102.9,285.0 105.8,285.3 108.8,285.6 111.7,285.9 114.6,286.2 117.5,286.6 120.4,286.9 123.3,287.3 126.2,287.6 129.1,288.0 132.0,288.4 134.9,288.9 137.8,289.3 140.7,289.7 143.6,290.2 146.6,290.7 149.5,291.2 152.4,291.7 155.3,292.2 158.2,292.7 161.1,293.2 164.0,293.8" fill="none" stroke="#61D04F" stroke-width="0.8" stroke-linejoin="round"/>
<text x="44.2" y="283.7" font-size="3.2" text-anchor="middle" fill="#444">9</text>
<polyline points="47.7,289.4 50.3,289.4 52.8,289.4 55.4,289.4 57.9,289.4 60.5,289.5 63.0,289.5 65.6,289.5 68.2,289.6 70.7,289.6 73.3,289.7 75.8,289.7 78.4,289.8 80.9,289.9 83.5,289.9 86.1,290.0 88.6,290.1 91.2,290.2 93.7,290.3 96.3,290.4 98.8,290.5 101.4,290.6 104.0,290.7 106.5,290.9 109.1,291.0 111.6,291.1 114.2,291.3 116.8,291.4 119.3,291.6 121.9,291.7 124.4,291.9 127.0,292.0 129.5,292.2 132.1,292.4 134.7,292.6 137.2,292.8 139.8,293.0 142.3,293.2 144.9,293.4 147.4,293.6 150.0,293.8" fill="none" stroke="#000000" stroke-width="0.8" stroke-linejoin="round"/>
<text x="44.2" y="290.6" font-size="3.2" text-anchor="middle" fill="#444">13</text>
<polyline points="47.7,293.2 50.3,293.2 52.8,293.2 55.4,293.2 57.9,293.2 60.5,293.2 63.0,293.2 65.6,293.2 68.2,293.2 70.7,293.2 73.3,293.2 75.8,293.2 78.4,293.3 80.9,293.3 83.5,293.3 86.1,293.3 88.6,293.3 91.2,293.3 93.7,293.3 96.3,293.3 98.8,293.4 101.4,293.4 104.0,293.4 106.5,293.4 109.1,293.4 111.6,293.4 114.2,293.5 116.8,293.5 119.3,293.5 121.9,293.5 124.4,293.5 127.0,293.6 129.5,293.6 132.1,293.6 134.7,293.6 137.2,293.7 139.8,293.7 142.3,293.7 144.9,293.7 147.4,293.8 150.0,293.8" fill="none" stroke="#000000" stroke-width="0.8" stroke-linejoin="round"/>
<text x="44.2" y="294.4" font-size="3.2" text-anchor="middle" fill="#444">1</text>
<polyline points="47.7,295.2 50.3,295.2 52.8,295.2 55.4,295.2 57.9,295.2 60.5,295.2 63.0,295.2 65.6,295.2 68.2,295.1 70.7,295.1 73.3,295.1 75.8,295.1 78.4,295.1 80.9,295.1 83.5,295.0 86.1,295.0 88.6,295.0 91.2,294.9 93.7,294.9 96.3,294.9 98.8,294.9 101.4,294.8 104.0,294.8 106.5,294.7 109.1,294.7 111.6,294.7 114.2,294.6 116.8,294.6 119.3,294.5 121.9,294.5 124.4,294.4 127.0,294.4 129.5,294.3 132.1,294.2 134.7,294.2 137.2,294.1 139.8,294.1 142.3,294.0 144.9,293.9 147.4,293.9 150.0,293.8" fill="none" stroke="#CD0BBC" stroke-width="0.8" stroke-linejoin="round"/>
<text x="44.2" y="296.4" font-size="3.2" text-anchor="middle" fill="#444">4</text>
<polyline points="47.7,300.1 50.5,300.1 53.2,300.1 56.0,300.1 58.7,300.0 61.5,300.0 64.2,300.0 67.0,299.9 69.8,299.8 72.5,299.8 75.3,299.7 78.0,299.6 80.8,299.5 83.5,299.4 86.3,299.3 89.1,299.2 91.8,299.1 94.6,299.0 97.3,298.8 100.1,298.7 102.8,298.5 105.6,298.4 108.4,298.2 111.1,298.0 113.9,297.8 116.6,297.6 119.4,297.4 122.2,297.2 124.9,297.0 127.7,296.8 130.4,296.6 133.2,296.3 135.9,296.1 138.7,295.8 141.5,295.5 144.2,295.3 147.0,295.0 149.7,294.7 152.5,294.4 155.2,294.1 158.0,293.8" fill="none" stroke="#28E2E5" stroke-width="0.8" stroke-linejoin="round"/>
<text x="44.2" y="301.3" font-size="3.2" text-anchor="middle" fill="#444">17</text>
<polyline points="47.7,301.6 50.6,301.6 53.5,301.6 56.4,301.6 59.3,301.5 62.2,301.5 65.1,301.4 68.1,301.4 71.0,301.3 73.9,301.2 76.8,301.1 79.7,301.0 82.6,300.9 85.5,300.8 88.4,300.6 91.3,300.5 94.2,300.4 97.1,300.2 100.0,300.0 102.9,299.8 105.8,299.7 108.8,299.5 111.7,299.2 114.6,299.0 117.5,298.8 120.4,298.6 123.3,298.3 126.2,298.0 129.1,297.8 132.0,297.5 134.9,297.2 137.8,296.9 140.7,296.6 143.6,296.3 146.6,296.0 149.5,295.6 152.4,295.3 155.3,294.9 158.2,294.6 161.1,294.2 164.0,293.8" fill="none" stroke="#28E2E5" stroke-width="0.8" stroke-linejoin="round"/>
<text x="44.2" y="302.8" font-size="3.2" text-anchor="middle" fill="#444">16</text>
<polyline points="47.7,303.2 50.7,303.2 53.6,303.2 56.6,303.1 59.5,303.1 62.5,303.1 65.4,303.0 68.4,302.9 71.4,302.8 74.3,302.7 77.3,302.6 80.2,302.5 83.2,302.4 86.1,302.2 89.1,302.0 92.1,301.9 95.0,301.7 98.0,301.5 100.9,301.3 103.9,301.1 106.8,300.9 109.8,300.6 112.8,300.4 115.7,300.1 118.7,299.8 121.6,299.5 124.6,299.2 127.6,298.9 130.5,298.6 133.5,298.3 136.4,297.9 139.4,297.6 142.3,297.2 145.3,296.8 148.3,296.4 151.2,296.0 154.2,295.6 157.1,295.2 160.1,294.7 163.0,294.3 166.0,293.8" fill="none" stroke="#2297E6" stroke-width="0.8" stroke-linejoin="round"/>
<text x="44.2" y="304.4" font-size="3.2" text-anchor="middle" fill="#444">15</text>
<polyline points="47.7,311.9 50.4,311.9 53.1,311.9 55.8,311.9 58.5,311.8 61.2,311.8 63.9,311.7 66.7,311.7 69.4,311.6 72.1,311.5 74.8,311.3 77.5,311.2 80.2,311.0 82.9,310.8 85.6,310.6 88.3,310.3 91.0,310.1 93.7,309.8 96.4,309.4 99.1,309.1 101.8,308.7 104.6,308.3 107.3,307.8 110.0,307.4 112.7,306.9 115.4,306.3 118.1,305.7 120.8,305.1 123.5,304.5 126.2,303.8 128.9,303.1 131.6,302.3 134.3,301.5 137.0,300.7 139.8,299.8 142.5,298.9 145.2,298.0 147.9,297.0 150.6,296.0 153.3,294.9 156.0,293.8" fill="none" stroke="#000000" stroke-width="0.8" stroke-linejoin="round"/>
<text x="44.2" y="313.1" font-size="3.2" text-anchor="middle" fill="#444">7</text>
<polyline points="47.7,317.7 50.6,317.7 53.5,317.7 56.4,317.7 59.3,317.6 62.2,317.6 65.1,317.5 68.1,317.4 71.0,317.3 73.9,317.1 76.8,317.0 79.7,316.8 82.6,316.5 85.5,316.3 88.4,316.0 91.3,315.6 94.2,315.3 97.1,314.9 100.0,314.5 102.9,314.0 105.8,313.5 108.8,312.9 111.7,312.3 114.6,311.7 117.5,311.0 120.4,310.3 123.3,309.6 126.2,308.8 129.1,307.9 132.0,307.0 134.9,306.1 137.8,305.1 140.7,304.0 143.6,302.9 146.6,301.8 149.5,300.6 152.4,299.3 155.3,298.0 158.2,296.7 161.1,295.3 164.0,293.8" fill="none" stroke="#2297E6" stroke-width="0.8" stroke-linejoin="round"/>
<text x="44.2" y="318.9" font-size="3.2" text-anchor="middle" fill="#444">5</text>
<polyline points="47.7,318.8 50.5,318.8 53.3,318.8 56.1,318.8 58.9,318.7 61.7,318.7 64.5,318.6 67.4,318.5 70.2,318.4 73.0,318.2 75.8,318.0 78.6,317.8 81.4,317.6 84.2,317.3 87.0,317.0 89.8,316.6 92.6,316.3 95.4,315.9 98.2,315.4 101.0,314.9 103.8,314.4 106.7,313.8 109.5,313.2 112.3,312.5 115.1,311.8 117.9,311.1 120.7,310.3 123.5,309.4 126.3,308.6 129.1,307.6 131.9,306.6 134.7,305.6 137.5,304.5 140.3,303.3 143.2,302.1 146.0,300.9 148.8,299.6 151.6,298.2 154.4,296.8 157.2,295.3 160.0,293.8" fill="none" stroke="#DF536B" stroke-width="0.8" stroke-linejoin="round"/>
<text x="44.2" y="320.0" font-size="3.2" text-anchor="middle" fill="#444">11</text>
<path d="M47.7 332.8C56.6 332.2 88.4 331.0 101.3 329.2C114.2 327.4 118.5 324.6 125.0 322.0C131.4 319.4 135.0 316.9 140.0 313.9C145.0 310.9 151.2 306.6 155.0 304.0C158.8 301.4 160.5 299.7 163.0 298.0C165.5 296.3 168.8 294.5 170.0 293.8" fill="none" stroke="#2297E6" stroke-width="0.8"/>
<text x="44.2" y="334.0" font-size="3.2" text-anchor="middle" fill="#444">22</text>
<path d="M47.7 342.0C56.6 341.5 85.9 340.3 101.3 339.2C116.7 338.1 128.4 337.8 140.0 335.4C151.6 333.0 161.8 328.4 170.7 324.6C179.6 320.8 187.2 316.2 193.6 312.4C200.0 308.6 205.2 304.7 209.0 301.6C212.8 298.5 215.3 295.1 216.6 293.8" fill="none" stroke="#CD0BBC" stroke-width="0.8"/>
<text x="44.2" y="343.2" font-size="3.2" text-anchor="middle" fill="#444">19</text>
<line x1="150.0" y1="293.8" x2="230.4" y2="293.8" stroke="#28E2E5" stroke-width="0.8"/>
<rect x="40.6" y="235.6" width="197.0" height="110.7" fill="none" stroke="#333" stroke-width="0.9"/>
<text x="55.2" y="233.7" font-size="7.5" text-anchor="middle" fill="#333">23</text>
<line x1="55.2" y1="346.3" x2="55.2" y2="348.8" stroke="#333" stroke-width="0.8"/>
<text x="55.2" y="357.1" font-size="7.7" text-anchor="middle" fill="#333">−7</text>
<text x="91.7" y="233.7" font-size="7.5" text-anchor="middle" fill="#333">21</text>
<line x1="91.7" y1="346.3" x2="91.7" y2="348.8" stroke="#333" stroke-width="0.8"/>
<text x="91.7" y="357.1" font-size="7.7" text-anchor="middle" fill="#333">−6</text>
<text x="128.2" y="233.7" font-size="7.5" text-anchor="middle" fill="#333">21</text>
<line x1="128.2" y1="346.3" x2="128.2" y2="348.8" stroke="#333" stroke-width="0.8"/>
<text x="128.2" y="357.1" font-size="7.7" text-anchor="middle" fill="#333">−5</text>
<text x="164.7" y="233.7" font-size="7.5" text-anchor="middle" fill="#333">11</text>
<line x1="164.7" y1="346.3" x2="164.7" y2="348.8" stroke="#333" stroke-width="0.8"/>
<text x="164.7" y="357.1" font-size="7.7" text-anchor="middle" fill="#333">−4</text>
<text x="201.2" y="233.7" font-size="7.5" text-anchor="middle" fill="#333">5</text>
<line x1="201.2" y1="346.3" x2="201.2" y2="348.8" stroke="#333" stroke-width="0.8"/>
<text x="201.2" y="357.1" font-size="7.7" text-anchor="middle" fill="#333">−3</text>
<text x="237.7" y="233.7" font-size="7.5" text-anchor="middle" fill="#333">0</text>
<line x1="237.7" y1="346.3" x2="237.7" y2="348.8" stroke="#333" stroke-width="0.8"/>
<text x="237.7" y="357.1" font-size="7.7" text-anchor="middle" fill="#333">−2</text>
<line x1="37.6" y1="248.2" x2="40.6" y2="248.2" stroke="#333" stroke-width="0.8"/>
<line x1="37.6" y1="263.4" x2="40.6" y2="263.4" stroke="#333" stroke-width="0.8"/>
<line x1="37.6" y1="278.6" x2="40.6" y2="278.6" stroke="#333" stroke-width="0.8"/>
<line x1="37.6" y1="293.8" x2="40.6" y2="293.8" stroke="#333" stroke-width="0.8"/>
<line x1="37.6" y1="309.0" x2="40.6" y2="309.0" stroke="#333" stroke-width="0.8"/>
<line x1="37.6" y1="324.2" x2="40.6" y2="324.2" stroke="#333" stroke-width="0.8"/>
<line x1="37.6" y1="339.4" x2="40.6" y2="339.4" stroke="#333" stroke-width="0.8"/>
<text x="35.0" y="248.2" font-size="8" text-anchor="middle" fill="#333" transform="rotate(-90 35.0 248.2)">0.3</text>
<text x="35.0" y="278.6" font-size="8" text-anchor="middle" fill="#333" transform="rotate(-90 35.0 278.6)">0.1</text>
<text x="35.0" y="309.0" font-size="8" text-anchor="middle" fill="#333" transform="rotate(-90 35.0 309.0)">−0.1</text>
<text x="35.0" y="339.4" font-size="8" text-anchor="middle" fill="#333" transform="rotate(-90 35.0 339.4)">−0.3</text>
<text x="133.0" y="367.2" font-size="9.6" text-anchor="middle" fill="#000">Log(λ)</text>
<text x="23.0" y="286.2" font-size="10.8" text-anchor="middle" fill="#000" transform="rotate(-90 23.0 286.2)">Coefficients</text>
<text x="1.0" y="390.0" font-size="20" text-anchor="start" fill="#000" font-weight="bold">E</text>
<path d="M47.10 405.30V477.40M45.80 405.30h2.6M45.80 477.40h2.6M50.50 405.53V477.67M49.20 405.53h2.6M49.20 477.67h2.6M53.89 405.75V477.94M52.59 405.75h2.6M52.59 477.94h2.6M57.29 405.98V478.21M55.99 405.98h2.6M55.99 478.21h2.6M60.69 406.21V478.47M59.39 406.21h2.6M59.39 478.47h2.6M64.08 406.44V478.74M62.78 406.44h2.6M62.78 478.74h2.6M67.48 406.66V479.01M66.18 406.66h2.6M66.18 479.01h2.6M70.87 406.89V479.28M69.57 406.89h2.6M69.57 479.28h2.6M74.27 407.12V479.55M72.97 407.12h2.6M72.97 479.55h2.6M77.67 407.34V479.82M76.37 407.34h2.6M76.37 479.82h2.6M81.06 407.66V480.11M79.76 407.66h2.6M79.76 480.11h2.6M84.46 408.17V480.45M83.16 408.17h2.6M83.16 480.45h2.6M87.86 408.68V480.79M86.56 408.68h2.6M86.56 480.79h2.6M91.25 409.19V481.13M89.95 409.19h2.6M89.95 481.13h2.6M94.65 409.70V481.46M93.35 409.70h2.6M93.35 481.46h2.6M98.04 410.21V481.80M96.74 410.21h2.6M96.74 481.80h2.6M101.44 410.78V482.26M100.14 410.78h2.6M100.14 482.26h2.6M104.84 411.44V482.87M103.54 411.44h2.6M103.54 482.87h2.6M108.23 412.11V483.48M106.93 412.11h2.6M106.93 483.48h2.6M111.63 412.77V484.09M110.33 412.77h2.6M110.33 484.09h2.6M115.03 413.43V484.70M113.73 413.43h2.6M113.73 484.70h2.6M118.42 414.09V485.32M117.12 414.09h2.6M117.12 485.32h2.6M121.82 415.13V486.40M120.52 415.13h2.6M120.52 486.40h2.6M125.21 416.49V487.91M123.91 416.49h2.6M123.91 487.91h2.6M128.61 417.84V489.41M127.31 417.84h2.6M127.31 489.41h2.6M132.01 419.20V490.91M130.71 419.20h2.6M130.71 490.91h2.6M135.40 420.56V492.41M134.10 420.56h2.6M134.10 492.41h2.6M138.80 421.92V493.91M137.50 421.92h2.6M137.50 493.91h2.6M142.20 424.24V495.78M140.90 424.24h2.6M140.90 495.78h2.6M145.59 426.61V497.68M144.29 426.61h2.6M144.29 497.68h2.6M148.99 428.99V499.57M147.69 428.99h2.6M147.69 499.57h2.6M152.39 431.37V501.47M151.09 431.37h2.6M151.09 501.47h2.6M155.78 433.75V503.36M154.48 433.75h2.6M154.48 503.36h2.6M159.18 436.30V505.42M157.88 436.30h2.6M157.88 505.42h2.6M162.57 439.18V507.80M161.27 439.18h2.6M161.27 507.80h2.6M165.97 442.05V510.18M164.67 442.05h2.6M164.67 510.18h2.6M169.37 444.93V512.56M168.07 444.93h2.6M168.07 512.56h2.6M172.76 447.81V514.93M171.46 447.81h2.6M171.46 514.93h2.6M176.16 450.69V517.31M174.86 450.69h2.6M174.86 517.31h2.6M179.56 452.54V519.01M178.26 452.54h2.6M178.26 519.01h2.6M182.95 454.06V520.49M181.65 454.06h2.6M181.65 520.49h2.6M186.35 455.31V521.65M185.05 455.31h2.6M185.05 521.65h2.6M189.74 455.77V521.83M188.44 455.77h2.6M188.44 521.83h2.6M193.14 456.16V521.95M191.84 456.16h2.6M191.84 521.95h2.6M196.54 455.08V520.82M195.24 455.08h2.6M195.24 520.82h2.6M199.93 454.00V519.69M198.63 454.00h2.6M198.63 519.69h2.6M203.33 452.93V518.56M202.03 452.93h2.6M202.03 518.56h2.6M206.73 451.85V517.42M205.43 451.85h2.6M205.43 517.42h2.6M210.12 450.78V516.29M208.82 450.78h2.6M208.82 516.29h2.6M213.52 449.76V515.02M212.22 449.76h2.6M212.22 515.02h2.6M216.91 448.77V513.69M215.61 448.77h2.6M215.61 513.69h2.6M220.31 447.78V512.37M219.01 447.78h2.6M219.01 512.37h2.6M223.71 446.79V511.05M222.41 446.79h2.6M222.41 511.05h2.6M227.10 445.79V509.72M225.80 445.79h2.6M225.80 509.72h2.6M230.50 444.80V508.40M229.20 444.80h2.6M229.20 508.40h2.6" stroke="#8e8e8e" stroke-width="0.62" fill="none"/>
<path d="M47.10 441.60h0M50.50 441.90h0M53.89 442.20h0M57.29 442.50h0M60.69 442.80h0M64.08 443.10h0M67.48 443.40h0M70.87 443.70h0M74.27 443.99h0M77.67 444.29h0M81.06 444.62h0M84.46 445.01h0M87.86 445.40h0M91.25 445.79h0M94.65 446.18h0M98.04 446.58h0M101.44 447.10h0M104.84 447.82h0M108.23 448.53h0M111.63 449.24h0M115.03 449.96h0M118.42 450.67h0M121.82 451.38h0M125.21 452.60h0M128.61 453.82h0M132.01 455.05h0M135.40 456.28h0M138.80 457.65h0M142.20 459.01h0M145.59 460.37h0M148.99 461.73h0M152.39 464.45h0M155.78 467.34h0M159.18 470.26h0M162.57 473.38h0M165.97 476.51h0M169.37 479.48h0M172.76 482.41h0M176.16 484.89h0M179.56 487.32h0M182.95 488.33h0M186.35 489.02h0M189.74 489.11h0M193.14 489.19h0M196.54 488.31h0M199.93 487.42h0M203.33 486.31h0M206.73 485.19h0M210.12 484.03h0M213.52 482.87h0M216.91 481.58h0M220.31 480.19h0M223.71 478.82h0M227.10 477.46h0M230.50 476.10h0" stroke="#f00000" stroke-width="2.6" stroke-linecap="round" fill="none"/>
<line x1="193.1" y1="400.6" x2="193.1" y2="526.4" stroke="#000" stroke-width="0.9" stroke-dasharray="1.2,1.6"/>
<line x1="230.5" y1="400.6" x2="230.5" y2="526.4" stroke="#000" stroke-width="0.9" stroke-dasharray="1.2,1.6"/>
<rect x="40.4" y="400.6" width="197.3" height="125.8" fill="none" stroke="#333" stroke-width="0.9"/>
<text x="47.4" y="397.7" font-size="6.3" text-anchor="middle" fill="#333">23</text>
<text x="61.1" y="397.7" font-size="6.3" text-anchor="middle" fill="#333">23</text>
<text x="74.6" y="397.7" font-size="6.3" text-anchor="middle" fill="#333">22</text>
<text x="87.9" y="397.7" font-size="6.3" text-anchor="middle" fill="#333">21</text>
<text x="101.2" y="397.7" font-size="6.3" text-anchor="middle" fill="#333">21</text>
<text x="114.8" y="397.7" font-size="6.3" text-anchor="middle" fill="#333">21</text>
<text x="128.0" y="397.7" font-size="6.3" text-anchor="middle" fill="#333">21</text>
<text x="142.4" y="397.7" font-size="6.3" text-anchor="middle" fill="#333">19</text>
<text x="155.7" y="397.7" font-size="6.3" text-anchor="middle" fill="#333">13</text>
<text x="169.3" y="397.7" font-size="6.3" text-anchor="middle" fill="#333">9</text>
<text x="179.4" y="397.7" font-size="6.3" text-anchor="middle" fill="#333">6</text>
<text x="189.7" y="397.7" font-size="6.3" text-anchor="middle" fill="#333">6</text>
<text x="199.7" y="397.7" font-size="6.3" text-anchor="middle" fill="#333">5</text>
<text x="209.6" y="397.7" font-size="6.3" text-anchor="middle" fill="#333">4</text>
<text x="219.6" y="397.7" font-size="6.3" text-anchor="middle" fill="#333">2</text>
<text x="230.1" y="397.7" font-size="6.3" text-anchor="middle" fill="#333">0</text>
<line x1="55.2" y1="526.4" x2="55.2" y2="528.9" stroke="#333" stroke-width="0.8"/>
<text x="55.2" y="537.8" font-size="7.7" text-anchor="middle" fill="#333">−7</text>
<line x1="91.7" y1="526.4" x2="91.7" y2="528.9" stroke="#333" stroke-width="0.8"/>
<text x="91.7" y="537.8" font-size="7.7" text-anchor="middle" fill="#333">−6</text>
<line x1="128.2" y1="526.4" x2="128.2" y2="528.9" stroke="#333" stroke-width="0.8"/>
<text x="128.2" y="537.8" font-size="7.7" text-anchor="middle" fill="#333">−5</text>
<line x1="164.7" y1="526.4" x2="164.7" y2="528.9" stroke="#333" stroke-width="0.8"/>
<text x="164.7" y="537.8" font-size="7.7" text-anchor="middle" fill="#333">−4</text>
<line x1="201.2" y1="526.4" x2="201.2" y2="528.9" stroke="#333" stroke-width="0.8"/>
<text x="201.2" y="537.8" font-size="7.7" text-anchor="middle" fill="#333">−3</text>
<line x1="237.7" y1="526.4" x2="237.7" y2="528.9" stroke="#333" stroke-width="0.8"/>
<text x="237.7" y="537.8" font-size="7.7" text-anchor="middle" fill="#333">−2</text>
<line x1="37.4" y1="407.0" x2="40.4" y2="407.0" stroke="#333" stroke-width="0.8"/>
<line x1="37.4" y1="429.6" x2="40.4" y2="429.6" stroke="#333" stroke-width="0.8"/>
<line x1="37.4" y1="452.2" x2="40.4" y2="452.2" stroke="#333" stroke-width="0.8"/>
<line x1="37.4" y1="474.8" x2="40.4" y2="474.8" stroke="#333" stroke-width="0.8"/>
<line x1="37.4" y1="497.4" x2="40.4" y2="497.4" stroke="#333" stroke-width="0.8"/>
<line x1="37.4" y1="520.0" x2="40.4" y2="520.0" stroke="#333" stroke-width="0.8"/>
<text x="35.0" y="429.6" font-size="8" text-anchor="middle" fill="#333" transform="rotate(-90 35.0 429.6)">12.1</text>
<text x="35.0" y="474.8" font-size="8" text-anchor="middle" fill="#333" transform="rotate(-90 35.0 474.8)">11.9</text>
<text x="35.0" y="520.0" font-size="8" text-anchor="middle" fill="#333" transform="rotate(-90 35.0 520.0)">11.7</text>
<text x="133.0" y="546.6" font-size="9.6" text-anchor="middle" fill="#000">Log(λ)</text>
<text x="26.5" y="463.8" font-size="9.9" text-anchor="middle" fill="#000" transform="rotate(-90 26.5 463.8)">Partial Likelihood Deviance</text>
<text x="256.0" y="230.6" font-size="20" text-anchor="start" fill="#000" font-weight="bold">F</text>
<text x="297.6" y="243.7" font-size="8" text-anchor="end" fill="#333">shadowMin</text>
<line x1="299.6" y1="240.8" x2="302.2" y2="240.8" stroke="#333" stroke-width="0.7"/>
<line x1="319.3" y1="240.8" x2="330.3" y2="240.8" stroke="#222" stroke-width="0.7" stroke-dasharray="2,1.6"/>
<line x1="338.4" y1="240.8" x2="349.9" y2="240.8" stroke="#222" stroke-width="0.7" stroke-dasharray="2,1.6"/>
<line x1="319.3" y1="238.6" x2="319.3" y2="243.0" stroke="#222" stroke-width="0.8"/>
<line x1="349.9" y1="238.6" x2="349.9" y2="243.0" stroke="#222" stroke-width="0.8"/>
<rect x="330.3" y="236.2" width="8.1" height="9.2" fill="#0000ff" stroke="#222" stroke-width="0.8"/>
<line x1="335.4" y1="236.2" x2="335.4" y2="245.4" stroke="#000" stroke-width="1.5"/>
<circle cx="309.0" cy="240.8" r="1.45" fill="none" stroke="#222" stroke-width="0.65"/>
<circle cx="317.5" cy="240.8" r="1.45" fill="none" stroke="#222" stroke-width="0.65"/>
<text x="297.6" y="255.9" font-size="8" text-anchor="end" fill="#333">ME1</text>
<line x1="299.6" y1="253.0" x2="302.2" y2="253.0" stroke="#333" stroke-width="0.7"/>
<line x1="332.8" y1="253.0" x2="337.7" y2="253.0" stroke="#222" stroke-width="0.7" stroke-dasharray="2,1.6"/>
<line x1="351.7" y1="253.0" x2="363.5" y2="253.0" stroke="#222" stroke-width="0.7" stroke-dasharray="2,1.6"/>
<line x1="332.8" y1="250.8" x2="332.8" y2="255.2" stroke="#222" stroke-width="0.8"/>
<line x1="363.5" y1="250.8" x2="363.5" y2="255.2" stroke="#222" stroke-width="0.8"/>
<rect x="337.7" y="248.4" width="14.0" height="9.2" fill="#ff2010" stroke="#222" stroke-width="0.8"/>
<line x1="341.8" y1="248.4" x2="341.8" y2="257.6" stroke="#000" stroke-width="1.5"/>
<circle cx="376.8" cy="253.0" r="1.45" fill="none" stroke="#222" stroke-width="0.65"/>
<text x="297.6" y="268.1" font-size="8" text-anchor="end" fill="#333">JUN</text>
<line x1="299.6" y1="265.2" x2="302.2" y2="265.2" stroke="#333" stroke-width="0.7"/>
<line x1="328.2" y1="265.2" x2="341.8" y2="265.2" stroke="#222" stroke-width="0.7" stroke-dasharray="2,1.6"/>
<line x1="350.7" y1="265.2" x2="358.4" y2="265.2" stroke="#222" stroke-width="0.7" stroke-dasharray="2,1.6"/>
<line x1="328.2" y1="263.0" x2="328.2" y2="267.4" stroke="#222" stroke-width="0.8"/>
<line x1="358.4" y1="263.0" x2="358.4" y2="267.4" stroke="#222" stroke-width="0.8"/>
<rect x="341.8" y="260.6" width="8.9" height="9.2" fill="#ff2010" stroke="#222" stroke-width="0.8"/>
<line x1="346.1" y1="260.6" x2="346.1" y2="269.8" stroke="#000" stroke-width="1.5"/>
<circle cx="322.6" cy="265.2" r="1.45" fill="none" stroke="#222" stroke-width="0.65"/>
<text x="297.6" y="280.3" font-size="8" text-anchor="end" fill="#333">ASAH2</text>
<line x1="299.6" y1="277.4" x2="302.2" y2="277.4" stroke="#333" stroke-width="0.7"/>
<line x1="335.4" y1="277.4" x2="343.5" y2="277.4" stroke="#222" stroke-width="0.7" stroke-dasharray="2,1.6"/>
<line x1="350.7" y1="277.4" x2="351.7" y2="277.4" stroke="#222" stroke-width="0.7" stroke-dasharray="2,1.6"/>
<line x1="335.4" y1="275.2" x2="335.4" y2="279.6" stroke="#222" stroke-width="0.8"/>
<line x1="351.7" y1="275.2" x2="351.7" y2="279.6" stroke="#222" stroke-width="0.8"/>
<rect x="343.5" y="272.8" width="7.2" height="9.2" fill="#ff2010" stroke="#222" stroke-width="0.8"/>
<line x1="347.9" y1="272.8" x2="347.9" y2="282.0" stroke="#000" stroke-width="1.5"/>
<circle cx="364.7" cy="277.4" r="1.45" fill="none" stroke="#222" stroke-width="0.65"/>
<text x="297.6" y="292.5" font-size="8" text-anchor="end" fill="#333">TERT</text>
<line x1="299.6" y1="289.6" x2="302.2" y2="289.6" stroke="#333" stroke-width="0.7"/>
<line x1="337.9" y1="289.6" x2="344.8" y2="289.6" stroke="#222" stroke-width="0.7" stroke-dasharray="2,1.6"/>
<line x1="351.7" y1="289.6" x2="360.1" y2="289.6" stroke="#222" stroke-width="0.7" stroke-dasharray="2,1.6"/>
<line x1="337.9" y1="287.4" x2="337.9" y2="291.8" stroke="#222" stroke-width="0.8"/>
<line x1="360.1" y1="287.4" x2="360.1" y2="291.8" stroke="#222" stroke-width="0.8"/>
<rect x="344.8" y="285.0" width="6.9" height="9.2" fill="#ff2010" stroke="#222" stroke-width="0.8"/>
<line x1="349.4" y1="285.0" x2="349.4" y2="294.2" stroke="#000" stroke-width="1.5"/>
<circle cx="361.9" cy="289.6" r="1.45" fill="none" stroke="#222" stroke-width="0.65"/>
<text x="297.6" y="304.6" font-size="8" text-anchor="end" fill="#333">PCK2</text>
<line x1="299.6" y1="301.8" x2="302.2" y2="301.8" stroke="#333" stroke-width="0.7"/>
<line x1="342.3" y1="301.8" x2="343.5" y2="301.8" stroke="#222" stroke-width="0.7" stroke-dasharray="2,1.6"/>
<line x1="357.1" y1="301.8" x2="370.4" y2="301.8" stroke="#222" stroke-width="0.7" stroke-dasharray="2,1.6"/>
<line x1="342.3" y1="299.6" x2="342.3" y2="303.9" stroke="#222" stroke-width="0.8"/>
<line x1="370.4" y1="299.6" x2="370.4" y2="303.9" stroke="#222" stroke-width="0.8"/>
<rect x="343.5" y="297.1" width="13.6" height="9.2" fill="#ff2010" stroke="#222" stroke-width="0.8"/>
<line x1="349.4" y1="297.1" x2="349.4" y2="306.4" stroke="#000" stroke-width="1.5"/>
<text x="297.6" y="316.8" font-size="8" text-anchor="end" fill="#333">ARG2</text>
<line x1="299.6" y1="313.9" x2="302.2" y2="313.9" stroke="#333" stroke-width="0.7"/>
<line x1="326.9" y1="313.9" x2="337.9" y2="313.9" stroke="#222" stroke-width="0.7" stroke-dasharray="2,1.6"/>
<line x1="355.8" y1="313.9" x2="363.5" y2="313.9" stroke="#222" stroke-width="0.7" stroke-dasharray="2,1.6"/>
<line x1="326.9" y1="311.7" x2="326.9" y2="316.1" stroke="#222" stroke-width="0.8"/>
<line x1="363.5" y1="311.7" x2="363.5" y2="316.1" stroke="#222" stroke-width="0.8"/>
<rect x="337.9" y="309.3" width="17.9" height="9.2" fill="#ff2010" stroke="#222" stroke-width="0.8"/>
<line x1="350.7" y1="309.3" x2="350.7" y2="318.5" stroke="#000" stroke-width="1.5"/>
<text x="297.6" y="329.0" font-size="8" text-anchor="end" fill="#333">ACADSB</text>
<line x1="299.6" y1="326.1" x2="302.2" y2="326.1" stroke="#333" stroke-width="0.7"/>
<line x1="335.9" y1="326.1" x2="343.5" y2="326.1" stroke="#222" stroke-width="0.7" stroke-dasharray="2,1.6"/>
<line x1="364.5" y1="326.1" x2="375.5" y2="326.1" stroke="#222" stroke-width="0.7" stroke-dasharray="2,1.6"/>
<line x1="335.9" y1="323.9" x2="335.9" y2="328.3" stroke="#222" stroke-width="0.8"/>
<line x1="375.5" y1="323.9" x2="375.5" y2="328.3" stroke="#222" stroke-width="0.8"/>
<rect x="343.5" y="321.5" width="21.0" height="9.2" fill="#ff2010" stroke="#222" stroke-width="0.8"/>
<line x1="351.7" y1="321.5" x2="351.7" y2="330.7" stroke="#000" stroke-width="1.5"/>
<text x="297.6" y="341.2" font-size="8" text-anchor="end" fill="#333">shadowMean</text>
<line x1="299.6" y1="338.3" x2="302.2" y2="338.3" stroke="#333" stroke-width="0.7"/>
<line x1="341.0" y1="338.3" x2="350.7" y2="338.3" stroke="#222" stroke-width="0.7" stroke-dasharray="2,1.6"/>
<line x1="355.8" y1="338.3" x2="361.9" y2="338.3" stroke="#222" stroke-width="0.7" stroke-dasharray="2,1.6"/>
<line x1="341.0" y1="336.1" x2="341.0" y2="340.5" stroke="#222" stroke-width="0.8"/>
<line x1="361.9" y1="336.1" x2="361.9" y2="340.5" stroke="#222" stroke-width="0.8"/>
<rect x="350.7" y="333.7" width="5.1" height="9.2" fill="#0000ff" stroke="#222" stroke-width="0.8"/>
<line x1="353.3" y1="333.7" x2="353.3" y2="342.9" stroke="#000" stroke-width="1.5"/>
<circle cx="332.0" cy="338.3" r="1.45" fill="none" stroke="#222" stroke-width="0.65"/>
<circle cx="339.7" cy="338.3" r="1.45" fill="none" stroke="#222" stroke-width="0.65"/>
<circle cx="364.0" cy="338.3" r="1.45" fill="none" stroke="#222" stroke-width="0.65"/>
<circle cx="366.5" cy="338.3" r="1.45" fill="none" stroke="#222" stroke-width="0.65"/>
<text x="297.6" y="353.4" font-size="8" text-anchor="end" fill="#333">NOX4</text>
<line x1="299.6" y1="350.5" x2="302.2" y2="350.5" stroke="#333" stroke-width="0.7"/>
<line x1="333.4" y1="350.5" x2="348.1" y2="350.5" stroke="#222" stroke-width="0.7" stroke-dasharray="2,1.6"/>
<line x1="364.2" y1="350.5" x2="367.6" y2="350.5" stroke="#222" stroke-width="0.7" stroke-dasharray="2,1.6"/>
<line x1="333.4" y1="348.3" x2="333.4" y2="352.7" stroke="#222" stroke-width="0.8"/>
<line x1="367.6" y1="348.3" x2="367.6" y2="352.7" stroke="#222" stroke-width="0.8"/>
<rect x="348.1" y="345.9" width="16.1" height="9.2" fill="#ff2010" stroke="#222" stroke-width="0.8"/>
<line x1="355.2" y1="345.9" x2="355.2" y2="355.1" stroke="#000" stroke-width="1.5"/>
<text x="297.6" y="365.6" font-size="8" text-anchor="end" fill="#333">CTSB</text>
<line x1="299.6" y1="362.7" x2="302.2" y2="362.7" stroke="#333" stroke-width="0.7"/>
<line x1="339.7" y1="362.7" x2="349.1" y2="362.7" stroke="#222" stroke-width="0.7" stroke-dasharray="2,1.6"/>
<line x1="363.6" y1="362.7" x2="374.3" y2="362.7" stroke="#222" stroke-width="0.7" stroke-dasharray="2,1.6"/>
<line x1="339.7" y1="360.5" x2="339.7" y2="364.9" stroke="#222" stroke-width="0.8"/>
<line x1="374.3" y1="360.5" x2="374.3" y2="364.9" stroke="#222" stroke-width="0.8"/>
<rect x="349.1" y="358.1" width="14.5" height="9.2" fill="#ff2010" stroke="#222" stroke-width="0.8"/>
<line x1="355.2" y1="358.1" x2="355.2" y2="367.3" stroke="#000" stroke-width="1.5"/>
<text x="297.6" y="377.8" font-size="8" text-anchor="end" fill="#333">BID</text>
<line x1="299.6" y1="374.9" x2="302.2" y2="374.9" stroke="#333" stroke-width="0.7"/>
<line x1="334.7" y1="374.9" x2="342.4" y2="374.9" stroke="#222" stroke-width="0.7" stroke-dasharray="2,1.6"/>
<line x1="359.2" y1="374.9" x2="374.3" y2="374.9" stroke="#222" stroke-width="0.7" stroke-dasharray="2,1.6"/>
<line x1="334.7" y1="372.7" x2="334.7" y2="377.1" stroke="#222" stroke-width="0.8"/>
<line x1="374.3" y1="372.7" x2="374.3" y2="377.1" stroke="#222" stroke-width="0.8"/>
<rect x="342.4" y="370.3" width="16.8" height="9.2" fill="#ff2010" stroke="#222" stroke-width="0.8"/>
<line x1="356.5" y1="370.3" x2="356.5" y2="379.5" stroke="#000" stroke-width="1.5"/>
<text x="297.6" y="390.0" font-size="8" text-anchor="end" fill="#333">ALOX12</text>
<line x1="299.6" y1="387.1" x2="302.2" y2="387.1" stroke="#333" stroke-width="0.7"/>
<line x1="344.1" y1="387.1" x2="349.1" y2="387.1" stroke="#222" stroke-width="0.7" stroke-dasharray="2,1.6"/>
<line x1="360.2" y1="387.1" x2="365.3" y2="387.1" stroke="#222" stroke-width="0.7" stroke-dasharray="2,1.6"/>
<line x1="344.1" y1="384.9" x2="344.1" y2="389.3" stroke="#222" stroke-width="0.8"/>
<line x1="365.3" y1="384.9" x2="365.3" y2="389.3" stroke="#222" stroke-width="0.8"/>
<rect x="349.1" y="382.5" width="11.1" height="9.2" fill="#ff2010" stroke="#222" stroke-width="0.8"/>
<line x1="357.5" y1="382.5" x2="357.5" y2="391.7" stroke="#000" stroke-width="1.5"/>
<text x="297.6" y="402.2" font-size="8" text-anchor="end" fill="#333">NGB</text>
<line x1="299.6" y1="399.3" x2="302.2" y2="399.3" stroke="#333" stroke-width="0.7"/>
<line x1="345.8" y1="399.3" x2="355.8" y2="399.3" stroke="#222" stroke-width="0.7" stroke-dasharray="2,1.6"/>
<line x1="367.6" y1="399.3" x2="380.4" y2="399.3" stroke="#222" stroke-width="0.7" stroke-dasharray="2,1.6"/>
<line x1="345.8" y1="397.1" x2="345.8" y2="401.5" stroke="#222" stroke-width="0.8"/>
<line x1="380.4" y1="397.1" x2="380.4" y2="401.5" stroke="#222" stroke-width="0.8"/>
<rect x="355.8" y="394.7" width="11.8" height="9.2" fill="#ff2010" stroke="#222" stroke-width="0.8"/>
<line x1="360.9" y1="394.7" x2="360.9" y2="403.9" stroke="#000" stroke-width="1.5"/>
<text x="297.6" y="414.4" font-size="8" text-anchor="end" fill="#333">BCAT1</text>
<line x1="299.6" y1="411.5" x2="302.2" y2="411.5" stroke="#333" stroke-width="0.7"/>
<line x1="355.8" y1="411.5" x2="361.6" y2="411.5" stroke="#222" stroke-width="0.7" stroke-dasharray="2,1.6"/>
<line x1="371.0" y1="411.5" x2="380.4" y2="411.5" stroke="#222" stroke-width="0.7" stroke-dasharray="2,1.6"/>
<line x1="355.8" y1="409.3" x2="355.8" y2="413.7" stroke="#222" stroke-width="0.8"/>
<line x1="380.4" y1="409.3" x2="380.4" y2="413.7" stroke="#222" stroke-width="0.8"/>
<rect x="361.6" y="406.9" width="9.4" height="9.2" fill="#ff2010" stroke="#222" stroke-width="0.8"/>
<line x1="365.9" y1="406.9" x2="365.9" y2="416.1" stroke="#000" stroke-width="1.5"/>
<circle cx="344.1" cy="411.5" r="1.45" fill="none" stroke="#222" stroke-width="0.65"/>
<text x="297.6" y="426.5" font-size="8" text-anchor="end" fill="#333">CDKN2A</text>
<line x1="299.6" y1="423.6" x2="302.2" y2="423.6" stroke="#333" stroke-width="0.7"/>
<line x1="355.8" y1="423.6" x2="361.6" y2="423.6" stroke="#222" stroke-width="0.7" stroke-dasharray="2,1.6"/>
<line x1="370.3" y1="423.6" x2="376.7" y2="423.6" stroke="#222" stroke-width="0.7" stroke-dasharray="2,1.6"/>
<line x1="355.8" y1="421.4" x2="355.8" y2="425.8" stroke="#222" stroke-width="0.8"/>
<line x1="376.7" y1="421.4" x2="376.7" y2="425.8" stroke="#222" stroke-width="0.8"/>
<rect x="361.6" y="419.0" width="8.7" height="9.2" fill="#ff2010" stroke="#222" stroke-width="0.8"/>
<line x1="365.9" y1="419.0" x2="365.9" y2="428.2" stroke="#000" stroke-width="1.5"/>
<text x="297.6" y="438.7" font-size="8" text-anchor="end" fill="#333">BNIP3</text>
<line x1="299.6" y1="435.8" x2="302.2" y2="435.8" stroke="#333" stroke-width="0.7"/>
<line x1="344.3" y1="435.8" x2="359.6" y2="435.8" stroke="#222" stroke-width="0.7" stroke-dasharray="2,1.6"/>
<line x1="369.9" y1="435.8" x2="383.1" y2="435.8" stroke="#222" stroke-width="0.7" stroke-dasharray="2,1.6"/>
<line x1="344.3" y1="433.6" x2="344.3" y2="438.0" stroke="#222" stroke-width="0.8"/>
<line x1="383.1" y1="433.6" x2="383.1" y2="438.0" stroke="#222" stroke-width="0.8"/>
<rect x="359.6" y="431.2" width="10.3" height="9.2" fill="#ff2010" stroke="#222" stroke-width="0.8"/>
<line x1="367.3" y1="431.2" x2="367.3" y2="440.4" stroke="#000" stroke-width="1.5"/>
<circle cx="391.6" cy="435.8" r="1.45" fill="none" stroke="#222" stroke-width="0.65"/>
<text x="297.6" y="450.9" font-size="8" text-anchor="end" fill="#333">shadowMax</text>
<line x1="299.6" y1="448.0" x2="302.2" y2="448.0" stroke="#333" stroke-width="0.7"/>
<line x1="356.3" y1="448.0" x2="369.1" y2="448.0" stroke="#222" stroke-width="0.7" stroke-dasharray="2,1.6"/>
<line x1="381.9" y1="448.0" x2="399.0" y2="448.0" stroke="#222" stroke-width="0.7" stroke-dasharray="2,1.6"/>
<line x1="356.3" y1="445.8" x2="356.3" y2="450.2" stroke="#222" stroke-width="0.8"/>
<line x1="399.0" y1="445.8" x2="399.0" y2="450.2" stroke="#222" stroke-width="0.8"/>
<rect x="369.1" y="443.4" width="12.8" height="9.2" fill="#0000ff" stroke="#222" stroke-width="0.8"/>
<line x1="373.7" y1="443.4" x2="373.7" y2="452.6" stroke="#000" stroke-width="1.5"/>
<circle cx="343.5" cy="448.0" r="1.45" fill="none" stroke="#222" stroke-width="0.65"/>
<circle cx="404.9" cy="448.0" r="1.45" fill="none" stroke="#222" stroke-width="0.65"/>
<circle cx="407.6" cy="448.0" r="1.45" fill="none" stroke="#222" stroke-width="0.65"/>
<circle cx="410.3" cy="448.0" r="1.45" fill="none" stroke="#222" stroke-width="0.65"/>
<text x="297.6" y="463.1" font-size="8" text-anchor="end" fill="#333">ALDH3A2</text>
<line x1="299.6" y1="460.2" x2="302.2" y2="460.2" stroke="#333" stroke-width="0.7"/>
<line x1="351.2" y1="460.2" x2="370.4" y2="460.2" stroke="#222" stroke-width="0.7" stroke-dasharray="2,1.6"/>
<line x1="383.7" y1="460.2" x2="400.3" y2="460.2" stroke="#222" stroke-width="0.7" stroke-dasharray="2,1.6"/>
<line x1="351.2" y1="458.0" x2="351.2" y2="462.4" stroke="#222" stroke-width="0.8"/>
<line x1="400.3" y1="458.0" x2="400.3" y2="462.4" stroke="#222" stroke-width="0.8"/>
<rect x="370.4" y="455.6" width="13.3" height="9.2" fill="#ffff40" stroke="#222" stroke-width="0.8"/>
<line x1="375.5" y1="455.6" x2="375.5" y2="464.8" stroke="#000" stroke-width="1.5"/>
<circle cx="340.5" cy="460.2" r="1.45" fill="none" stroke="#222" stroke-width="0.65"/>
<circle cx="343.3" cy="460.2" r="1.45" fill="none" stroke="#222" stroke-width="0.65"/>
<circle cx="406.1" cy="460.2" r="1.45" fill="none" stroke="#222" stroke-width="0.65"/>
<text x="297.6" y="475.3" font-size="8" text-anchor="end" fill="#333">PDK4</text>
<line x1="299.6" y1="472.4" x2="302.2" y2="472.4" stroke="#333" stroke-width="0.7"/>
<line x1="355.0" y1="472.4" x2="372.4" y2="472.4" stroke="#222" stroke-width="0.7" stroke-dasharray="2,1.6"/>
<line x1="388.3" y1="472.4" x2="408.2" y2="472.4" stroke="#222" stroke-width="0.7" stroke-dasharray="2,1.6"/>
<line x1="355.0" y1="470.2" x2="355.0" y2="474.6" stroke="#222" stroke-width="0.8"/>
<line x1="408.2" y1="470.2" x2="408.2" y2="474.6" stroke="#222" stroke-width="0.8"/>
<rect x="372.4" y="467.8" width="15.9" height="9.2" fill="#ffff40" stroke="#222" stroke-width="0.8"/>
<line x1="381.4" y1="467.8" x2="381.4" y2="477.0" stroke="#000" stroke-width="1.5"/>
<circle cx="334.6" cy="472.4" r="1.45" fill="none" stroke="#222" stroke-width="0.65"/>
<text x="297.6" y="487.5" font-size="8" text-anchor="end" fill="#333">TXNIP</text>
<line x1="299.6" y1="484.6" x2="302.2" y2="484.6" stroke="#333" stroke-width="0.7"/>
<line x1="366.5" y1="484.6" x2="378.5" y2="484.6" stroke="#999" stroke-width="0.7" stroke-dasharray="2,1.6"/>
<line x1="393.9" y1="484.6" x2="410.5" y2="484.6" stroke="#999" stroke-width="0.7" stroke-dasharray="2,1.6"/>
<line x1="366.5" y1="482.4" x2="366.5" y2="486.8" stroke="#999" stroke-width="0.8"/>
<line x1="410.5" y1="482.4" x2="410.5" y2="486.8" stroke="#999" stroke-width="0.8"/>
<rect x="378.5" y="480.0" width="15.4" height="9.2" fill="#33ee22" stroke="#222" stroke-width="0.8"/>
<line x1="386.2" y1="480.0" x2="386.2" y2="489.2" stroke="#000" stroke-width="1.5"/>
<text x="297.6" y="499.7" font-size="8" text-anchor="end" fill="#333">GJA1</text>
<line x1="299.6" y1="496.8" x2="302.2" y2="496.8" stroke="#333" stroke-width="0.7"/>
<line x1="365.8" y1="496.8" x2="382.6" y2="496.8" stroke="#222" stroke-width="0.7" stroke-dasharray="2,1.6"/>
<line x1="397.7" y1="496.8" x2="414.3" y2="496.8" stroke="#222" stroke-width="0.7" stroke-dasharray="2,1.6"/>
<line x1="365.8" y1="494.6" x2="365.8" y2="499.0" stroke="#222" stroke-width="0.8"/>
<line x1="414.3" y1="494.6" x2="414.3" y2="499.0" stroke="#222" stroke-width="0.8"/>
<rect x="382.6" y="492.2" width="15.1" height="9.2" fill="#33ee22" stroke="#222" stroke-width="0.8"/>
<line x1="390.3" y1="492.2" x2="390.3" y2="501.4" stroke="#000" stroke-width="1.5"/>
<circle cx="355.0" cy="496.8" r="1.45" fill="none" stroke="#222" stroke-width="0.65"/>
<text x="297.6" y="511.9" font-size="8" text-anchor="end" fill="#333">GABARAPL1</text>
<line x1="299.6" y1="509.0" x2="302.2" y2="509.0" stroke="#333" stroke-width="0.7"/>
<line x1="376.2" y1="509.0" x2="397.2" y2="509.0" stroke="#222" stroke-width="0.7" stroke-dasharray="2,1.6"/>
<line x1="411.5" y1="509.0" x2="429.1" y2="509.0" stroke="#222" stroke-width="0.7" stroke-dasharray="2,1.6"/>
<line x1="376.2" y1="506.8" x2="376.2" y2="511.2" stroke="#222" stroke-width="0.8"/>
<line x1="429.1" y1="506.8" x2="429.1" y2="511.2" stroke="#222" stroke-width="0.8"/>
<rect x="397.2" y="504.4" width="14.3" height="9.2" fill="#33ee22" stroke="#222" stroke-width="0.8"/>
<line x1="404.4" y1="504.4" x2="404.4" y2="513.6" stroke="#000" stroke-width="1.5"/>
<circle cx="375.0" cy="509.0" r="1.45" fill="none" stroke="#222" stroke-width="0.65"/>
<circle cx="375.6" cy="509.0" r="1.45" fill="none" stroke="#222" stroke-width="0.65"/>
<text x="297.6" y="524.1" font-size="8" text-anchor="end" fill="#333">LRRK2</text>
<line x1="299.6" y1="521.2" x2="302.2" y2="521.2" stroke="#333" stroke-width="0.7"/>
<line x1="382.6" y1="521.2" x2="405.4" y2="521.2" stroke="#222" stroke-width="0.7" stroke-dasharray="2,1.6"/>
<line x1="421.2" y1="521.2" x2="434.2" y2="521.2" stroke="#222" stroke-width="0.7" stroke-dasharray="2,1.6"/>
<line x1="382.6" y1="519.0" x2="382.6" y2="523.4" stroke="#222" stroke-width="0.8"/>
<line x1="434.2" y1="519.0" x2="434.2" y2="523.4" stroke="#222" stroke-width="0.8"/>
<rect x="405.4" y="516.6" width="15.8" height="9.2" fill="#33ee22" stroke="#222" stroke-width="0.8"/>
<line x1="413.3" y1="516.6" x2="413.3" y2="525.8" stroke="#000" stroke-width="1.5"/>
<circle cx="375.0" cy="521.2" r="1.45" fill="none" stroke="#222" stroke-width="0.65"/>
<circle cx="377.5" cy="521.2" r="1.45" fill="none" stroke="#222" stroke-width="0.65"/>
<text x="297.6" y="536.3" font-size="8" text-anchor="end" fill="#333">CRYAB</text>
<line x1="299.6" y1="533.4" x2="302.2" y2="533.4" stroke="#333" stroke-width="0.7"/>
<line x1="388.3" y1="533.4" x2="408.7" y2="533.4" stroke="#222" stroke-width="0.7" stroke-dasharray="2,1.6"/>
<line x1="423.5" y1="533.4" x2="435.0" y2="533.4" stroke="#222" stroke-width="0.7" stroke-dasharray="2,1.6"/>
<line x1="388.3" y1="531.2" x2="388.3" y2="535.6" stroke="#222" stroke-width="0.8"/>
<line x1="435.0" y1="531.2" x2="435.0" y2="535.6" stroke="#222" stroke-width="0.8"/>
<rect x="408.7" y="528.8" width="14.8" height="9.2" fill="#33ee22" stroke="#222" stroke-width="0.8"/>
<line x1="416.4" y1="528.8" x2="416.4" y2="538.0" stroke="#000" stroke-width="1.5"/>
<circle cx="369.6" cy="533.4" r="1.45" fill="none" stroke="#222" stroke-width="0.65"/>
<circle cx="372.5" cy="533.4" r="1.45" fill="none" stroke="#222" stroke-width="0.65"/>
<circle cx="375.2" cy="533.4" r="1.45" fill="none" stroke="#222" stroke-width="0.65"/>
<circle cx="377.8" cy="533.4" r="1.45" fill="none" stroke="#222" stroke-width="0.65"/>
<circle cx="380.5" cy="533.4" r="1.45" fill="none" stroke="#222" stroke-width="0.65"/>
<circle cx="383.2" cy="533.4" r="1.45" fill="none" stroke="#222" stroke-width="0.65"/>
<circle cx="447.0" cy="533.4" r="1.45" fill="none" stroke="#222" stroke-width="0.65"/>
<text x="297.6" y="548.4" font-size="8" text-anchor="end" fill="#333">COX7A1</text>
<line x1="299.6" y1="545.5" x2="302.2" y2="545.5" stroke="#333" stroke-width="0.7"/>
<line x1="408.2" y1="545.5" x2="426.6" y2="545.5" stroke="#222" stroke-width="0.7" stroke-dasharray="2,1.6"/>
<line x1="443.2" y1="545.5" x2="457.2" y2="545.5" stroke="#222" stroke-width="0.7" stroke-dasharray="2,1.6"/>
<line x1="408.2" y1="543.3" x2="408.2" y2="547.8" stroke="#222" stroke-width="0.8"/>
<line x1="457.2" y1="543.3" x2="457.2" y2="547.8" stroke="#222" stroke-width="0.8"/>
<rect x="426.6" y="540.9" width="16.6" height="9.2" fill="#33ee22" stroke="#222" stroke-width="0.8"/>
<line x1="434.8" y1="540.9" x2="434.8" y2="550.1" stroke="#000" stroke-width="1.5"/>
<circle cx="390.0" cy="545.5" r="1.45" fill="none" stroke="#222" stroke-width="0.65"/>
<circle cx="392.5" cy="545.5" r="1.45" fill="none" stroke="#222" stroke-width="0.65"/>
<circle cx="395.0" cy="545.5" r="1.45" fill="none" stroke="#222" stroke-width="0.65"/>
<circle cx="398.0" cy="545.5" r="1.45" fill="none" stroke="#222" stroke-width="0.65"/>
<circle cx="401.0" cy="545.5" r="1.45" fill="none" stroke="#222" stroke-width="0.65"/>
<rect x="302.2" y="231.4" width="160.9" height="322.2" fill="none" stroke="#333" stroke-width="0.9"/>
<line x1="309.1" y1="231.4" x2="309.1" y2="228.9" stroke="#333" stroke-width="0.7"/>
<text x="309.1" y="226.2" font-size="7.9" text-anchor="middle" fill="#222">−5</text>
<line x1="354.5" y1="231.4" x2="354.5" y2="228.9" stroke="#333" stroke-width="0.7"/>
<text x="354.5" y="226.2" font-size="7.9" text-anchor="middle" fill="#222">0</text>
<line x1="399.9" y1="231.4" x2="399.9" y2="228.9" stroke="#333" stroke-width="0.7"/>
<text x="399.9" y="226.2" font-size="7.9" text-anchor="middle" fill="#222">5</text>
<line x1="445.2" y1="231.4" x2="445.2" y2="228.9" stroke="#333" stroke-width="0.7"/>
<text x="445.2" y="226.2" font-size="7.9" text-anchor="middle" fill="#222">10</text>
<text x="377.5" y="218.2" font-size="9.6" text-anchor="middle" fill="#111">Importance</text>
<text x="477.0" y="231.6" font-size="20" text-anchor="start" fill="#000" font-weight="bold">G</text>
<rect x="517.2" y="232.3" width="155.5" height="324.0" fill="#ebebeb" stroke="none" stroke-width="1"/>
<line x1="527.9" y1="232.3" x2="527.9" y2="556.3" stroke="#fafafa" stroke-width="0.5"/>
<line x1="558.5" y1="232.3" x2="558.5" y2="556.3" stroke="#fafafa" stroke-width="0.5"/>
<line x1="589.2" y1="232.3" x2="589.2" y2="556.3" stroke="#fafafa" stroke-width="0.5"/>
<line x1="619.8" y1="232.3" x2="619.8" y2="556.3" stroke="#fafafa" stroke-width="0.5"/>
<line x1="650.5" y1="232.3" x2="650.5" y2="556.3" stroke="#fafafa" stroke-width="0.5"/>
<line x1="543.2" y1="232.3" x2="543.2" y2="556.3" stroke="#ffffff" stroke-width="1.1"/>
<line x1="543.2" y1="232.3" x2="543.2" y2="230.1" stroke="#333" stroke-width="0.6"/>
<text x="543.2" y="227.3" font-size="7.6" text-anchor="middle" fill="#4d4d4d">5.5</text>
<line x1="573.9" y1="232.3" x2="573.9" y2="556.3" stroke="#ffffff" stroke-width="1.1"/>
<line x1="573.9" y1="232.3" x2="573.9" y2="230.1" stroke="#333" stroke-width="0.6"/>
<text x="573.9" y="227.3" font-size="7.6" text-anchor="middle" fill="#4d4d4d">6.0</text>
<line x1="604.5" y1="232.3" x2="604.5" y2="556.3" stroke="#ffffff" stroke-width="1.1"/>
<line x1="604.5" y1="232.3" x2="604.5" y2="230.1" stroke="#333" stroke-width="0.6"/>
<text x="604.5" y="227.3" font-size="7.6" text-anchor="middle" fill="#4d4d4d">6.5</text>
<line x1="635.2" y1="232.3" x2="635.2" y2="556.3" stroke="#ffffff" stroke-width="1.1"/>
<line x1="635.2" y1="232.3" x2="635.2" y2="230.1" stroke="#333" stroke-width="0.6"/>
<text x="635.2" y="227.3" font-size="7.6" text-anchor="middle" fill="#4d4d4d">7.0</text>
<line x1="665.8" y1="232.3" x2="665.8" y2="556.3" stroke="#ffffff" stroke-width="1.1"/>
<line x1="665.8" y1="232.3" x2="665.8" y2="230.1" stroke="#333" stroke-width="0.6"/>
<text x="665.8" y="227.3" font-size="7.6" text-anchor="middle" fill="#4d4d4d">7.5</text>
<line x1="517.2" y1="240.8" x2="672.7" y2="240.8" stroke="#ffffff" stroke-width="1.1"/>
<line x1="517.2" y1="254.7" x2="672.7" y2="254.7" stroke="#ffffff" stroke-width="1.1"/>
<line x1="517.2" y1="268.7" x2="672.7" y2="268.7" stroke="#ffffff" stroke-width="1.1"/>
<line x1="517.2" y1="282.6" x2="672.7" y2="282.6" stroke="#ffffff" stroke-width="1.1"/>
<line x1="517.2" y1="296.6" x2="672.7" y2="296.6" stroke="#ffffff" stroke-width="1.1"/>
<line x1="517.2" y1="310.5" x2="672.7" y2="310.5" stroke="#ffffff" stroke-width="1.1"/>
<line x1="517.2" y1="324.4" x2="672.7" y2="324.4" stroke="#ffffff" stroke-width="1.1"/>
<line x1="517.2" y1="338.4" x2="672.7" y2="338.4" stroke="#ffffff" stroke-width="1.1"/>
<line x1="517.2" y1="352.3" x2="672.7" y2="352.3" stroke="#ffffff" stroke-width="1.1"/>
<line x1="517.2" y1="366.3" x2="672.7" y2="366.3" stroke="#ffffff" stroke-width="1.1"/>
<line x1="517.2" y1="380.2" x2="672.7" y2="380.2" stroke="#ffffff" stroke-width="1.1"/>
<line x1="517.2" y1="394.1" x2="672.7" y2="394.1" stroke="#ffffff" stroke-width="1.1"/>
<line x1="517.2" y1="408.1" x2="672.7" y2="408.1" stroke="#ffffff" stroke-width="1.1"/>
<line x1="517.2" y1="422.0" x2="672.7" y2="422.0" stroke="#ffffff" stroke-width="1.1"/>
<line x1="517.2" y1="436.0" x2="672.7" y2="436.0" stroke="#ffffff" stroke-width="1.1"/>
<line x1="517.2" y1="449.9" x2="672.7" y2="449.9" stroke="#ffffff" stroke-width="1.1"/>
<line x1="517.2" y1="463.8" x2="672.7" y2="463.8" stroke="#ffffff" stroke-width="1.1"/>
<line x1="517.2" y1="477.8" x2="672.7" y2="477.8" stroke="#ffffff" stroke-width="1.1"/>
<line x1="517.2" y1="491.7" x2="672.7" y2="491.7" stroke="#ffffff" stroke-width="1.1"/>
<line x1="517.2" y1="505.7" x2="672.7" y2="505.7" stroke="#ffffff" stroke-width="1.1"/>
<line x1="517.2" y1="519.6" x2="672.7" y2="519.6" stroke="#ffffff" stroke-width="1.1"/>
<line x1="517.2" y1="533.5" x2="672.7" y2="533.5" stroke="#ffffff" stroke-width="1.1"/>
<line x1="517.2" y1="547.5" x2="672.7" y2="547.5" stroke="#ffffff" stroke-width="1.1"/>
<line x1="515.0" y1="240.8" x2="517.2" y2="240.8" stroke="#333" stroke-width="0.7"/>
<text x="515.0" y="243.7" font-size="8.1" text-anchor="end" fill="#3c3c3c">GJA1</text>
<circle cx="524.6" cy="240.8" r="1.0" fill="#ff1010" stroke="none" stroke-width="1"/>
<line x1="515.0" y1="254.7" x2="517.2" y2="254.7" stroke="#333" stroke-width="0.7"/>
<text x="515.0" y="257.6" font-size="8.1" text-anchor="end" fill="#3c3c3c">TXNIP</text>
<circle cx="526.9" cy="254.7" r="1.0" fill="#ff1010" stroke="none" stroke-width="1"/>
<line x1="515.0" y1="268.7" x2="517.2" y2="268.7" stroke="#333" stroke-width="0.7"/>
<text x="515.0" y="271.6" font-size="8.1" text-anchor="end" fill="#3c3c3c">NGB</text>
<circle cx="544.0" cy="268.7" r="1.0" fill="#ff1010" stroke="none" stroke-width="1"/>
<line x1="515.0" y1="282.6" x2="517.2" y2="282.6" stroke="#333" stroke-width="0.7"/>
<text x="515.0" y="285.5" font-size="8.1" text-anchor="end" fill="#3c3c3c">NOX4</text>
<circle cx="554.2" cy="282.6" r="1.0" fill="#ff1010" stroke="none" stroke-width="1"/>
<line x1="515.0" y1="296.6" x2="517.2" y2="296.6" stroke="#333" stroke-width="0.7"/>
<text x="515.0" y="299.5" font-size="8.1" text-anchor="end" fill="#3c3c3c">PDK4</text>
<circle cx="554.2" cy="296.6" r="1.0" fill="#ff1010" stroke="none" stroke-width="1"/>
<line x1="515.0" y1="310.5" x2="517.2" y2="310.5" stroke="#333" stroke-width="0.7"/>
<text x="515.0" y="313.4" font-size="8.1" text-anchor="end" fill="#3c3c3c">ALDH3A2</text>
<circle cx="556.2" cy="310.5" r="1.0" fill="#ff1010" stroke="none" stroke-width="1"/>
<line x1="515.0" y1="324.4" x2="517.2" y2="324.4" stroke="#333" stroke-width="0.7"/>
<text x="515.0" y="327.3" font-size="8.1" text-anchor="end" fill="#3c3c3c">ASAH2</text>
<circle cx="581.6" cy="324.4" r="1.0" fill="#111" stroke="none" stroke-width="1"/>
<line x1="515.0" y1="338.4" x2="517.2" y2="338.4" stroke="#333" stroke-width="0.7"/>
<text x="515.0" y="341.3" font-size="8.1" text-anchor="end" fill="#3c3c3c">ME1</text>
<circle cx="582.9" cy="338.4" r="1.0" fill="#111" stroke="none" stroke-width="1"/>
<line x1="515.0" y1="352.3" x2="517.2" y2="352.3" stroke="#333" stroke-width="0.7"/>
<text x="517.6" y="352.4" font-size="8.1" text-anchor="end" fill="#3c3c3c">GABARAPL1</text>
<circle cx="590.2" cy="352.3" r="1.0" fill="#111" stroke="none" stroke-width="1"/>
<line x1="515.0" y1="366.3" x2="517.2" y2="366.3" stroke="#333" stroke-width="0.7"/>
<text x="515.0" y="369.2" font-size="8.1" text-anchor="end" fill="#3c3c3c">BCAT1</text>
<circle cx="599.2" cy="366.3" r="1.0" fill="#111" stroke="none" stroke-width="1"/>
<line x1="515.0" y1="380.2" x2="517.2" y2="380.2" stroke="#333" stroke-width="0.7"/>
<text x="515.0" y="383.1" font-size="8.1" text-anchor="end" fill="#3c3c3c">BNIP3</text>
<circle cx="600.8" cy="380.2" r="1.0" fill="#111" stroke="none" stroke-width="1"/>
<line x1="515.0" y1="394.1" x2="517.2" y2="394.1" stroke="#333" stroke-width="0.7"/>
<text x="515.0" y="397.0" font-size="8.1" text-anchor="end" fill="#3c3c3c">JUN</text>
<circle cx="603.0" cy="394.1" r="1.0" fill="#111" stroke="none" stroke-width="1"/>
<line x1="515.0" y1="408.1" x2="517.2" y2="408.1" stroke="#333" stroke-width="0.7"/>
<text x="515.0" y="411.0" font-size="8.1" text-anchor="end" fill="#3c3c3c">CDKN2A</text>
<circle cx="606.3" cy="408.1" r="1.0" fill="#111" stroke="none" stroke-width="1"/>
<line x1="515.0" y1="422.0" x2="517.2" y2="422.0" stroke="#333" stroke-width="0.7"/>
<text x="515.0" y="424.9" font-size="8.1" text-anchor="end" fill="#3c3c3c">ACADSB</text>
<circle cx="622.7" cy="422.0" r="1.0" fill="#111" stroke="none" stroke-width="1"/>
<line x1="515.0" y1="436.0" x2="517.2" y2="436.0" stroke="#333" stroke-width="0.7"/>
<text x="515.0" y="438.9" font-size="8.1" text-anchor="end" fill="#3c3c3c">BID</text>
<circle cx="623.3" cy="436.0" r="1.0" fill="#111" stroke="none" stroke-width="1"/>
<line x1="515.0" y1="449.9" x2="517.2" y2="449.9" stroke="#333" stroke-width="0.7"/>
<text x="515.0" y="452.8" font-size="8.1" text-anchor="end" fill="#3c3c3c">LRRK2</text>
<circle cx="625.6" cy="449.9" r="1.0" fill="#111" stroke="none" stroke-width="1"/>
<line x1="515.0" y1="463.8" x2="517.2" y2="463.8" stroke="#333" stroke-width="0.7"/>
<text x="515.0" y="466.7" font-size="8.1" text-anchor="end" fill="#3c3c3c">CRYAB</text>
<circle cx="637.1" cy="463.8" r="1.0" fill="#111" stroke="none" stroke-width="1"/>
<line x1="515.0" y1="477.8" x2="517.2" y2="477.8" stroke="#333" stroke-width="0.7"/>
<text x="515.0" y="480.7" font-size="8.1" text-anchor="end" fill="#3c3c3c">CTSB</text>
<circle cx="639.0" cy="477.8" r="1.0" fill="#111" stroke="none" stroke-width="1"/>
<line x1="515.0" y1="491.7" x2="517.2" y2="491.7" stroke="#333" stroke-width="0.7"/>
<text x="515.0" y="494.6" font-size="8.1" text-anchor="end" fill="#3c3c3c">ALOX12</text>
<circle cx="652.5" cy="491.7" r="1.0" fill="#111" stroke="none" stroke-width="1"/>
<line x1="515.0" y1="505.7" x2="517.2" y2="505.7" stroke="#333" stroke-width="0.7"/>
<text x="515.0" y="508.6" font-size="8.1" text-anchor="end" fill="#3c3c3c">PCK2</text>
<circle cx="653.2" cy="505.7" r="1.0" fill="#111" stroke="none" stroke-width="1"/>
<line x1="515.0" y1="519.6" x2="517.2" y2="519.6" stroke="#333" stroke-width="0.7"/>
<text x="515.0" y="522.5" font-size="8.1" text-anchor="end" fill="#3c3c3c">TERT</text>
<circle cx="653.8" cy="519.6" r="1.0" fill="#111" stroke="none" stroke-width="1"/>
<line x1="515.0" y1="533.5" x2="517.2" y2="533.5" stroke="#333" stroke-width="0.7"/>
<text x="515.0" y="536.4" font-size="8.1" text-anchor="end" fill="#3c3c3c">COX7A1</text>
<circle cx="656.4" cy="533.5" r="1.0" fill="#111" stroke="none" stroke-width="1"/>
<line x1="515.0" y1="547.5" x2="517.2" y2="547.5" stroke="#333" stroke-width="0.7"/>
<text x="515.0" y="550.4" font-size="8.1" text-anchor="end" fill="#3c3c3c">ARG2</text>
<circle cx="666.0" cy="547.5" r="1.0" fill="#111" stroke="none" stroke-width="1"/>
<line x1="564.4" y1="232.3" x2="564.4" y2="556.3" stroke="#000" stroke-width="1.1" stroke-dasharray="4,3"/>
<text x="599.4" y="217.6" font-size="8.1" text-anchor="middle" fill="#111">Minimal Depth of a Variable</text>
<text x="1.0" y="586.0" font-size="20" text-anchor="start" fill="#000" font-weight="bold">H</text>
<rect x="69.6" y="658.2" width="136.2" height="6.1" fill="#f0f0f0" stroke="none" stroke-width="1"/>
<rect x="69.6" y="664.2" width="136.2" height="6.1" fill="#f8f8f8" stroke="none" stroke-width="1"/>
<rect x="69.6" y="670.5" width="136.2" height="6.1" fill="#f0f0f0" stroke="none" stroke-width="1"/>
<rect x="69.6" y="676.8" width="136.2" height="6.1" fill="#f8f8f8" stroke="none" stroke-width="1"/>
<rect x="69.6" y="683.1" width="136.2" height="6.1" fill="#f0f0f0" stroke="none" stroke-width="1"/>
<rect x="102.5" y="573.1" width="6.8" height="84.0" fill="#383838" stroke="none" stroke-width="1"/>
<text x="105.9" y="571.5" font-size="5.8" text-anchor="middle" fill="#333">11</text>
<rect x="114.6" y="634.2" width="6.8" height="22.9" fill="#383838" stroke="none" stroke-width="1"/>
<text x="118.0" y="632.6" font-size="5.8" text-anchor="middle" fill="#333">3</text>
<rect x="126.3" y="634.2" width="6.8" height="22.9" fill="#383838" stroke="none" stroke-width="1"/>
<text x="129.7" y="632.6" font-size="5.8" text-anchor="middle" fill="#e02020">3</text>
<rect x="138.3" y="649.5" width="6.8" height="7.6" fill="#383838" stroke="none" stroke-width="1"/>
<text x="141.7" y="647.9" font-size="5.8" text-anchor="middle" fill="#333">1</text>
<rect x="150.0" y="649.5" width="6.8" height="7.6" fill="#383838" stroke="none" stroke-width="1"/>
<text x="153.4" y="647.9" font-size="5.8" text-anchor="middle" fill="#333">1</text>
<rect x="161.8" y="649.5" width="6.8" height="7.6" fill="#383838" stroke="none" stroke-width="1"/>
<text x="165.2" y="647.9" font-size="5.8" text-anchor="middle" fill="#333">1</text>
<rect x="173.5" y="649.5" width="6.8" height="7.6" fill="#383838" stroke="none" stroke-width="1"/>
<text x="176.9" y="647.9" font-size="5.8" text-anchor="middle" fill="#333">1</text>
<rect x="185.3" y="649.5" width="6.8" height="7.6" fill="#383838" stroke="none" stroke-width="1"/>
<text x="188.7" y="647.9" font-size="5.8" text-anchor="middle" fill="#333">1</text>
<rect x="197.0" y="649.5" width="6.8" height="7.6" fill="#383838" stroke="none" stroke-width="1"/>
<text x="200.4" y="647.9" font-size="5.8" text-anchor="middle" fill="#333">1</text>
<line x1="94.3" y1="559.7" x2="94.3" y2="657.3" stroke="#333" stroke-width="0.7"/>
<line x1="94.3" y1="657.3" x2="212.3" y2="657.3" stroke="#333" stroke-width="0.7"/>
<line x1="92.3" y1="657.1" x2="94.3" y2="657.1" stroke="#333" stroke-width="0.6"/>
<text x="91.8" y="658.9" font-size="5.0" text-anchor="end" fill="#4d4d4d">0.0</text>
<line x1="92.3" y1="638.0" x2="94.3" y2="638.0" stroke="#333" stroke-width="0.6"/>
<text x="91.8" y="639.8" font-size="5.0" text-anchor="end" fill="#4d4d4d">2.5</text>
<line x1="92.3" y1="618.9" x2="94.3" y2="618.9" stroke="#333" stroke-width="0.6"/>
<text x="91.8" y="620.7" font-size="5.0" text-anchor="end" fill="#4d4d4d">5.0</text>
<line x1="92.3" y1="599.8" x2="94.3" y2="599.8" stroke="#333" stroke-width="0.6"/>
<text x="91.8" y="601.6" font-size="5.0" text-anchor="end" fill="#4d4d4d">7.5</text>
<line x1="92.3" y1="580.7" x2="94.3" y2="580.7" stroke="#333" stroke-width="0.6"/>
<text x="91.8" y="582.5" font-size="5.0" text-anchor="end" fill="#4d4d4d">10.0</text>
<line x1="92.3" y1="561.6" x2="94.3" y2="561.6" stroke="#333" stroke-width="0.6"/>
<text x="91.8" y="563.4" font-size="5.0" text-anchor="end" fill="#4d4d4d">12.5</text>
<text x="75.5" y="605.8" font-size="7.7" text-anchor="middle" fill="#222" transform="rotate(-90 75.5 605.8)">Intersection Size</text>
<text x="129.6" y="603.7" font-size="6.8" text-anchor="middle" fill="#e82020">ALDH3A2</text>
<text x="129.6" y="611.8" font-size="6.8" text-anchor="middle" fill="#e82020">PDK4</text>
<text x="129.6" y="620.0" font-size="6.8" text-anchor="middle" fill="#e82020">GJA1</text>
<circle cx="105.9" cy="661.2" r="0.9" fill="#d4d4d4" stroke="none" stroke-width="1"/>
<circle cx="105.9" cy="667.3" r="0.9" fill="#d4d4d4" stroke="none" stroke-width="1"/>
<circle cx="105.9" cy="673.5" r="0.9" fill="#d4d4d4" stroke="none" stroke-width="1"/>
<circle cx="105.9" cy="679.8" r="0.9" fill="#d4d4d4" stroke="none" stroke-width="1"/>
<circle cx="105.9" cy="686.1" r="1.3" fill="#222" stroke="none" stroke-width="1"/>
<circle cx="118.0" cy="661.2" r="0.9" fill="#d4d4d4" stroke="none" stroke-width="1"/>
<circle cx="118.0" cy="667.3" r="0.9" fill="#d4d4d4" stroke="none" stroke-width="1"/>
<line x1="118.0" y1="673.5" x2="118.0" y2="686.1" stroke="#333" stroke-width="0.8"/>
<circle cx="118.0" cy="673.5" r="1.3" fill="#222" stroke="none" stroke-width="1"/>
<circle cx="118.0" cy="679.8" r="1.3" fill="#222" stroke="none" stroke-width="1"/>
<circle cx="118.0" cy="686.1" r="1.3" fill="#222" stroke="none" stroke-width="1"/>
<line x1="129.7" y1="661.2" x2="129.7" y2="686.1" stroke="#333" stroke-width="0.8"/>
<circle cx="129.7" cy="661.2" r="1.3" fill="#222" stroke="none" stroke-width="1"/>
<circle cx="129.7" cy="667.3" r="1.3" fill="#222" stroke="none" stroke-width="1"/>
<circle cx="129.7" cy="673.5" r="1.3" fill="#222" stroke="none" stroke-width="1"/>
<circle cx="129.7" cy="679.8" r="1.3" fill="#222" stroke="none" stroke-width="1"/>
<circle cx="129.7" cy="686.1" r="1.3" fill="#222" stroke="none" stroke-width="1"/>
<circle cx="141.7" cy="667.3" r="0.9" fill="#d4d4d4" stroke="none" stroke-width="1"/>
<circle cx="141.7" cy="673.5" r="0.9" fill="#d4d4d4" stroke="none" stroke-width="1"/>
<circle cx="141.7" cy="679.8" r="0.9" fill="#d4d4d4" stroke="none" stroke-width="1"/>
<line x1="141.7" y1="661.2" x2="141.7" y2="686.1" stroke="#333" stroke-width="0.8"/>
<circle cx="141.7" cy="661.2" r="1.3" fill="#222" stroke="none" stroke-width="1"/>
<circle cx="141.7" cy="686.1" r="1.3" fill="#222" stroke="none" stroke-width="1"/>
<circle cx="153.4" cy="661.2" r="0.9" fill="#d4d4d4" stroke="none" stroke-width="1"/>
<circle cx="153.4" cy="673.5" r="0.9" fill="#d4d4d4" stroke="none" stroke-width="1"/>
<circle cx="153.4" cy="679.8" r="0.9" fill="#d4d4d4" stroke="none" stroke-width="1"/>
<line x1="153.4" y1="667.3" x2="153.4" y2="686.1" stroke="#333" stroke-width="0.8"/>
<circle cx="153.4" cy="667.3" r="1.3" fill="#222" stroke="none" stroke-width="1"/>
<circle cx="153.4" cy="686.1" r="1.3" fill="#222" stroke="none" stroke-width="1"/>
<circle cx="165.2" cy="661.2" r="0.9" fill="#d4d4d4" stroke="none" stroke-width="1"/>
<circle cx="165.2" cy="679.8" r="0.9" fill="#d4d4d4" stroke="none" stroke-width="1"/>
<line x1="165.2" y1="667.3" x2="165.2" y2="686.1" stroke="#333" stroke-width="0.8"/>
<circle cx="165.2" cy="667.3" r="1.3" fill="#222" stroke="none" stroke-width="1"/>
<circle cx="165.2" cy="673.5" r="1.3" fill="#222" stroke="none" stroke-width="1"/>
<circle cx="165.2" cy="686.1" r="1.3" fill="#222" stroke="none" stroke-width="1"/>
<circle cx="176.9" cy="679.8" r="0.9" fill="#d4d4d4" stroke="none" stroke-width="1"/>
<line x1="176.9" y1="661.2" x2="176.9" y2="686.1" stroke="#333" stroke-width="0.8"/>
<circle cx="176.9" cy="661.2" r="1.3" fill="#222" stroke="none" stroke-width="1"/>
<circle cx="176.9" cy="667.3" r="1.3" fill="#222" stroke="none" stroke-width="1"/>
<circle cx="176.9" cy="673.5" r="1.3" fill="#222" stroke="none" stroke-width="1"/>
<circle cx="176.9" cy="686.1" r="1.3" fill="#222" stroke="none" stroke-width="1"/>
<circle cx="188.7" cy="661.2" r="0.9" fill="#d4d4d4" stroke="none" stroke-width="1"/>
<circle cx="188.7" cy="667.3" r="0.9" fill="#d4d4d4" stroke="none" stroke-width="1"/>
<circle cx="188.7" cy="673.5" r="0.9" fill="#d4d4d4" stroke="none" stroke-width="1"/>
<line x1="188.7" y1="679.8" x2="188.7" y2="686.1" stroke="#333" stroke-width="0.8"/>
<circle cx="188.7" cy="679.8" r="1.3" fill="#222" stroke="none" stroke-width="1"/>
<circle cx="188.7" cy="686.1" r="1.3" fill="#222" stroke="none" stroke-width="1"/>
<circle cx="200.4" cy="667.3" r="0.9" fill="#d4d4d4" stroke="none" stroke-width="1"/>
<circle cx="200.4" cy="673.5" r="0.9" fill="#d4d4d4" stroke="none" stroke-width="1"/>
<line x1="200.4" y1="661.2" x2="200.4" y2="686.1" stroke="#333" stroke-width="0.8"/>
<circle cx="200.4" cy="661.2" r="1.3" fill="#222" stroke="none" stroke-width="1"/>
<circle cx="200.4" cy="679.8" r="1.3" fill="#222" stroke="none" stroke-width="1"/>
<circle cx="200.4" cy="686.1" r="1.3" fill="#222" stroke="none" stroke-width="1"/>
<rect x="58.8" y="659.1" width="10.6" height="4.2" fill="#383838" stroke="none" stroke-width="1"/>
<text x="81.9" y="662.5" font-size="3.9" text-anchor="middle" fill="#222">RandomForest</text>
<rect x="58.8" y="665.2" width="10.6" height="4.2" fill="#383838" stroke="none" stroke-width="1"/>
<text x="81.9" y="668.6" font-size="3.9" text-anchor="middle" fill="#222">LASSO</text>
<rect x="55.5" y="671.4" width="13.9" height="4.2" fill="#383838" stroke="none" stroke-width="1"/>
<text x="81.9" y="674.8" font-size="3.9" text-anchor="middle" fill="#222">Cox</text>
<rect x="55.5" y="677.7" width="13.9" height="4.2" fill="#383838" stroke="none" stroke-width="1"/>
<text x="81.9" y="681.1" font-size="3.9" text-anchor="middle" fill="#222">Boruta</text>
<rect x="30.0" y="684.0" width="39.4" height="4.2" fill="#383838" stroke="none" stroke-width="1"/>
<text x="81.9" y="687.4" font-size="3.9" text-anchor="middle" fill="#222">MFBCG</text>
<line x1="30.0" y1="688.8" x2="69.4" y2="688.8" stroke="#333" stroke-width="0.6"/>
<line x1="35.5" y1="688.8" x2="35.5" y2="690.0" stroke="#333" stroke-width="0.5"/>
<text x="35.5" y="693.9" font-size="4.4" text-anchor="middle" fill="#333">20</text>
<line x1="44.4" y1="688.8" x2="44.4" y2="690.0" stroke="#333" stroke-width="0.5"/>
<text x="44.4" y="693.9" font-size="4.4" text-anchor="middle" fill="#333">15</text>
<line x1="52.7" y1="688.8" x2="52.7" y2="690.0" stroke="#333" stroke-width="0.5"/>
<text x="52.7" y="693.9" font-size="4.4" text-anchor="middle" fill="#333">10</text>
<line x1="61.1" y1="688.8" x2="61.1" y2="690.0" stroke="#333" stroke-width="0.5"/>
<text x="61.1" y="693.9" font-size="4.4" text-anchor="middle" fill="#333">5</text>
<line x1="69.4" y1="688.8" x2="69.4" y2="690.0" stroke="#333" stroke-width="0.5"/>
<text x="69.4" y="693.9" font-size="4.4" text-anchor="middle" fill="#333">0</text>
<text x="51.4" y="698.6" font-size="5.4" text-anchor="middle" fill="#222" font-weight="bold">Set Size</text>
<text x="227.0" y="586.0" font-size="20" text-anchor="start" fill="#000" font-weight="bold">I</text>
<defs>
<filter id="mot" x="0" y="0" width="100%" height="100%" color-interpolation-filters="sRGB">
<feTurbulence type="fractalNoise" baseFrequency="0.55" numOctaves="3" seed="4" result="n"/>
<feColorMatrix in="n" type="matrix" values="0 0 0 0 1  0 0 0 0 1  0 0 0 0 1  1.5 0 0 0 -0.62" result="w"/>
<feColorMatrix in="n" type="matrix" values="0 0 0 0 0.3  0 0 0 0 0.22  0 0 0 0 0.25  0 1.2 0 0 -0.55" result="d"/>
<feMerge result="m"><feMergeNode in="SourceGraphic"/><feMergeNode in="w"/><feMergeNode in="d"/></feMerge>
<feComposite in="m" in2="SourceGraphic" operator="in"/>
</filter>
<filter id="mot2" x="0" y="0" width="100%" height="100%" color-interpolation-filters="sRGB">
<feTurbulence type="fractalNoise" baseFrequency="0.6" numOctaves="3" seed="11" result="n"/>
<feColorMatrix in="n" type="matrix" values="0 0 0 0 1  0 0 0 0 1  0 0 0 0 1  1.2 0 0 0 -0.5" result="w"/>
<feColorMatrix in="n" type="matrix" values="0 0 0 0 0.4  0 0 0 0 0.4  0 0 0 0 0.45  0 0.8 0 0 -0.4" result="d"/>
<feMerge result="m"><feMergeNode in="SourceGraphic"/><feMergeNode in="w"/><feMergeNode in="d"/></feMerge>
<feComposite in="m" in2="SourceGraphic" operator="in"/>
</filter>
</defs>
<rect x="263.5" y="585.5" width="48.2" height="99.0" fill="#f2f2f2" stroke="#222" stroke-width="1.3"/>
<text x="287.6" y="582.1" font-size="8.2" text-anchor="middle" fill="#111">ALDH3A2</text>
<rect x="403.5" y="585.5" width="48.2" height="99.0" fill="#f2f2f2" stroke="#222" stroke-width="1.3"/>
<text x="427.6" y="582.1" font-size="8.2" text-anchor="middle" fill="#111">PDK4</text>
<rect x="543.9" y="585.5" width="48.6" height="99.0" fill="#f2f2f2" stroke="#222" stroke-width="1.3"/>
<text x="568.2" y="582.1" font-size="8.2" text-anchor="middle" fill="#111">GJA1</text>
<g filter="url(#mot)"><circle cx="287.8" cy="610.7" r="22.4" fill="#8c6a56"/><path d="M289 589 Q297 598 295 611 Q304 603 307 597 Q301 589 289 589Z" fill="#9aa4c4"/></g>
<defs><filter id="bl3" x="-50%" y="-50%" width="200%" height="200%"><feGaussianBlur stdDeviation="2.2"/></filter><clipPath id="cpn"><circle cx="287.8" cy="610.7" r="22.4"/></clipPath></defs>
<g clip-path="url(#cpn)"><g opacity="0.3" fill="#ffffff" filter="url(#bl3)"><ellipse cx="288" cy="627" rx="16" ry="6"/><ellipse cx="276" cy="610" rx="3" ry="4"/></g></g>
<g filter="url(#mot)"><circle cx="287.8" cy="661" r="22.2" fill="#7a86ac"/><path d="M268 664 Q285 667 301 676 Q305 680 299 682 Q285 674 268 670Z" fill="#f4f4f6"/></g>
<g fill="none" stroke="#f4f4f8" stroke-width="0.9" opacity="0.85" stroke-linecap="round"><path d="M271 650 Q280 646 290 649"/><path d="M274 656 Q286 651 298 655"/><path d="M279 643 Q289 640 299 645"/><path d="M293 650 Q297 652 301 650"/><path d="M270 661 Q279 659 287 662"/><path d="M292 660 Q298 658 304 662"/></g>
<g filter="url(#mot)"><ellipse cx="427.8" cy="610.2" rx="20.4" ry="21.4" fill="#b09aa6"/></g>
<g filter="url(#mot2)"><ellipse cx="427.8" cy="661" rx="19.2" ry="19.8" fill="#cdc5d0"/></g>
<g fill="#faf6f2" stroke="#a07860" stroke-width="0.7" opacity="0.95"><path d="M418 650 Q423 646 427 650 Q425 655 420 655Z"/><path d="M428 655 Q434 652 437 657 Q436 663 431 664 Q427 661 428 655Z"/><path d="M421 660 Q425 658 427 662 Q427 668 423 669 Q419 666 421 660Z"/><path d="M432 667 Q436 666 437 670 Q434 673 431 671Z"/><path d="M438 650 Q442 652 441 656 Q438 655 438 650Z"/><path d="M413 657 Q416 656 416 660 Q413 661 413 657Z"/></g>
<g filter="url(#mot2)"><ellipse cx="568.1" cy="611.1" rx="20.4" ry="21.2" fill="#e8e4e2"/></g>
<g fill="#9a6a4a" opacity="0.55"><ellipse cx="556" cy="621" rx="3" ry="2.2"/><ellipse cx="561" cy="626" rx="3.5" ry="2.4"/><ellipse cx="567" cy="628" rx="2.6" ry="2"/><ellipse cx="574" cy="627" rx="2" ry="1.6"/><ellipse cx="552" cy="616" rx="1.6" ry="1.4"/><ellipse cx="579" cy="624" rx="1.8" ry="1.3"/></g>
<g filter="url(#mot2)"><ellipse cx="568.1" cy="660.4" rx="21.9" ry="22.6" fill="#c4c8d8"/></g>
<path d="M568 664 Q570 667 569 671 Q567 668 568 664Z" fill="#fafafa"/>
<line x1="258.5" y1="590.8" x2="258.5" y2="680.0" stroke="#111" stroke-width="1.0"/>
<text x="251.2" y="613.7" font-size="9.5" text-anchor="middle" fill="#111" transform="rotate(-90 251.2 613.7)">Normal</text>
<text x="251.2" y="660.7" font-size="9.5" text-anchor="middle" fill="#111" transform="rotate(-90 251.2 660.7)">Tumor</text>
<text x="320.7" y="595.3" font-size="6.85" text-anchor="start" fill="#111">Patient ID: 2471</text>
<text x="320.7" y="603.8" font-size="6.85" text-anchor="start" fill="#111">Sex: Male</text>
<text x="320.7" y="612.4" font-size="6.85" text-anchor="start" fill="#111">Age: 68</text>
<text x="320.7" y="620.9" font-size="6.85" text-anchor="start" fill="#111">HPA014769</text>
<text x="320.7" y="629.5" font-size="6.85" text-anchor="start" fill="#111">Staining intensity: Medium</text>
<text x="320.7" y="646.4" font-size="6.85" text-anchor="start" fill="#111">Patient ID: 2378</text>
<text x="320.7" y="654.9" font-size="6.85" text-anchor="start" fill="#111">Sex: Male</text>
<text x="320.7" y="663.5" font-size="6.85" text-anchor="start" fill="#111">Age: 59</text>
<text x="320.7" y="672.0" font-size="6.85" text-anchor="start" fill="#111">HPA014769</text>
<text x="320.7" y="680.6" font-size="6.85" text-anchor="start" fill="#111">Staining intensity: Low</text>
<text x="459.0" y="595.3" font-size="6.85" text-anchor="start" fill="#111">Patient ID: 1650</text>
<text x="459.0" y="603.8" font-size="6.85" text-anchor="start" fill="#111">Sex: Male</text>
<text x="459.0" y="612.4" font-size="6.85" text-anchor="start" fill="#111">Age: 55</text>
<text x="459.0" y="620.9" font-size="6.85" text-anchor="start" fill="#111">HPA056731</text>
<text x="459.0" y="629.5" font-size="6.85" text-anchor="start" fill="#111">Staining intensity: Medium</text>
<text x="459.0" y="646.4" font-size="6.85" text-anchor="start" fill="#111">Patient ID: 893</text>
<text x="459.0" y="654.9" font-size="6.85" text-anchor="start" fill="#111">Sex: Male</text>
<text x="459.0" y="663.5" font-size="6.85" text-anchor="start" fill="#111">Age: 77</text>
<text x="459.0" y="672.0" font-size="6.85" text-anchor="start" fill="#111">HPA056731</text>
<text x="459.0" y="680.6" font-size="6.85" text-anchor="start" fill="#111">Staining intensity: Medium</text>
<text x="600.0" y="595.3" font-size="6.85" text-anchor="start" fill="#111">Patient ID: 2583</text>
<text x="600.0" y="603.8" font-size="6.85" text-anchor="start" fill="#111">Sex: Male</text>
<text x="600.0" y="612.4" font-size="6.85" text-anchor="start" fill="#111">Age: 72</text>
<text x="600.0" y="620.9" font-size="6.85" text-anchor="start" fill="#111">CAB010753</text>
<text x="600.0" y="629.5" font-size="6.85" text-anchor="start" fill="#111">Staining intensity: Low</text>
<text x="600.0" y="646.4" font-size="6.85" text-anchor="start" fill="#111">Patient ID: 1061</text>
<text x="600.0" y="654.9" font-size="6.85" text-anchor="start" fill="#111">Sex: Female</text>
<text x="600.0" y="663.5" font-size="6.85" text-anchor="start" fill="#111">Age: 71</text>
<text x="600.0" y="672.0" font-size="6.85" text-anchor="start" fill="#111">CAB010753</text>
<text x="600.0" y="680.6" font-size="6.85" text-anchor="start" fill="#111">Staining intensity: Low</text>
<text x="2.5" y="727.0" font-size="20" text-anchor="start" fill="#000" font-weight="bold">J</text>
<rect x="63.2" y="768.3" width="16.6" height="75.8" fill="#f0eaa4" stroke="#e8b040" stroke-width="1.3"/>
<rect x="88.8" y="788.0" width="16.6" height="56.1" fill="#f0bccb" stroke="#e0506a" stroke-width="1.3"/>
<rect x="114.4" y="817.2" width="16.6" height="26.9" fill="#c0bce2" stroke="#4c58a0" stroke-width="1.3"/>
<rect x="139.2" y="827.8" width="16.6" height="16.3" fill="#d8ecd2" stroke="#40a050" stroke-width="1.3"/>
<rect x="165.0" y="805.4" width="16.6" height="38.7" fill="#cbe8f2" stroke="#78b8e0" stroke-width="1.3"/>
<line x1="71.5" y1="757.5" x2="71.5" y2="778.6" stroke="#000" stroke-width="1.2"/>
<line x1="67.3" y1="757.5" x2="75.7" y2="757.5" stroke="#000" stroke-width="1.2"/>
<line x1="67.3" y1="778.6" x2="75.7" y2="778.6" stroke="#000" stroke-width="1.2"/>
<circle cx="71.5" cy="753.6" r="2.15" fill="#000" stroke="none" stroke-width="1"/>
<circle cx="71.5" cy="768.0" r="2.15" fill="#000" stroke="none" stroke-width="1"/>
<circle cx="71.5" cy="771.4" r="2.15" fill="#000" stroke="none" stroke-width="1"/>
<circle cx="71.5" cy="778.2" r="2.15" fill="#000" stroke="none" stroke-width="1"/>
<line x1="71.5" y1="844.1" x2="71.5" y2="848.3" stroke="#000" stroke-width="1.2"/>
<line x1="97.1" y1="781.6" x2="97.1" y2="795.0" stroke="#000" stroke-width="1.2"/>
<line x1="92.9" y1="781.6" x2="101.3" y2="781.6" stroke="#000" stroke-width="1.2"/>
<line x1="92.9" y1="795.0" x2="101.3" y2="795.0" stroke="#000" stroke-width="1.2"/>
<circle cx="97.1" cy="780.6" r="2.15" fill="#000" stroke="none" stroke-width="1"/>
<circle cx="93.3" cy="786.3" r="2.15" fill="#000" stroke="none" stroke-width="1"/>
<circle cx="100.5" cy="788.8" r="2.15" fill="#000" stroke="none" stroke-width="1"/>
<circle cx="97.1" cy="794.9" r="2.15" fill="#000" stroke="none" stroke-width="1"/>
<line x1="97.1" y1="844.1" x2="97.1" y2="848.3" stroke="#000" stroke-width="1.2"/>
<line x1="122.7" y1="810.9" x2="122.7" y2="824.6" stroke="#000" stroke-width="1.2"/>
<line x1="118.5" y1="810.9" x2="126.9" y2="810.9" stroke="#000" stroke-width="1.2"/>
<line x1="118.5" y1="824.6" x2="126.9" y2="824.6" stroke="#000" stroke-width="1.2"/>
<circle cx="126.1" cy="810.3" r="2.15" fill="#000" stroke="none" stroke-width="1"/>
<circle cx="120.0" cy="812.9" r="2.15" fill="#000" stroke="none" stroke-width="1"/>
<circle cx="125.5" cy="822.5" r="2.15" fill="#000" stroke="none" stroke-width="1"/>
<circle cx="120.0" cy="824.0" r="2.15" fill="#000" stroke="none" stroke-width="1"/>
<line x1="122.7" y1="844.1" x2="122.7" y2="848.3" stroke="#000" stroke-width="1.2"/>
<line x1="147.5" y1="821.5" x2="147.5" y2="834.8" stroke="#000" stroke-width="1.2"/>
<line x1="143.3" y1="821.5" x2="151.7" y2="821.5" stroke="#000" stroke-width="1.2"/>
<line x1="143.3" y1="834.8" x2="151.7" y2="834.8" stroke="#000" stroke-width="1.2"/>
<circle cx="151.1" cy="821.9" r="2.15" fill="#000" stroke="none" stroke-width="1"/>
<circle cx="144.9" cy="824.6" r="2.15" fill="#000" stroke="none" stroke-width="1"/>
<circle cx="147.5" cy="829.3" r="2.15" fill="#000" stroke="none" stroke-width="1"/>
<circle cx="148.0" cy="834.8" r="2.15" fill="#000" stroke="none" stroke-width="1"/>
<line x1="147.5" y1="844.1" x2="147.5" y2="848.3" stroke="#000" stroke-width="1.2"/>
<line x1="173.3" y1="797.0" x2="173.3" y2="813.3" stroke="#000" stroke-width="1.2"/>
<line x1="169.1" y1="797.0" x2="177.5" y2="797.0" stroke="#000" stroke-width="1.2"/>
<line x1="169.1" y1="813.3" x2="177.5" y2="813.3" stroke="#000" stroke-width="1.2"/>
<circle cx="173.3" cy="794.9" r="2.15" fill="#000" stroke="none" stroke-width="1"/>
<circle cx="173.3" cy="802.7" r="2.15" fill="#000" stroke="none" stroke-width="1"/>
<circle cx="176.6" cy="809.6" r="2.15" fill="#000" stroke="none" stroke-width="1"/>
<circle cx="170.5" cy="812.9" r="2.15" fill="#000" stroke="none" stroke-width="1"/>
<line x1="173.3" y1="844.1" x2="173.3" y2="848.3" stroke="#000" stroke-width="1.2"/>
<line x1="55.4" y1="729.8" x2="55.4" y2="844.1" stroke="#000" stroke-width="1.3"/>
<line x1="54.8" y1="844.1" x2="190.9" y2="844.1" stroke="#000" stroke-width="1.3"/>
<line x1="50.4" y1="844.1" x2="55.4" y2="844.1" stroke="#000" stroke-width="1.2"/>
<text x="49.2" y="847.2" font-size="8.7" text-anchor="end" fill="#222">0.0</text>
<line x1="50.4" y1="806.2" x2="55.4" y2="806.2" stroke="#000" stroke-width="1.2"/>
<text x="49.2" y="809.3" font-size="8.7" text-anchor="end" fill="#222">0.5</text>
<line x1="50.4" y1="768.3" x2="55.4" y2="768.3" stroke="#000" stroke-width="1.2"/>
<text x="49.2" y="771.4" font-size="8.7" text-anchor="end" fill="#222">1.0</text>
<line x1="50.4" y1="730.4" x2="55.4" y2="730.4" stroke="#000" stroke-width="1.2"/>
<text x="49.2" y="733.5" font-size="8.7" text-anchor="end" fill="#222">1.5</text>
<line x1="72.4" y1="748.5" x2="94.2" y2="748.5" stroke="#000" stroke-width="1.3"/>
<text x="83.2" y="748.6" font-size="8.6" text-anchor="middle" fill="#111">**</text>
<line x1="72.4" y1="739.3" x2="119.8" y2="739.3" stroke="#000" stroke-width="1.3"/>
<text x="95.3" y="739.4" font-size="8.6" text-anchor="middle" fill="#111">***</text>
<line x1="72.4" y1="730.1" x2="145.3" y2="730.1" stroke="#000" stroke-width="1.3"/>
<text x="109.8" y="730.2" font-size="8.6" text-anchor="middle" fill="#111">***</text>
<line x1="72.4" y1="720.7" x2="171.9" y2="720.7" stroke="#000" stroke-width="1.3"/>
<text x="122.4" y="720.8" font-size="8.6" text-anchor="middle" fill="#111">***</text>
<text x="76.0" y="855.7" font-size="9.3" text-anchor="end" fill="#111" transform="rotate(-30 76.0 855.7)">GES-1</text>
<text x="101.6" y="855.7" font-size="9.3" text-anchor="end" fill="#111" transform="rotate(-30 101.6 855.7)">SGC7901</text>
<text x="127.2" y="855.7" font-size="9.3" text-anchor="end" fill="#111" transform="rotate(-30 127.2 855.7)">MGC803</text>
<text x="152.0" y="855.7" font-size="9.3" text-anchor="end" fill="#111" transform="rotate(-30 152.0 855.7)">HGC27</text>
<text x="177.8" y="855.7" font-size="9.3" text-anchor="end" fill="#111" transform="rotate(-30 177.8 855.7)">MKN45</text>
<text x="18.0" y="787.5" font-size="9.2" text-anchor="middle" fill="#111" transform="rotate(-90 18.0 787.5)">ALDH3A2/GAPDH</text>
<text x="29.2" y="787.5" font-size="9.2" text-anchor="middle" fill="#111" transform="rotate(-90 29.2 787.5)">(mRNA, fold change)</text>
<text x="396.5" y="728.0" font-size="20" text-anchor="start" fill="#000" font-weight="bold">L</text>
<rect x="448.4" y="768.9" width="18.1" height="65.7" fill="#f0eaa4" stroke="#e8b040" stroke-width="1.3"/>
<rect x="476.1" y="762.0" width="18.4" height="72.6" fill="#f0bccb" stroke="#e0506a" stroke-width="1.3"/>
<rect x="503.9" y="814.2" width="18.8" height="20.4" fill="#cbe8f2" stroke="#78b8e0" stroke-width="1.3"/>
<line x1="457.5" y1="762.0" x2="457.5" y2="775.4" stroke="#000" stroke-width="1.2"/>
<line x1="453.3" y1="762.0" x2="461.7" y2="762.0" stroke="#000" stroke-width="1.2"/>
<line x1="453.3" y1="775.4" x2="461.7" y2="775.4" stroke="#000" stroke-width="1.2"/>
<circle cx="451.2" cy="762.0" r="2.15" fill="#000" stroke="none" stroke-width="1"/>
<circle cx="457.6" cy="766.1" r="2.15" fill="#000" stroke="none" stroke-width="1"/>
<circle cx="463.9" cy="768.2" r="2.15" fill="#000" stroke="none" stroke-width="1"/>
<circle cx="457.6" cy="778.2" r="2.15" fill="#000" stroke="none" stroke-width="1"/>
<line x1="457.5" y1="834.6" x2="457.5" y2="838.8" stroke="#000" stroke-width="1.2"/>
<line x1="485.3" y1="755.1" x2="485.3" y2="770.4" stroke="#000" stroke-width="1.2"/>
<line x1="481.1" y1="755.1" x2="489.5" y2="755.1" stroke="#000" stroke-width="1.2"/>
<line x1="481.1" y1="770.4" x2="489.5" y2="770.4" stroke="#000" stroke-width="1.2"/>
<circle cx="480.8" cy="757.7" r="2.15" fill="#000" stroke="none" stroke-width="1"/>
<circle cx="485.5" cy="759.8" r="2.15" fill="#000" stroke="none" stroke-width="1"/>
<circle cx="490.0" cy="763.2" r="2.15" fill="#000" stroke="none" stroke-width="1"/>
<circle cx="485.5" cy="770.0" r="2.15" fill="#000" stroke="none" stroke-width="1"/>
<line x1="485.3" y1="834.6" x2="485.3" y2="838.8" stroke="#000" stroke-width="1.2"/>
<line x1="513.3" y1="809.2" x2="513.3" y2="818.4" stroke="#000" stroke-width="1.2"/>
<line x1="509.1" y1="809.2" x2="517.5" y2="809.2" stroke="#000" stroke-width="1.2"/>
<line x1="509.1" y1="818.4" x2="517.5" y2="818.4" stroke="#000" stroke-width="1.2"/>
<circle cx="508.4" cy="810.3" r="2.15" fill="#000" stroke="none" stroke-width="1"/>
<circle cx="517.6" cy="810.3" r="2.15" fill="#000" stroke="none" stroke-width="1"/>
<circle cx="508.4" cy="817.0" r="2.15" fill="#000" stroke="none" stroke-width="1"/>
<circle cx="517.6" cy="818.4" r="2.15" fill="#000" stroke="none" stroke-width="1"/>
<line x1="513.3" y1="834.6" x2="513.3" y2="838.8" stroke="#000" stroke-width="1.2"/>
<line x1="438.6" y1="735.4" x2="438.6" y2="834.6" stroke="#000" stroke-width="1.3"/>
<line x1="438.0" y1="834.6" x2="532.3" y2="834.6" stroke="#000" stroke-width="1.3"/>
<line x1="432.8" y1="834.6" x2="438.6" y2="834.6" stroke="#000" stroke-width="1.2"/>
<text x="428.1" y="837.7" font-size="8.7" text-anchor="end" fill="#222">0.0</text>
<line x1="432.8" y1="801.7" x2="438.6" y2="801.7" stroke="#000" stroke-width="1.2"/>
<text x="428.1" y="804.8" font-size="8.7" text-anchor="end" fill="#222">0.5</text>
<line x1="432.8" y1="768.9" x2="438.6" y2="768.9" stroke="#000" stroke-width="1.2"/>
<text x="428.1" y="772.0" font-size="8.7" text-anchor="end" fill="#222">1.0</text>
<line x1="432.8" y1="736.0" x2="438.6" y2="736.0" stroke="#000" stroke-width="1.2"/>
<text x="428.1" y="739.1" font-size="8.7" text-anchor="end" fill="#222">1.5</text>
<line x1="457.7" y1="732.6" x2="513.5" y2="732.6" stroke="#000" stroke-width="1.3"/>
<text x="486.6" y="732.6" font-size="8.6" text-anchor="middle" fill="#111">***</text>
<line x1="457.7" y1="743.4" x2="484.3" y2="743.4" stroke="#000" stroke-width="1.3"/>
<text x="471.6" y="741.6" font-size="8.6" text-anchor="middle" fill="#111">n.s.</text>
<text x="461.0" y="848.7" font-size="9.6" text-anchor="end" fill="#111" transform="rotate(-30 461.0 848.7)">GES-1</text>
<text x="488.8" y="848.7" font-size="9.6" text-anchor="end" fill="#111" transform="rotate(-30 488.8 848.7)">MGC803</text>
<text x="516.8" y="848.7" font-size="9.6" text-anchor="end" fill="#111" transform="rotate(-30 516.8 848.7)">HGC27</text>
<text x="401.5" y="786.0" font-size="9.2" text-anchor="middle" fill="#111" transform="rotate(-90 401.5 786.0)">PDK4/GAPDH</text>
<text x="412.3" y="786.0" font-size="9.2" text-anchor="middle" fill="#111" transform="rotate(-90 412.3 786.0)">(mRNA, fold change)</text>
<rect x="586.6" y="768.8" width="19.2" height="65.2" fill="#f0eaa4" stroke="#e8b040" stroke-width="1.3"/>
<rect x="616.0" y="783.3" width="19.7" height="50.7" fill="#f0bccb" stroke="#e0506a" stroke-width="1.3"/>
<rect x="647.0" y="771.4" width="19.2" height="62.6" fill="#cbe8f2" stroke="#78b8e0" stroke-width="1.3"/>
<line x1="596.2" y1="762.3" x2="596.2" y2="775.2" stroke="#000" stroke-width="1.2"/>
<line x1="592.0" y1="762.3" x2="600.4" y2="762.3" stroke="#000" stroke-width="1.2"/>
<line x1="592.0" y1="775.2" x2="600.4" y2="775.2" stroke="#000" stroke-width="1.2"/>
<circle cx="590.6" cy="764.3" r="2.15" fill="#000" stroke="none" stroke-width="1"/>
<circle cx="596.1" cy="762.7" r="2.15" fill="#000" stroke="none" stroke-width="1"/>
<circle cx="601.3" cy="770.2" r="2.15" fill="#000" stroke="none" stroke-width="1"/>
<circle cx="596.1" cy="777.0" r="2.15" fill="#000" stroke="none" stroke-width="1"/>
<line x1="596.2" y1="834.0" x2="596.2" y2="838.2" stroke="#000" stroke-width="1.2"/>
<line x1="625.9" y1="778.5" x2="625.9" y2="791.4" stroke="#000" stroke-width="1.2"/>
<line x1="621.7" y1="778.5" x2="630.1" y2="778.5" stroke="#000" stroke-width="1.2"/>
<line x1="621.7" y1="791.4" x2="630.1" y2="791.4" stroke="#000" stroke-width="1.2"/>
<circle cx="621.0" cy="783.1" r="2.15" fill="#000" stroke="none" stroke-width="1"/>
<circle cx="631.4" cy="779.7" r="2.15" fill="#000" stroke="none" stroke-width="1"/>
<circle cx="626.2" cy="785.3" r="2.15" fill="#000" stroke="none" stroke-width="1"/>
<circle cx="626.2" cy="791.0" r="2.15" fill="#000" stroke="none" stroke-width="1"/>
<line x1="625.9" y1="834.0" x2="625.9" y2="838.2" stroke="#000" stroke-width="1.2"/>
<line x1="656.6" y1="760.4" x2="656.6" y2="777.9" stroke="#000" stroke-width="1.2"/>
<line x1="652.4" y1="760.4" x2="660.8" y2="760.4" stroke="#000" stroke-width="1.2"/>
<line x1="652.4" y1="777.9" x2="660.8" y2="777.9" stroke="#000" stroke-width="1.2"/>
<circle cx="651.7" cy="759.8" r="2.15" fill="#000" stroke="none" stroke-width="1"/>
<circle cx="661.7" cy="765.6" r="2.15" fill="#000" stroke="none" stroke-width="1"/>
<circle cx="656.3" cy="771.8" r="2.15" fill="#000" stroke="none" stroke-width="1"/>
<circle cx="656.3" cy="779.7" r="2.15" fill="#000" stroke="none" stroke-width="1"/>
<line x1="656.6" y1="834.0" x2="656.6" y2="838.2" stroke="#000" stroke-width="1.2"/>
<line x1="575.8" y1="734.6" x2="575.8" y2="834.0" stroke="#000" stroke-width="1.3"/>
<line x1="575.2" y1="834.0" x2="677.5" y2="834.0" stroke="#000" stroke-width="1.3"/>
<line x1="569.5" y1="834.0" x2="575.8" y2="834.0" stroke="#000" stroke-width="1.2"/>
<text x="564.2" y="837.1" font-size="8.7" text-anchor="end" fill="#222">0.0</text>
<line x1="569.5" y1="801.1" x2="575.8" y2="801.1" stroke="#000" stroke-width="1.2"/>
<text x="564.2" y="804.2" font-size="8.7" text-anchor="end" fill="#222">0.5</text>
<line x1="569.5" y1="768.1" x2="575.8" y2="768.1" stroke="#000" stroke-width="1.2"/>
<text x="564.2" y="771.2" font-size="8.7" text-anchor="end" fill="#222">1.0</text>
<line x1="569.5" y1="735.2" x2="575.8" y2="735.2" stroke="#000" stroke-width="1.2"/>
<text x="564.2" y="738.3" font-size="8.7" text-anchor="end" fill="#222">1.5</text>
<line x1="596.8" y1="736.7" x2="656.7" y2="736.7" stroke="#000" stroke-width="1.3"/>
<text x="626.2" y="734.0" font-size="8.6" text-anchor="middle" fill="#111">n.s.</text>
<line x1="596.8" y1="746.9" x2="625.0" y2="746.9" stroke="#000" stroke-width="1.3"/>
<text x="611.0" y="747.6" font-size="8.6" text-anchor="middle" fill="#111">*</text>
<text x="599.7" y="847.7" font-size="9.6" text-anchor="end" fill="#111" transform="rotate(-30 599.7 847.7)">GES-1</text>
<text x="629.4" y="847.7" font-size="9.6" text-anchor="end" fill="#111" transform="rotate(-30 629.4 847.7)">MGC803</text>
<text x="660.1" y="847.7" font-size="9.6" text-anchor="end" fill="#111" transform="rotate(-30 660.1 847.7)">HGC27</text>
<text x="538.3" y="785.3" font-size="9.2" text-anchor="middle" fill="#111" transform="rotate(-90 538.3 785.3)">GJA1/GAPDH</text>
<text x="549.5" y="785.3" font-size="9.2" text-anchor="middle" fill="#111" transform="rotate(-90 549.5 785.3)">(mRNA, fold change)</text>
<text x="187.5" y="728.0" font-size="20" text-anchor="start" fill="#000" font-weight="bold">K</text>
<defs>
<filter id="blur1" x="-20%" y="-50%" width="140%" height="200%"><feGaussianBlur stdDeviation="1.6"/></filter>
<filter id="blur2" x="-20%" y="-50%" width="140%" height="200%"><feGaussianBlur stdDeviation="1.0"/></filter>
</defs>
<defs><linearGradient id="wbg" x1="0" y1="0" x2="1" y2="0"><stop offset="0" stop-color="#e2e2e2"/><stop offset="0.5" stop-color="#e8e8e8"/><stop offset="1" stop-color="#efefef"/></linearGradient></defs>
<rect x="221.2" y="738.0" width="166.4" height="30.9" fill="url(#wbg)" stroke="none" stroke-width="1"/>
<g filter="url(#blur2)"><rect x="225.2" y="746.2" width="26.3" height="13.7" rx="6" fill="#000"/><rect x="226" y="757" width="25" height="5" rx="2" fill="#555" opacity="0.6"/><path d="M254 752 Q254 750 258 750 L278 751 Q282 752 282 756 L282 760 Q280 762 276 762 L258 761 Q254 760 254 757Z" fill="#050505"/><rect x="286.8" y="755.6" width="10.8" height="4.4" rx="2" fill="#707070"/><rect x="305" y="756" width="9.5" height="4" rx="2" fill="#8e8e8e"/><rect x="320" y="757" width="26" height="3" rx="1.5" fill="#cfcfcf"/><rect x="350.5" y="755.6" width="31.5" height="7" rx="3.5" fill="#383838"/></g>
<rect x="221.2" y="738.0" width="166.4" height="30.9" fill="none" stroke="#111" stroke-width="1.2"/>
<rect x="221.2" y="790.6" width="166.4" height="30.0" fill="#dcdcdc" stroke="none" stroke-width="1"/>
<g filter="url(#blur2)"><rect x="227" y="800.4" width="26.9" height="11.2" rx="4.5" fill="#050505"/><rect x="255.1" y="799.8" width="29.9" height="11.8" rx="4.5" fill="#050505"/><rect x="286.4" y="800.4" width="29.8" height="11.4" rx="4.5" fill="#080808"/><rect x="318.3" y="800.6" width="29.4" height="11" rx="4.5" fill="#080808"/><rect x="349.5" y="799.6" width="33.7" height="12" rx="4.5" fill="#050505"/></g>
<rect x="221.2" y="790.6" width="166.4" height="30.0" fill="none" stroke="#111" stroke-width="1.2"/>
<text x="240.5" y="784.4" font-size="8.8" text-anchor="middle" fill="#111">1.00</text>
<text x="268.9" y="784.4" font-size="8.8" text-anchor="middle" fill="#111">0.71</text>
<text x="300.4" y="784.4" font-size="8.8" text-anchor="middle" fill="#111">0.28</text>
<text x="331.4" y="784.4" font-size="8.8" text-anchor="middle" fill="#111">0.11</text>
<text x="365.3" y="784.4" font-size="8.8" text-anchor="middle" fill="#111">0.40</text>
<text x="217.2" y="756.0" font-size="8.8" text-anchor="end" fill="#111">ALDH3A2</text>
<text x="187.7" y="812.1" font-size="8.8" text-anchor="start" fill="#111">β-actin</text>
<text x="243.4" y="832.6" font-size="9.2" text-anchor="end" fill="#111" transform="rotate(-28 243.4 832.6)">GES-1</text>
<text x="275.5" y="832.6" font-size="9.2" text-anchor="end" fill="#111" transform="rotate(-28 275.5 832.6)">SGC7901</text>
<text x="307.0" y="832.6" font-size="9.2" text-anchor="end" fill="#111" transform="rotate(-28 307.0 832.6)">MGC803</text>
<text x="337.5" y="832.6" font-size="9.2" text-anchor="end" fill="#111" transform="rotate(-28 337.5 832.6)">HGC27</text>
<text x="375.1" y="832.6" font-size="9.2" text-anchor="end" fill="#111" transform="rotate(-28 375.1 832.6)">MKN45</text>
</svg></body></html>
